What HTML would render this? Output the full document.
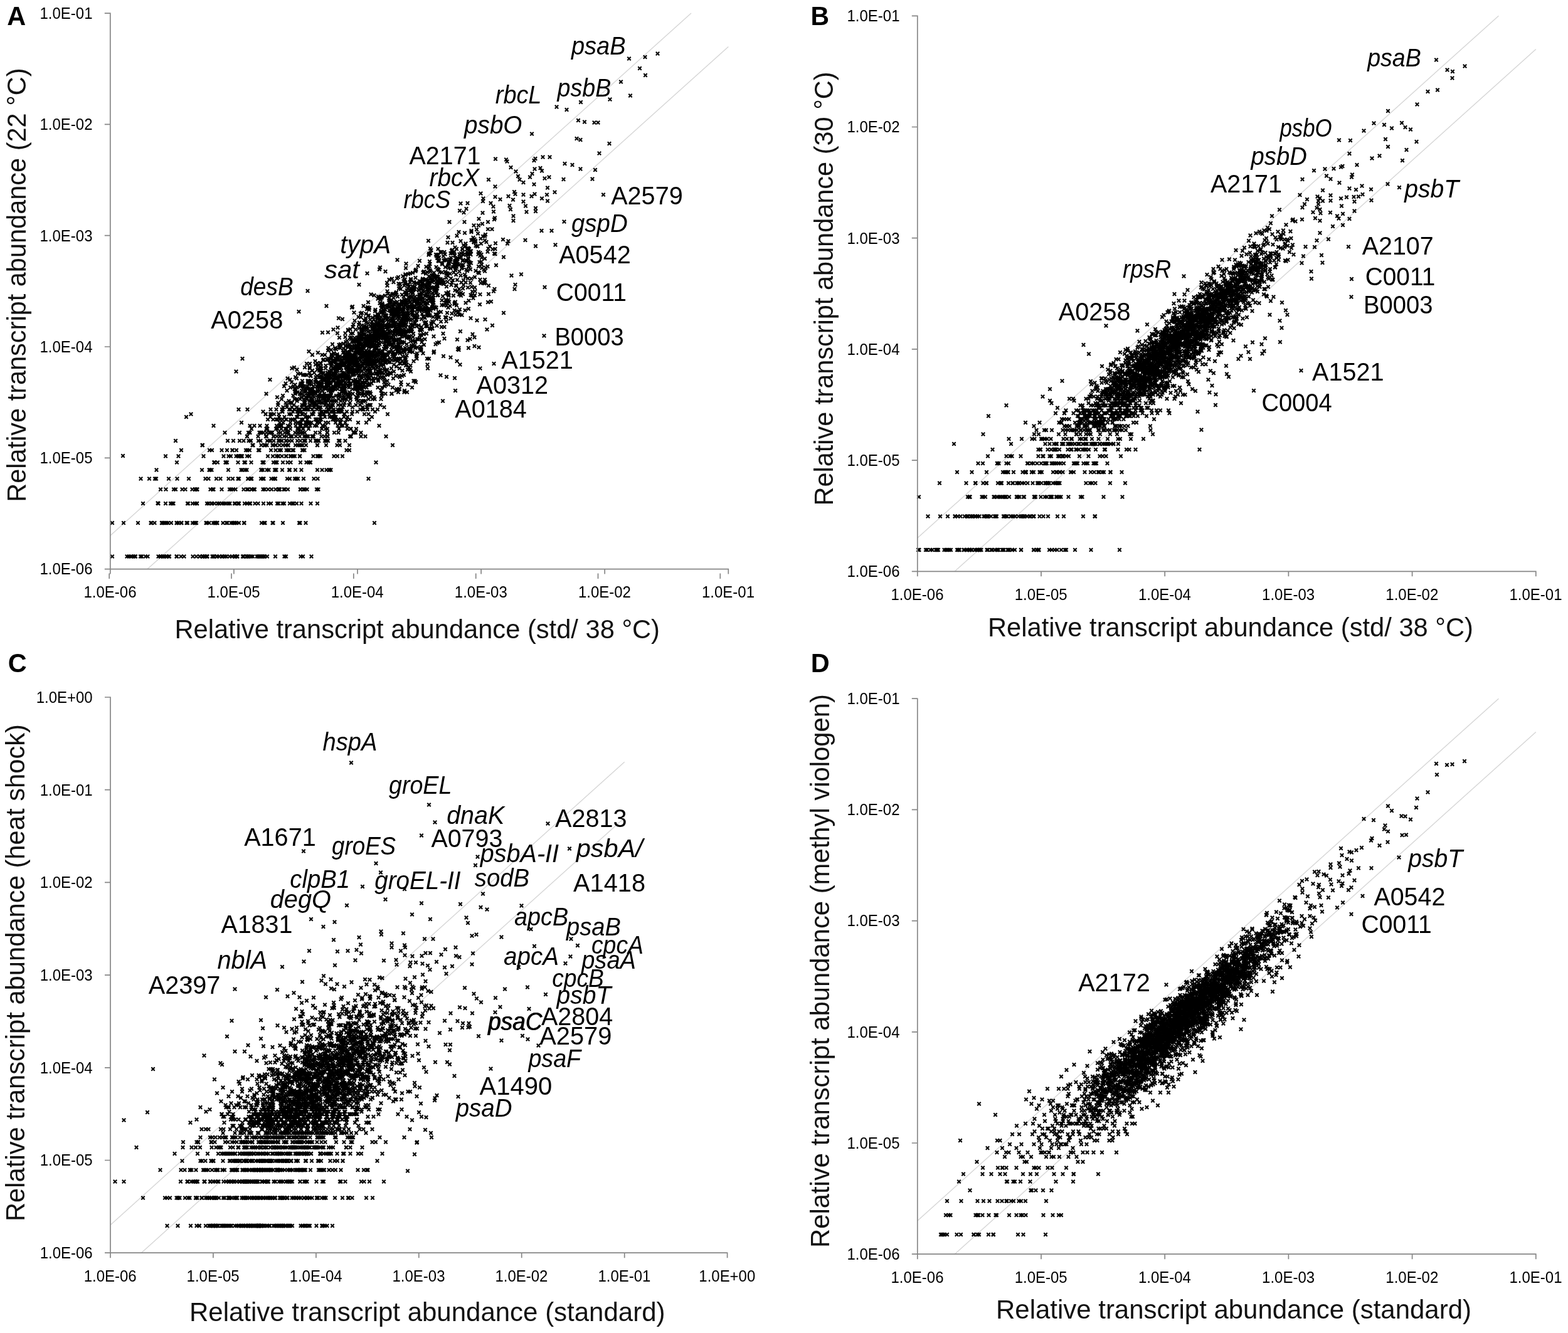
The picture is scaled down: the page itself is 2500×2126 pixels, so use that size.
<!DOCTYPE html>
<html lang="en"><head><meta charset="utf-8"><title>Relative transcript abundance scatter plots</title>
<style>html,body{margin:0;padding:0;background:#fff}svg{display:block}text{font-family:"Liberation Sans", sans-serif;fill:#000}.t{font-size:25px}.g{font-size:40px;font-style:italic}.n{font-size:40px}.ax{font-size:43px;fill:#111}.pl{font-size:42px;font-weight:bold}.pts{fill:none;stroke:none;marker-start:url(#m);marker-mid:url(#m);marker-end:url(#m)}.axl{stroke:#868686;stroke-width:1.7;fill:none}.dg{stroke:#d4d4d4;stroke-width:1.3;fill:none}</style></head><body>
<svg width="2500" height="2126" viewBox="0 0 2500 2126">
<defs><marker id="m" markerUnits="userSpaceOnUse" markerWidth="10" markerHeight="10" refX="5" refY="5" viewBox="0 0 10 10"><line x1="2.3" y1="2.3" x2="7.7" y2="7.7" stroke="#000" stroke-width="2.1"/><line x1="7.7" y1="2.3" x2="2.3" y2="7.7" stroke="#000" stroke-width="2.1"/></marker></defs>
<rect width="2500" height="2126" fill="#fff"/>
<g id="panelA">
<path class="dg" d="M175.8 854.2L1102 21.1"/>
<path class="dg" d="M235.1 907.6L1161.3 74.5"/>
<path class="pts" d="M712,436.5 675,475 593,665 597.5,572 705,421.5 734,528.5 639.5,613.5 478.5,653 594.5,596 658,543.5 508,633.5 474.5,690 584.5,566 618,596 695.5,490.5 386,727.5 593,538.5 565,690 585,649.5 599,514 424.5,684 634.5,550 579.5,533 341.5,737.5 343,834 571.5,543.5 703.5,449 209,887.5 728.5,376 636,572 389.5,834 689,476 401,763.5 714.5,378.5 478,727.5 494.5,628 677.5,507 479,737.5 750,451 713,499 525,611.5 530.5,646 644.5,517.5 665,554 364,749.5 440.5,749.5 730,421.5 640,530.5 370,887.5 502,679 607,530 519,684 695,450.5 684.5,460 590.5,532 488.5,636.5 583.5,514.5 620.5,482.5 689,490.5 541.5,586 591,562.5 493.5,646 542,584.5 689.5,480.5 475,596 552.5,587.5 515,594.5 445,665 617.5,573.5 626.5,498.5 638.5,580 632,543.5 599,568.5 696.5,440.5 366.5,803 715.5,471.5 681,453 616.5,510.5 471,749.5 379.5,763.5 613,503.5 503.5,609.5 651,504 481,649.5 512,591 419,749.5 566.5,571 474.5,625.5 628.5,504 628.5,481.5 323,887.5 662,555 574.5,589.5 753,465 484.5,616 666,478 421.5,710 698.5,416 322.5,710 546.5,649.5 741.5,495 382,727.5 530.5,639.5 773.5,450 727.5,456 644,598 269,763.5 672.5,545.5 444.5,703 654,527.5 672.5,493 314,803 609,601.5 535,586 506,710 558.5,613.5 527.5,631 461,653 747,417.5 562.5,531.5 514,618 534.5,599.5 489.5,636.5 658,467.5 570,552 508,611.5 465.5,696 533,660.5 470.5,669 701.5,450 412,718 497,660.5 503.5,669 627,520.5 607,498.5 570.5,618 568,684 620,518 511.5,620.5 627.5,545.5 464,660.5 633,555 288.5,887.5 686,396.5 473,803 542.5,609.5 509.5,660.5 669,416 456,887.5 777.5,401.5 626,618 635,541 521.5,611.5 627,603.5 742.5,388.5 521,649.5 607,533 560,571 484,780.5 509,618 631.5,494 579.5,653 514.5,679 632,523.5 555,631 667,484 525.5,631 498,628 653.5,523.5 486.5,642.5 601.5,532 480,633.5 697.5,456.5 582,573.5 719.5,454.5 575,555 436.5,696 507.5,639.5 548,596 456,684 573.5,605.5 612.5,649.5 697,503 644.5,625.5 616,553 576,540 247,763.5 342.5,834 648.5,529 270,887.5 590.5,541 773.5,509.5 627,495.5 637.5,522.5 490,653 284.5,727.5 508,703 226,887.5 442,633.5 565,596 659.5,503 639.5,493 645,623 414.5,887.5 506,618 522,684 562.5,571 503,581.5 606.5,591 523.5,616 685,473 255.5,887.5 635,547 482.5,611.5 473.5,639.5 284.5,834 514,530.5 487.5,834 607.5,580 629,554 517.5,605.5 537.5,710 606,527.5 612.5,605.5 483,887.5 562.5,589.5 527,628 560.5,538.5 502,642.5 731.5,555 416.5,749.5 567,690 643.5,490.5 625.5,528.5 610.5,574.5 708,450.5 580.5,539 558.5,525 636.5,554 505.5,653 613.5,567 553,565 531,587.5 479,596 645,446.5 530,623 681.5,462 581.5,572 583.5,571 484.5,653 493,628 633.5,496 575,599.5 589,546 643,516 631,557 680,532 623.5,499.5 453.5,665 503,703 385,674 282.5,763.5 576.5,642.5 403,710 623.5,537.5 693.5,464.5 473.5,618 551,596 358.5,690 540.5,584.5 532,665 457.5,623 504.5,639.5 606,572 614.5,504 613.5,506.5 531.5,656.5 643,504.5 597,556 548,607.5 425.5,684 689.5,467 541,631 435.5,669 600.5,545.5 523,559 658.5,520 647.5,511 488.5,674 426.5,684 457,696 619,507 639,494.5 536.5,581.5 506,749.5 697.5,503 605.5,525.5 575.5,690 577.5,579 652,488.5 564,598 538.5,653 556,568.5 569,620.5 539.5,607.5 592,572 539,587.5 542.5,555 764,435.5 584.5,562.5 738.5,414.5 492.5,560.5 652,539 585,493 737,397 541.5,611.5 492.5,631 530.5,669 584.5,527 479,780.5 330.5,887.5 565,551 483,718 416.5,690 665,563.5 628.5,502 520.5,599.5 574,646 518,703 571.5,554 606.5,646 616,503 538.5,584.5 565,544.5 630.5,501 524,607.5 533.5,576 591,628 747,413 545.5,636.5 656,527 327.5,763.5 523,703 715.5,421 451.5,674 563,576 614.5,528.5 422.5,710 511,633.5 674.5,434.5 614,536 506.5,623 582.5,639.5 454,690 480.5,803 568.5,552 637,587.5 580.5,511 576,565 525,749.5 590.5,591 770.5,451 684,572 615,537.5 595,545.5 616,551 631.5,484 540,507.5 550.5,628 523.5,555 754.5,475.5 655,529 521.5,574.5 587.5,613.5 611.5,530.5 575.5,599.5 496.5,887.5 715,478.5 228,803 662.5,545.5 588.5,572 510,639.5 569,618 608.5,511 650,489.5 535.5,609.5 611,539 357,803 535.5,577.5 462.5,679 667.5,462 601.5,509 579.5,555 566.5,567 562,656.5 655,556 489.5,679 668.5,470.5 647,522 677.5,453.5 552.5,636.5 682,493 674.5,451 624.5,628 685.5,449.5 544,669 577,527.5 706,446 766.5,451.5 434.5,834 669,469.5 469.5,620.5 603,473 281.5,887.5 602.5,536.5 557,710 619.5,546 642.5,501 552,611.5 644.5,546 557.5,565 394,803 438,749.5 599,536 354,803 420.5,737.5 514,642.5 527.5,749.5 570,625.5 605.5,521.5 577,618 602.5,520.5 421,834 713.5,387 631.5,527.5 550.5,703 646.5,451 511.5,649.5 603,533.5 746,395.5 717.5,436.5 556.5,587.5 784.5,365.5 548.5,636.5 528,558 381,763.5 611.5,538.5 673,453 657,474 307,834 662,473 754.5,379 537.5,587.5 654,537.5 610,526 619,561.5 591.5,537.5 531.5,620.5 727,438 653,482 597,577.5 718.5,508 660,478.5 470,763.5 696,407 546.5,583 610,486 555.5,603.5 516.5,607.5 474,656.5 339,780.5 579,551 311,803 548,607.5 554.5,566 488,710 594.5,524 541,628 520,710 523,646 586.5,529 668,451.5 692,458 647,427.5 545.5,574.5 758,385.5 745,432 743.5,406 541,581.5 640,530.5 648,577.5 635.5,452.5 633.5,533 684,440.5 440.5,653 708.5,402 641.5,545.5 589,646 620.5,495 697,411.5 572,628 763,425 517,636.5 738,460 468,803 480.5,669 773,432.5 595.5,536.5 684,404.5 341,887.5 562,649.5 568,579 533,601.5 596.5,550 505,679 697.5,455 643.5,448.5 480,674 627.5,540 733,502 730,421 679.5,492 482.5,660.5 674,494.5 464,696 638,453 522.5,656.5 630,523.5 632.5,556 618,598 516,573.5 587,572 694.5,549 567,572 624.5,508.5 733.5,411.5 757,458.5 471.5,679 596.5,527.5 593,584.5 537.5,603.5 569,636.5 456,703 636,508 558,592.5 686.5,433 679,494 710,483 563,607.5 517.5,618 442.5,669 523,613.5 512,660.5 686.5,459 335.5,780.5 630,563.5 561,566 542.5,599.5 556,601.5 626,512.5 575,500 601.5,555 541,609.5 536,557 564,567 728,416.5 633,490 708.5,521.5 469,586 539.5,607.5 590,625.5 565.5,511.5 679,486.5 550.5,568.5 323.5,887.5 500,616 475,710 385,727.5 769,357 615,577.5 749,418.5 734.5,409 685.5,479.5 613,573.5 652.5,536 500,696 555.5,599.5 720.5,450.5 668,463 461,703 681.5,581.5 695.5,467 559,557 614,543.5 531.5,616 612,572 598,580 549,561.5 330,834 534.5,576 646.5,438.5 525.5,665 616,504 609.5,530.5 547.5,548 612,587.5 455.5,710 525.5,579 572.5,609.5 567,574.5 425,696 570.5,639.5 652,560.5 654.5,583 540.5,656.5 632.5,524 561,490.5 616,551 668.5,494 655.5,489.5 627.5,546 435,710 672,495 443.5,727.5 578,653 566.5,562.5 662,488.5 746,411.5 567,566 584.5,535 488,633.5 635,625.5 674.5,463 690.5,481.5 493.5,594.5 504.5,669 666,506 669,487 398,718 510,628 535,616 566.5,620.5 596.5,581.5 364.5,763.5 625,553 643.5,529 574.5,538.5 446.5,669 603,598 652,555 455.5,710 496,633.5 692.5,460.5 731.5,370 541.5,568.5 465.5,642.5 529.5,620.5 542.5,581.5 658.5,494 409.5,887.5 398.5,690 506,579 511,591 691,487 416.5,710 661.5,543.5 455.5,642.5 494.5,737.5 457,684 633,444 489.5,618 493.5,639.5 645,507 726,481.5 622.5,496 607.5,523.5 654.5,466.5 735,467 311.5,780.5 495,737.5 751,419.5 712,457 473.5,589.5 657.5,474 327,887.5 479.5,887.5 456,703 534,665 577.5,620.5 732.5,422.5 457,646 676,550 658,543.5 767,388.5 543.5,646 596.5,542.5 431.5,653 523,639.5 472,696 767.5,417.5 599,589.5 579,616 744.5,397.5 610.5,514 788,404.5 431,690 516.5,660.5 459,710 594,540 589,591 448.5,679 581,533.5 557,549 355,887.5 276.5,803 547.5,556 557.5,561.5 704.5,486.5 481,623 531,594.5 589.5,591 577,524 436,737.5 556.5,568.5 615,613.5 587,515.5 506.5,763.5 556,566 581,580 511.5,584.5 604,502 678.5,446 735,404 765.5,469.5 420.5,887.5 525.5,649.5 456.5,669 539.5,631 551.5,603.5 450.5,803 684.5,492 519.5,642.5 761.5,392.5 661,487.5 644,520 460.5,639.5 773,446 539.5,690 542,674 463,674 639.5,609.5 583.5,500.5 627.5,571 545.5,580 469.5,636.5 496.5,639.5 528,598 597.5,551 313.5,780.5 654.5,559 645.5,487 416.5,749.5 610.5,576 498,639.5 778,365.5 539,573.5 488,649.5 653.5,450 637,527 656.5,498 289.5,834 491,620.5 569.5,574.5 741,371.5 565.5,589.5 647,469 533,656.5 504,609.5 511,727.5 379.5,737.5 524.5,599.5 664,568.5 587.5,581.5 507,583 579,611.5 607.5,636.5 659.5,550 583,563.5 614,533.5 679.5,491 470.5,690 556,587.5 507.5,587.5 614.5,577.5 739,406.5 562,489 547.5,580 493,609.5 460,690 505.5,703 394,727.5 565,556 522,696 489,649.5 605.5,549 512,599.5 485,631 531,574.5 444,780.5 434.5,710 645,512 232,887.5 664.5,451.5 576.5,566 478.5,616 574,573.5 647.5,420.5 636,460 739.5,339 511,579 700,416.5 550.5,572 340.5,780.5 506,710 626,561.5 748.5,423 755.5,385.5 610.5,522 659.5,576 603.5,592.5 727,496.5 422.5,710 731.5,558 431.5,703 729,446.5 778,354 470,727.5 519.5,599.5 582.5,603.5 659.5,461.5 387,887.5 569.5,562.5 644,579 655,517.5 642.5,528.5 543,549 546.5,679 532.5,563.5 626.5,535 606,573.5 555,603.5 362,737.5 531,568.5 587,576 293.5,887.5 650.5,492.5 589,572 584.5,523.5 752,457.5 475,690 511.5,611.5 451.5,649.5 548.5,665 572,552 650.5,613.5 361,887.5 534,584.5 575.5,577.5 411.5,803 638,485.5 492,653 539.5,636.5 636.5,517 450.5,656.5 673.5,457 605,525.5 604,576 205.5,887.5 459.5,710 587,482 553.5,576 528,649.5 569.5,596 499.5,727.5 567,543.5 629.5,568.5 504,646 569.5,618 538.5,568.5 573,584.5 586,492 423.5,660.5 723.5,434.5 561.5,592.5 587,587.5 471,674 556.5,576 552.5,718 485.5,718 559,611.5 439,887.5 785.5,397.5 599,584.5 623,550 604.5,562.5 506.5,649.5 585.5,613.5 338,803 487,674 631.5,553 683.5,406.5 382,690 448,718 404.5,780.5 420,803 586,549 414.5,679 661.5,607.5 376.5,592.5 664.5,476 549.5,660.5 364,803 600,536 215,887.5 589.5,571 519.5,703 470.5,628 478,696 683,451 657.5,489.5 548.5,660.5 396,690 384,727.5 688,518 640,511.5 560,572 454,780.5 574.5,563.5 252.5,803 575.5,542 525,749.5 589,546 666.5,424 446,780.5 728,487 620,511.5 556.5,592.5 397.5,727.5 503,669 789.5,397 396.5,703 474,703 547.5,613.5 543,581.5 591.5,545.5 610,568.5 655,511 594,577.5 503,642.5 664,566 512.5,696 632.5,496.5 747,492.5 595,603.5 431,660.5 639,533 618.5,567 486.5,653 639.5,528.5 588,503 485,703 598.5,559 567.5,554 416,763.5 603,607.5 625.5,501 452.5,780.5 374,803 593,567 446.5,696 624,587.5 677,481.5 440,684 496.5,625.5 478.5,834 547.5,581.5 706.5,532 575,568.5 701,434 557,631 689.5,485.5 425,684 763,359.5 559.5,684 282,887.5 480.5,710 629,493 353.5,718 485,642.5 700,410.5 559.5,576 742,441.5 567.5,542 565.5,572 548,607.5 778.5,396.5 777.5,425 672,509 566.5,605.5 523.5,596 621.5,548 586.5,490 439.5,718 435,727.5 537.5,603.5 642.5,527.5 577,639.5 462,803 524.5,620.5 614.5,628 557.5,561.5 514.5,679 679.5,425.5 332.5,763.5 627,542 617.5,464.5 504,628 526,596 661.5,461 761,393 626.5,509.5 522.5,696 695,491 507.5,780.5 699,430 545,598 721,398.5 524,646 363,703 601.5,507 609,563.5 581,609.5 527,609.5 674,487.5 274.5,803 470,669 574,584.5 659,532 377,718 577,537.5 521.5,631 420,737.5 427.5,780.5 645.5,445.5 592.5,611.5 618,660.5 571,562.5 611.5,496.5 439,749.5 642,519 616.5,519.5 778,482 594,653 492,737.5 375.5,780.5 477,834 673.5,493 612.5,601.5 524,611.5 617.5,533.5 728,415 494.5,620.5 737.5,397 592.5,536 684,503.5 731,498 627.5,498.5 747,404 601,566 570.5,571 601,586 683,384 564.5,498.5 500,656.5 563.5,592.5 636,497 582.5,566 621.5,530 515.5,596 707,453 619,487.5 368,727.5 586.5,544.5 639.5,546 576.5,572 570.5,577.5 655.5,472.5 578.5,559 458,763.5 562.5,577.5 471,710 498.5,696 523,636.5 756.5,381.5 684.5,452.5 613,538.5 611.5,494 691.5,562.5 395.5,780.5 471.5,625.5 578.5,649.5 513.5,623 466,669 545.5,569.5 640.5,536.5 670,556 577.5,559 610,511.5 639.5,514.5 349.5,803 642,496 395.5,763.5 362,718 633,501 386.5,572 281.5,834 637.5,524 637,620.5 419,763.5 442,803 260,834 614,534.5 564,581.5 646,572 626.5,507.5 602.5,533.5 624,500 600,573.5 504.5,703 632,552 277,780.5 724.5,495 680.5,446.5 521.5,611.5 598,504 595.5,525.5 592.5,517.5 600.5,540 669.5,478.5 695,406 596,534.5 685,523.5 604,574.5 588,599.5 268,834 551.5,586 633.5,576 482.5,710 598,518 439,763.5 547.5,618 520.5,609.5 728,425.5 265.5,834 569.5,656.5 664.5,494 518.5,679 622.5,481.5 573,514.5 635.5,561.5 513.5,656.5 652,586 652,457 586,580 506.5,727.5 577,553 775.5,386 589.5,594.5 362.5,834 548.5,646 457.5,649.5 617.5,536.5 493.5,665 696,508.5 685,466.5 586,583 505,616 610,531.5 266,887.5 681,503 459,780.5 715.5,427 574,611.5 521,609.5 480,611.5 635.5,517.5 622,561.5 651,454 574,549 531,620.5 593,539 473.5,636.5 318.5,887.5 507.5,613.5 700,546 626,519.5 547,579 537,601.5 679.5,470.5 526,649.5 571,674 635,573.5 514,623 698.5,407.5 607,540 727,455 584.5,540 620.5,482.5 601,541 463,727.5 607.5,519.5 458,690 685,417 304.5,660.5 665,500.5 556,580 558.5,628 512.5,601.5 550.5,568.5 533,690 748.5,402 506,727.5 479.5,616 527.5,609.5 682.5,447.5 710,433.5 499.5,642.5 493.5,586 463,618 624.5,511 520.5,601.5 598,530.5 585,607.5 575.5,541 618,539 462,642.5 575.5,599.5 725,483 713.5,437 739,454.5 256,780.5 634,561.5 535,611.5 646.5,574.5 575.5,506 562,580 635.5,501 395.5,763.5 524.5,605.5 579.5,553 591,646 617,544.5 637.5,601.5 434,690 490.5,607.5 660,450 624.5,628 524,603.5 464,727.5 617,451 546,601.5 673,460.5 428,803 647.5,517 733,493.5 610,563.5 664,509 517.5,696 439.5,710 638,541 608.5,631 611,566 572,598 379.5,727.5 537.5,567 659.5,607.5 341.5,737.5 607,533 615,508 428.5,749.5 523,653 648.5,539 648,509.5 760,366 531,646 588,554 630.5,534.5 558,642.5 398,803 603,542 684.5,473 652,473 603.5,547 513,684 590,527.5 594.5,567 568,569.5 629,517.5 709.5,405.5 661,515.5 259.5,887.5 496,636.5 505.5,646 505,780.5 489.5,696 764.5,418 449,679 661.5,504.5 588.5,494 553.5,562.5 619.5,520 765.5,408 597.5,520 534,587.5 699,497.5 567,559 692,435 497,620.5 607.5,475 641.5,525.5 543,674 536,589.5 389.5,737.5 663,609.5 488.5,737.5 370.5,718 444,690 491,609.5 613.5,557 657,618 608.5,594.5 577,591 736.5,502.5 351.5,763.5 536,581.5 631.5,623 543,601.5 552,568.5 574,573.5 505.5,674 626.5,494.5 524.5,603.5 609,473 528.5,583 765.5,446 503.5,609.5 340.5,679 340,887.5 370.5,718 413.5,718 384.5,749.5 593,513 691,471 511.5,580 572.5,613.5 496.5,613.5 507.5,609.5 641,599.5 632.5,620.5 571,592.5 596.5,471 361,834 653.5,527 637,518 746,444 581.5,577.5 719,444 682.5,453.5 634.5,559 608.5,475 653.5,560.5 587,569.5 743.5,430 399.5,763.5 662,515.5 647,511 653.5,462 742.5,483 704,451.5 456.5,718 686,404 604,558 624.5,574.5 507,562.5 459.5,710 598,566 346.5,834 531.5,665 252.5,887.5 584.5,601.5 307,803 328.5,834 751.5,368 636.5,560.5 705,419.5 527.5,577.5 729.5,411.5 582,577.5 345.5,887.5 589.5,581.5 366,780.5 443.5,642.5 584,576 394,696 713.5,449.5 625,444.5 523.5,616 459,718 614,487.5 420,690 571.5,550 632.5,542 593.5,536 560,559 412,703 579.5,639.5 561.5,598 546,594.5 620.5,532 647.5,508.5 664.5,500 290.5,780.5 611,500 422,887.5 711.5,443 529,623 665,484 704,521.5 610,560.5 564,591 495.5,803 681.5,466 583,507.5 716,419.5 746,458.5 463,696 541.5,607.5 574.5,560.5 489,598 509.5,669 721.5,387 528,603.5 607.5,505.5 411.5,696 523.5,653 512,642.5 510.5,639.5 571.5,639.5 449.5,703 539,646 656,494.5 485,696 773,376.5 703,513 541.5,616 388.5,887.5 516,660.5 518,639.5 498,566 743,415 672,493 666.5,541 520,656.5 660.5,506.5 583.5,598 594,636.5 375,803 453,696 568.5,586 639,461 603.5,584.5 781,393 636,620.5 450,656.5 471,625.5 745.5,324 374.5,834 673.5,446.5 501,646 561.5,573.5 474.5,665 513,613.5 576.5,525 487,665 392,718 582,550 511,601.5 598.5,494 490,674 553,679 745,405.5 470,636.5 403,887.5 558.5,594.5 646.5,569.5 322,749.5 580,598 587,568.5 711.5,512.5 679.5,514 603,536 715,466 692,461 433,660.5 695.5,426 464,642.5 477.5,710 647.5,503 394.5,653 590.5,594.5 680,458 604.5,559 656.5,461 537,601.5 444,703 475.5,690 557.5,571 505.5,599.5 353.5,780.5 509,623 295.5,780.5 583,549 566.5,607.5 698,505.5 629,519 711.5,506.5 621.5,489 619.5,613.5 563.5,517.5 461,660.5 614,471.5 335,749.5 774.5,427 395.5,887.5 527,618 661.5,452.5 510,601.5 272,803 639.5,519.5 590,509.5 648.5,463 527.5,618 584.5,552 538.5,616 494,580 494.5,623 768,422 374,887.5 554.5,581.5 486.5,625.5 612,568.5 555.5,574.5 641.5,576 622.5,594.5 419.5,780.5 379.5,803 299,803 585,542 558,603.5 377,834 574,543.5 788,350 528.5,565 554,605.5 696.5,453 598.5,580 648,511 617,589.5 735,471.5 212.5,887.5 495,639.5 621,520.5 528,639.5 634,473 753.5,382.5 673.5,456 439.5,710 235.5,887.5 550.5,552 536.5,639.5 729.5,413.5 507.5,633.5 360,737.5 610.5,534.5 519.5,583 629,527.5 526.5,611.5 509.5,649.5 757,442 535.5,669 751.5,383 672,485 632,497.5 566,574.5 343.5,834 649,625.5 586,567 592.5,580 528,592.5 389,834 571,587.5 687,474.5 648.5,499 531.5,598 588.5,580 550,567 401,763.5 721,404 718.5,414 502.5,609.5 314,803 637,527 475,674 620.5,527 627.5,489 444.5,660.5 504.5,646 399.5,703 560.5,574.5 587.5,636.5 683.5,461.5 750,429.5 492,674 590,576 486,679 718,417.5 690.5,505.5 662.5,443 647,470.5 627,512 671,553 358.5,887.5 401,780.5 598,528.5 380.5,727.5 607,478 674,444.5 681,501 535.5,665 490,669 567,525.5 755.5,386.5 645.5,486.5 374,834 650.5,503 498,696 342,737.5 445.5,718 371,834 738,402.5 675,446 725.5,394.5 639.5,514.5 451,737.5 772.5,452 330,887.5 572,518 524.5,631 521,603.5 451,710 547.5,623 712.5,482 498,653 628.5,485.5 381,834 669,483 531,577.5 692,560.5 391,749.5 519.5,618 514,609.5 529.5,598 197,834 498,636.5 615,579 645.5,504 572.5,618 676,433.5 445,679 578,530.5 398.5,679 660,489.5 584,521.5 603.5,551 480,679 360,803 447.5,690 424.5,628 554.5,616 546,620.5 609.5,628 573,531.5 400.5,737.5 380.5,803 554,665 603.5,547 633.5,486 559.5,696 507.5,613.5 593.5,540 506.5,631 585.5,537.5 444.5,780.5 554,684 752.5,471.5 541.5,703 671.5,559 541,554 581,660.5 262,887.5 541,574.5 548.5,561.5 640,502.5 513.5,566 617,533 643,530.5 517.5,598 592.5,552 637.5,527.5 633.5,491 612.5,609.5 728,397 496.5,607.5 765,485.5 493,628 524.5,603.5 641.5,497 534,620.5 502,642.5 446.5,696 585.5,646 289,718 763.5,349 619.5,516 520.5,703 659.5,462 648.5,557 446,674 583.5,539 634.5,511 582,587.5 572,584.5 757.5,464.5 734.5,439.5 605,563.5 420.5,763.5 526,599.5 432,718 602.5,618 632,527.5 289,834 572,558 424,696 629,515 621,479 482,607.5 584.5,522 611,512 605,592.5 770,377 735.5,450.5 462.5,605.5 589.5,553 347,803 577.5,532 562,586 673,526 762,372.5 466.5,718 521,607.5 391,737.5 611,566 773,383.5 635,501.5 508.5,727.5 451,631 724.5,485 742.5,450.5 585.5,607.5 599.5,596 527.5,618 681.5,494.5 698.5,441.5 588,574.5 415,690 540,586 578.5,631 591.5,542.5 581.5,561.5 595,552 519,587.5 580.5,618 654.5,544.5 524.5,611.5 639,553 634.5,526 674,476 557,718 626,550 737.5,426.5 726.5,428 670.5,449 741,438 682.5,450.5 669.5,455.5 280,703 625.5,565 555,628 502,625.5 657.5,456.5 603.5,547 713.5,436 216,887.5 545.5,616 537,583 689.5,524 649,467 478.5,674 681,434 538.5,603.5 689,447.5 720,400 751,400.5 492,628 549.5,580 651.5,499.5 669.5,460 545,573.5 657,502 589,539 534,556 529,571 696,441.5 574.5,536 550.5,603.5 601,555 224,887.5 593.5,517 553,656.5 378.5,887.5 605,579 493.5,649.5 632,466 635.5,572 628,592.5 642,568.5 605,511 515,574.5 696.5,519.5 661,552 249,763.5 596,539 710.5,478.5 688,480 430,703 571,616 691,514 725,407.5 769.5,339.5 646,535 624,537.5 576,524 586.5,567 585.5,628 538.5,571 583,548 569.5,609.5 624.5,492.5 573,628 619,489.5 374,887.5 609.5,484 543.5,639.5 673,500.5 440.5,669 469,653 669.5,475.5 430.5,605.5 557,625.5 604.5,516 579.5,533.5 568.5,558 653.5,589.5 494,625.5 519,631 646,555 518,566 586.5,547 614.5,519.5 648.5,482.5 333.5,834 755.5,359.5 587,565 586.5,613.5 543.5,611.5 572.5,584.5 484.5,636.5 482,718 406.5,803 522,594.5 627,515 620,577.5 715,418.5 489.5,696 569.5,538.5 714,440 650,485.5 353.5,887.5 484,763.5 572,538.5 458.5,737.5 647,533 641,562.5 562.5,573.5 470.5,613.5 574.5,653 647,483.5 726.5,412 544,620.5 447.5,679 638,493 674,481 580,526 642,493.5 751.5,370 550,581.5 640.5,508.5 628.5,568.5 646.5,529 606,589.5 679,484 575,536.5 441,679 613,591 619,549 549.5,642.5 609,524 450.5,669 704,402 557.5,561.5 557.5,552 553,669 456.5,703 613.5,553 602,551 673,468.5 598,656.5 606,519 758.5,432 561,580 599,532 533,669 551,576 580.5,613.5 449.5,727.5 562.5,543.5 632,584.5 685.5,503 637.5,579 650,460 531.5,525.5 569,552 675.5,533 746.5,405.5 697,449 640.5,480 726,422 628.5,498 626,551 674.5,563.5 597,544.5 299,834 463,684 511,665 607.5,496 747.5,396.5 506,589.5 388.5,780.5 465.5,703 523.5,674 495,611.5 539,656.5 604,522 558,696 543.5,586 603,503 548,620.5 648,480 589.5,613.5 563,545.5 256.5,887.5 541.5,601.5 491,631 550,601.5 574,620.5 486,586 479,613.5 732.5,433 787,464.5 725.5,463 596.5,633.5 401,780.5 667,491.5 580,580 546,727.5 631,483 634.5,495 725.5,416.5 773,412.5 614,565 601.5,536.5 464,660.5 550.5,609.5 487.5,696 669,448.5 699.5,430.5 561,552 628,581.5 619,521.5 655.5,553 682,459 536,589.5 679,436.5 694.5,463 581,522.5 625,488.5 592,599.5 638,556 645,478.5 607.5,583 563.5,573.5 658.5,458 625.5,469.5 486,620.5 760.5,511 622,577.5 657,525 528,577.5 547.5,581.5 616.5,521.5 586.5,579 458.5,603.5 714.5,490.5 592,561.5 542.5,598 677.5,472 694.5,501.5 510,631 556.5,584.5 533.5,639.5 600,552 677,465 624,478.5 569,574.5 538,531.5 722,447 702,402 628.5,511.5 474,684 673,452.5 597,523.5 495.5,599.5 712,414.5 750.5,507.5 462,749.5 311,780.5 570.5,631 535.5,572 641,508.5 679,496.5 550.5,537.5 768,411 608,491.5 494.5,679 627.5,502.5 678,472 716,481.5 531.5,665 685,456 580.5,562.5 595,587.5 661.5,479.5 427,669 600.5,519 582,547 437,660.5 427,727.5 559,587.5 611.5,581.5 486,598 544,679 528.5,646 605.5,508.5 621.5,471 394,780.5 393,887.5 655,445 490.5,653 624,508.5 615.5,555 600.5,527 588.5,603.5 622.5,545.5 478.5,636.5 345,763.5 656,462.5 645.5,465.5 567.5,646 602,653 602.5,530 519,674 596.5,550 604.5,567 549,633.5 345.5,887.5 690,445.5 598.5,577.5 641,513 675,504.5 614.5,494 527.5,639.5 569,583 646,453 627,505.5 337,803 738,469 307.5,887.5 526.5,572 637.5,563.5 516,631 627.5,520.5 503,690 577,569.5 332.5,803 671,469.5 644,500 557,579 393.5,749.5 512.5,611.5 400,703 490,665 596.5,561.5 559.5,532 717.5,488 696,408.5 622,483 406,780.5 314.5,780.5 546,509 589,592.5 453,616 691,482.5 726,416.5 564,607.5 297.5,834 583.5,631 638.5,572 723,403 712,487.5 584,542 711.5,435.5 478,628 674.5,464 422.5,834 643.5,558 528,656.5 640,481.5 637.5,458 741.5,393 568.5,633.5 644.5,484 483.5,684 607,536 581,628 530,549 554.5,572 758,384 629,573.5 594.5,552 483.5,618 538.5,591 612,574.5 726,431 716.5,413.5 586,653 571,631 582.5,696 342,803 578,609.5 599,603.5 643,516 449,703 463,669 388,887.5 726,424.5 326,887.5 645.5,478.5 518,665 602.5,530.5 543.5,653 555,601.5 528.5,665 547,562.5 550.5,625.5 349.5,887.5 596,509.5 671.5,477 575,616 498,696 562.5,521.5 485,703 422,780.5 682.5,471.5 466,803 465.5,649.5 691,483 545,625.5 591.5,567 390,803 697,406.5 747.5,479.5 612.5,596 495.5,620.5 733,336 597,537.5 562,542.5 767.5,406 501,625.5 642.5,440.5 475,653 655,447 535,674 612,489.5 766.5,380.5 592.5,605.5 498.5,696 445.5,710 515.5,633.5 436,696 483,684 724.5,401.5 490.5,616 577.5,603.5 624,558 572.5,544.5 601,525 378,887.5 619,539 478,679 405.5,679 496.5,674 441.5,737.5 570,579 544.5,580 580.5,565 467.5,631 264.5,780.5 559,684 676,433 544.5,591 491.5,674 600.5,567 635,442 364.5,727.5 519,639.5 636,599.5 627.5,450 617.5,607.5 569,636.5 465.5,587.5 566.5,616 734.5,384.5 662.5,431 401,684 493.5,674 490,631 663.5,506 648.5,549 744.5,402 697,547 478.5,653 589.5,561.5 531.5,620.5 439.5,737.5 648.5,503.5 667.5,519 301,763.5 722,426 448.5,684 561,660.5 549,618 672,521.5 681,520.5 534.5,592.5 578,584.5 665,541 750.5,470.5 637,533.5 729.5,464.5 635,549 513.5,749.5 682,587.5 787,337.5 500,646 686,525 481.5,660.5 269,887.5 640.5,496.5 714,424.5 608.5,567 538,727.5 684,476.5 646.5,479.5 617,488.5 444,803 594.5,537.5 510.5,586 441.5,696 556.5,618 758.5,392 658,517.5 587.5,536 589,613.5 579.5,554 620,542 559.5,696 487.5,633.5 527.5,631 641,470 627.5,496 486.5,646 573,563.5 637.5,521.5 511.5,656.5 732,461 503,605.5 550.5,636.5 736.5,423 547,599.5 450,749.5 510.5,653 520,613.5 666,494 610,518 570.5,552 577,592.5 599.5,556 704.5,434.5 549,633.5 264,803 558,576 548,599.5 611.5,567 549.5,623 555,554 519.5,639.5 516.5,660.5 540.5,684 608,498.5 641.5,591 607.5,623 451,834 689.5,489 557,571 489,580 604.5,679 689.5,459 540.5,550 648.5,567 586.5,561.5 449.5,653 633,529 617.5,526 548,623 616,521.5 789,347.5 658.5,467 628.5,495 481,613.5 565.5,539 399,803 586.5,550 240.5,834 258,834 539,611.5 481.5,660.5 592,563.5 473,603.5 394.5,718 509,591 566,618 557.5,581.5 503.5,601.5 630.5,574.5 512,669 617.5,455.5 531,633.5 707.5,486.5 531.5,669 732,501.5 665,480.5 459,679 744,416.5 621,549 388.5,703 585,598 590.5,587.5 556.5,607.5 669.5,526 582.5,587.5 656.5,551 613.5,532 757,471 617,552 693.5,440.5 554.5,574.5 522,690 613,496.5 573.5,557 323,710 555.5,601.5 544.5,577.5 748,397.5 510,674 606.5,526 394,696 660,476 630.5,520.5 675,505.5 524,623 442.5,684 554.5,551 572.5,533 617,565 558,669 662.5,432.5 494,587.5 593,537.5 607.5,487 699.5,444.5 738.5,422.5 380.5,653 562,620.5 446,703 517.5,603.5 644.5,455.5 688.5,439 696,464.5 413.5,690 462,763.5 467,656.5 264,727.5 581,566 626.5,512 579,540 547,623 696.5,502 495,599.5 558.5,572 475.5,660.5 534.5,555 640.5,485.5 417,834 523.5,572 528,580 545,656.5 583,510.5 669.5,525 525,592.5 575,550 568.5,592.5 438.5,763.5 532,605.5 647.5,517.5 566,554 516,603.5 669,456 346,887.5 651.5,538.5 423.5,660.5 576.5,519 563.5,690 525,636.5 708.5,540 501,633.5 627.5,566 651,437 605,601.5 636.5,485.5 604.5,515 571.5,548 534.5,598 511,594.5 668,463 723.5,422 456,727.5 568.5,581.5 433.5,690 533.5,596 629.5,517.5 597.5,540 550,572 482.5,690 545,653 669,540 500.5,642.5 543.5,579 645.5,561.5 241.5,834 425,690 381,803 647,583 603,576 453,803 572.5,558 726.5,502 453.5,887.5 609,618 532.5,607.5 603,538.5 474,656.5 431,665 382,703 596,607.5 605,536 449,636.5 372,703 698.5,470.5 535,586 538.5,620.5 664.5,486.5 509,642.5 572.5,599.5 661.5,457 374.5,887.5 497.5,642.5 330,803 324.5,727.5 789.5,405 547,598 530,620.5 613.5,616 691,439 499.5,646 559,636.5 750,400.5 311.5,834 771.5,430 403.5,710 592,547 368.5,780.5 419,887.5 313,834 697.5,471 527.5,589.5 719,411 577,499 610,574.5 583,576 688,444.5 576.5,537.5 505.5,669 506,674 568,545.5 480.5,656.5 481.5,646 603,605.5 691.5,536.5 532.5,727.5 606.5,561.5 477,656.5 541,538.5 680.5,478.5 698.5,397 238,763.5 539,656.5 542,656.5 529,649.5 658,499 678,457 703,497.5 435.5,710 627,484.5 672.5,542 510,690 555.5,633.5 480.5,749.5 513,616 492,607.5 681,572 258,834 487,623 690,446.5 528,591 567,591 463,653 425.5,749.5 658,435 627,468.5 605,515 713.5,468.5 337.5,749.5 572.5,591 587,538.5 691,492.5 465,609.5 567,574.5 762.5,434.5 597.5,533 536.5,596 745.5,542.5 586.5,603.5 685.5,421 550.5,674 654.5,482 546.5,620.5 631,467.5 669.5,488 473.5,649.5 523.5,599.5 375.5,887.5 644,510.5 551,603.5 663.5,430 737.5,416 300,803 500.5,649.5 620,544.5 577.5,628 602.5,476.5 686.5,495.5 556.5,646 669.5,534.5 671.5,534.5 282,834 436,763.5 426,887.5 711.5,467.5 611.5,526 626,500 634,506 656.5,484 561,580 591.5,469.5 633.5,506 654,436 646.5,437.5 483,669 704.5,479 642.5,559 583.5,559 595.5,563.5 615,536 577,548 579.5,488 445,780.5 589,491 572.5,523.5 588.5,669 588.5,573.5 280,780.5 372,780.5 515.5,636.5 550,616 441,727.5 611.5,567 591,633.5 492.5,674 543.5,581.5 689,450 559.5,541 433,780.5 732,469.5 575.5,533.5 538.5,522.5 499,625.5 573,605.5 576,526 202.5,887.5 595,607.5 601.5,501 412,887.5 585,591 394,803 549,625.5 456,669 590.5,520.5 546.5,607.5 627.5,475 644,501 593.5,549 584.5,625.5 670.5,527.5 444,727.5 555,589.5 455,684 318.5,887.5 716.5,354 652,474 614.5,538.5 555,526 626.5,512.5 425.5,679 468,718 652.5,478.5 700,506 463.5,737.5 709.5,414.5 610.5,603.5 614,535 484,646 265,887.5 519,620.5 739,391 628,565 587.5,660.5 432,803 664.5,572 418.5,737.5 751.5,444.5 558,538.5 512,594.5 594,506.5 558,571 477.5,684 685.5,444 763,402 655,592.5 561.5,567 518,656.5 614,576 483.5,598 644,489.5 562.5,596 520.5,749.5 615,544.5 581,568.5 547.5,583 645.5,504.5 528,584.5 495,703 432.5,763.5 486,780.5 371,763.5 693,442.5 417.5,887.5 539.5,669 688.5,523.5 558,611.5 689,512.5 571.5,505.5 610.5,581.5 715,470 471,601.5 419.5,656.5 425.5,710 774,374 565.5,543.5 596.5,528.5 530.5,656.5 643.5,473 637.5,489.5 475,763.5 542,710 356.5,727.5 710,506 498,639.5 648.5,581.5 647.5,503.5 559.5,569.5 487,660.5 578.5,625.5 612.5,539 522,594.5 564.5,569.5 478,727.5 553.5,551 499.5,660.5 540,703 506,803 664,520.5 628.5,542 491.5,696 461,718 663.5,510.5 650,495.5 550.5,599.5 475,684 451,653 521.5,690 575,613.5 542.5,633.5 642,494.5 537.5,565 551.5,545.5 782.5,324 532.5,563.5 359.5,737.5 644.5,536.5 677,515.5 501,594.5 584.5,521.5 588,559 707,408.5 485.5,639.5 568,633.5 455.5,611.5 701,451 683.5,501.5 653,509.5 479,703 697.5,428.5 616.5,531.5 725,418.5 683.5,427.5 687.5,399 617,591 567.5,592.5 518.5,636.5 397,887.5 658.5,537.5 313,887.5 366,887.5 747,425 720.5,500 601,563.5 584,674 697,460 702.5,445 479.5,690 678,491 653.5,527 535.5,613.5 402.5,710 479.5,690 648.5,527.5 579.5,580 475.5,684 478,628 597,559 550.5,531.5 629.5,517 609,628 497,636.5 570,591 643.5,493 605.5,596 576.5,620.5 677.5,541 691,475 658,488.5 560.5,557 368.5,834 569,561.5 627.5,532 556.5,611.5 732.5,405.5 638.5,515.5 623.5,596 658,509.5 654,522 498,591 765.5,403.5 345.5,834 543.5,646 711.5,478.5 584,548 593.5,525 517,628 695.5,461.5 386.5,749.5 400.5,887.5 525,660.5 571,623 499,620.5 509,611.5 622.5,530.5 739,447 443,646 637.5,494 706,472.5 495,646 487,703 520.5,631 508,703 306.5,780.5 645.5,558 538.5,679 542,598 693,489.5 467.5,727.5 558.5,633.5 512.5,587.5 426,703 566,609.5 536.5,611.5 562.5,628 333.5,749.5 593.5,583 555,596 521.5,573.5 512.5,605.5 606.5,594.5 472.5,763.5 535,618 650,589.5 587,504 768.5,427.5 555,527 626.5,520.5 585,574.5 471,623 486,690 668,473 564.5,581.5 263,834 597.5,636.5 489.5,780.5 613.5,502.5 553.5,543.5 340,834 429.5,690 602,515.5 718.5,428 436.5,703 592.5,576 536,631 551,558 488.5,653 599.5,594.5 473,665 476,684 570.5,538.5 631,599.5 643.5,503.5 329.5,887.5 630,530.5 671.5,557 658,561.5 547.5,631 249.5,749.5 542,653 682,484 468.5,646 513,631 456.5,727.5 609.5,488 684.5,424.5 583,592.5 740.5,354 580.5,563.5 641,486.5 651.5,528.5 563.5,579 619,468.5 648,467 334,718 687.5,515.5 567,583 273,834 553.5,565 439.5,737.5 590.5,532 481,628 581,586 618,518 433,690 435.5,834 612,556 695,445 570.5,607.5 492,684 622,572 502.5,625.5 651,508.5 733.5,469.5 584.5,618 597,519.5 624.5,501.5 529,567 641,533.5 528,625.5 642,500 479,780.5 610,519 654,476 736,428 411.5,887.5 554.5,561.5 575.5,696 683,497 632.5,542.5 632,470.5 394,887.5 679,520 685.5,431 689,478.5 634.5,517.5 523,530 539,601.5 499,631 602,596 678.5,514.5 607.5,519.5 570,611.5 644.5,580 762.5,405.5 532,653 605.5,483.5 376.5,727.5 723,471.5 701,452 624.5,540 355.5,834 615,503 338,718 575.5,583 493,611.5 608.5,546 543,583 593.5,521.5 710,426 518.5,646 323.5,887.5 439.5,737.5 622,519 602.5,506 550.5,566 518.5,646 707.5,415.5 338.5,887.5 461,749.5 596,573.5 565.5,611.5 635,504 581,520 613.5,549 525,653 641,547 660.5,481.5 786.5,329.5 530.5,605.5 347,737.5 504,605.5 614.5,534.5 580.5,544.5 468,616 587,541 415.5,703 567.5,616 502.5,576 635,529 439.5,780.5 750.5,406 620,476 566,563.5 633.5,481.5 718.5,404 591,548 586.5,625.5 310,834 500.5,763.5 552.5,591 598,496.5 1003,93.5 1028.5,91 1048.5,85.5 1020,109 1029,120 990,130.5 1005,152.5 972.5,158.5 926,163 887.5,170.5 903.5,175 922,192 932,194.5 947.5,195.5 953.5,195.5 848,213.5 919.5,221 925.5,223 971.5,229 955.5,244.5 790,253.5 807,254.5 808.5,257.5 853.5,253 851.5,256 865.5,250.5 876.5,250.5 814.5,267 822.5,273.5 826,281 828.5,286.5 834.5,291 852.5,269.5 861.5,268 864,272.5 848.5,277 845,282.5 868.5,284.5 875.5,282.5 900.5,261 912.5,263 925.5,269.5 949,271 898.5,286 944.5,285.5 779,286.5 789.5,297.5 851.5,294 873,299.5 884.5,306.5 962,310.5 766.5,308.5 770.5,316.5 770,321 789.5,314 797.5,318 810.5,313 820,306 821.5,309.5 818,318.5 834.5,310.5 834.5,321.5 847.5,313 852.5,309.5 864,316.5 872,310.5 873,320.5 838,328.5 839.5,338 854,332 854,337 812.5,328 814,334 818.5,344.5 818.5,352 899.5,353.5 863.5,368 879.5,368 837.5,383 854,392.5 885.5,390.5 802,382 810.5,384.5 809,388.5 790,388 803,410 791,423 815.5,439.5 831,437.5 821.5,454 820.5,461 868.5,458 803,499 785,519 776.5,525.5 867.5,535.5 729,541.5 749.5,540.5 756.5,538 753.5,533 730,557 747,555 756.5,552 763.5,554 707,568 718.5,570 728.5,576 733.5,581.5 765.5,587.5 787.5,580 702.5,598.5 712,601 725,603 726,623 706,639.5 788.5,461 779,455.5 779,469 783,481 633.5,414.5 606,426.5 605,429.5 614.5,433 585.5,436 572.5,454 490.5,464 520.5,488 476.5,497 620.5,446 734.5,324.5 743.5,333 179,887.5 209,887.5 179,834 220,834 246.5,834 224.5,763.5 196,727 297,665 282,737.5 251.5,802.5 597,834 587.5,763.5 599.5,737.5 626,710 615.5,696"/>
<path class="axl" d="M175.8 20.3V915.6M166.8 907.6H1162.1M166.8 730.3H175.8M372.9 907.6V915.6M166.8 553H175.8M570 907.6V915.6M166.8 375.7H175.8M767.1 907.6V915.6M166.8 198.4H175.8M964.2 907.6V915.6M166.8 21.1H175.8M1161.3 907.6V915.6"/>
<path class="axl" d="M174.2 914.6V923.1M369 914.6V923.1M563.8 914.6V923.1M758.7 914.6V923.1M953.5 914.6V923.1M1148.3 914.6V923.1"/>
<text class="t" x="147.5" y="916.4" text-anchor="end" textLength="84" lengthAdjust="spacingAndGlyphs">1.0E-06</text>
<text class="t" x="175.5" y="953.1" text-anchor="middle" textLength="84" lengthAdjust="spacingAndGlyphs">1.0E-06</text>
<text class="t" x="147.5" y="739.1" text-anchor="end" textLength="84" lengthAdjust="spacingAndGlyphs">1.0E-05</text>
<text class="t" x="372.6" y="953.1" text-anchor="middle" textLength="84" lengthAdjust="spacingAndGlyphs">1.0E-05</text>
<text class="t" x="147.5" y="561.8" text-anchor="end" textLength="84" lengthAdjust="spacingAndGlyphs">1.0E-04</text>
<text class="t" x="569.7" y="953.1" text-anchor="middle" textLength="84" lengthAdjust="spacingAndGlyphs">1.0E-04</text>
<text class="t" x="147.5" y="384.5" text-anchor="end" textLength="84" lengthAdjust="spacingAndGlyphs">1.0E-03</text>
<text class="t" x="766.8" y="953.1" text-anchor="middle" textLength="84" lengthAdjust="spacingAndGlyphs">1.0E-03</text>
<text class="t" x="147.5" y="207.2" text-anchor="end" textLength="84" lengthAdjust="spacingAndGlyphs">1.0E-02</text>
<text class="t" x="963.9" y="953.1" text-anchor="middle" textLength="84" lengthAdjust="spacingAndGlyphs">1.0E-02</text>
<text class="t" x="147.5" y="29.9" text-anchor="end" textLength="84" lengthAdjust="spacingAndGlyphs">1.0E-01</text>
<text class="t" x="1161" y="953.1" text-anchor="middle" textLength="84" lengthAdjust="spacingAndGlyphs">1.0E-01</text>
<text class="g" x="911" y="87.3" textLength="86.5" lengthAdjust="spacingAndGlyphs">psaB</text>
<text class="g" x="888.6" y="153.8" textLength="85.6" lengthAdjust="spacingAndGlyphs">psbB</text>
<text class="g" x="789.8" y="164.7" textLength="73.5" lengthAdjust="spacingAndGlyphs">rbcL</text>
<text class="g" x="740.1" y="213.4" textLength="92.3" lengthAdjust="spacingAndGlyphs">psbO</text>
<text class="n" x="652.5" y="261.6" textLength="114" lengthAdjust="spacingAndGlyphs">A2171</text>
<text class="g" x="684.5" y="297" textLength="79.6" lengthAdjust="spacingAndGlyphs">rbcX</text>
<text class="g" x="643.5" y="332.2" textLength="74.7" lengthAdjust="spacingAndGlyphs">rbcS</text>
<text class="g" x="542.3" y="404.2" textLength="80.8" lengthAdjust="spacingAndGlyphs">typA</text>
<text class="g" x="517" y="443.5" textLength="55.9" lengthAdjust="spacingAndGlyphs">sat</text>
<text class="g" x="383.2" y="471.3" textLength="84.4" lengthAdjust="spacingAndGlyphs">desB</text>
<text class="n" x="336.2" y="524.1" textLength="115.2" lengthAdjust="spacingAndGlyphs">A0258</text>
<text class="n" x="974.2" y="325.9" textLength="114.5" lengthAdjust="spacingAndGlyphs">A2579</text>
<text class="g" x="911" y="370.1" textLength="89.7" lengthAdjust="spacingAndGlyphs">gspD</text>
<text class="n" x="891.2" y="419.9" textLength="114.5" lengthAdjust="spacingAndGlyphs">A0542</text>
<text class="n" x="886.8" y="479.7" textLength="112.1" lengthAdjust="spacingAndGlyphs">C0011</text>
<text class="n" x="884.4" y="551.3" textLength="110.2" lengthAdjust="spacingAndGlyphs">B0003</text>
<text class="n" x="799.3" y="587.5" textLength="114.5" lengthAdjust="spacingAndGlyphs">A1521</text>
<text class="n" x="759.5" y="628" textLength="114.5" lengthAdjust="spacingAndGlyphs">A0312</text>
<text class="n" x="725.3" y="665.8" textLength="114.5" lengthAdjust="spacingAndGlyphs">A0184</text>
<text class="ax" x="278.4" y="1017.7" textLength="773.6" lengthAdjust="spacingAndGlyphs">Relative transcript abundance (std/ 38 °C)</text>
<text class="ax" transform="translate(41 800.8) rotate(-90)" textLength="692.3" lengthAdjust="spacingAndGlyphs">Relative transcript abundance (22 °C)</text>
<text class="pl" x="11.3" y="39.9" textLength="30" lengthAdjust="spacingAndGlyphs">A</text>
</g>
<g id="panelB">
<path class="dg" d="M1462.8 858L2389.4 25.3"/>
<path class="dg" d="M1522.2 911.3L2448.8 78.6"/>
<path class="pts" d="M2045.5,396.5 1918,549 1921.5,507.5 1933,505.5 1975.5,462 1909,534.5 1982,447.5 1704.5,668.5 1810,599 1811,597 1727,823.5 1834.5,601.5 1817,626.5 1788,582.5 1774.5,659 1919.5,470 1791.5,623.5 1917.5,474 1793,610.5 1881.5,535 1746.5,739 1709,700 1907,540 1864,581 1927,519 1913,500 1899,586 1832,571.5 1930,487.5 1838.5,629.5 1923.5,519.5 1821.5,615.5 1986,459 1883,643 1855.5,571.5 1917.5,494.5 1832,591.5 1713,686 1856.5,576 1693,668.5 1806.5,659 1688.5,674 1947.5,482.5 1923.5,508 1716,739 2003.5,462 1884,567.5 1777.5,679.5 1727.5,654.5 1841,593 1971.5,471.5 1756.5,654.5 1854.5,566 1940,470 1962.5,471.5 2019.5,386 1936.5,521 2046.5,373 1925,512 1923.5,519 1960.5,480.5 1808.5,582.5 1770.5,595 1775.5,579 2031.5,415.5 1749,636 1766,674 1875,558 1754.5,668.5 1854.5,579 1892.5,545 1893.5,544 1966.5,505.5 2026,480 1879.5,597 1892.5,508.5 2017.5,415.5 1907,560.5 1893.5,563.5 1952,467 1889,567.5 1864.5,515.5 1971,481 1833.5,567.5 1981,433.5 1893.5,531 1961,478.5 1735.5,636 1995.5,435.5 1956,537 1778,613 1955,487.5 1820.5,603.5 1983,425.5 1870,543 1647.5,739 1753.5,708 1868,522.5 1838,639 1934.5,429 1820.5,579 1917.5,512.5 1608,770.5 1971.5,512 1833.5,540 1949.5,474.5 1991,441.5 1831,566 1800.5,717 1805,567.5 1819,603.5 1928,477 1893.5,495.5 1929,510 1823,582.5 1847,579 1975,475.5 1982.5,432.5 1963,443 1793.5,595 1686,650.5 1988,506 1866.5,558 1789,686 1865.5,562 1940.5,531 1853,571.5 1793,610.5 1851.5,613 1945.5,493.5 1669,739 1937.5,495 1875,557 1712,753 1675.5,700 1858,552.5 1820,650.5 1847.5,551 1772,654.5 1833,589.5 1776.5,605.5 1921.5,502.5 1880,543 1833.5,613 1872.5,551 1849.5,599 1959.5,506.5 1784.5,679.5 1857.5,623.5 1483.5,877 1925.5,527.5 1803,615.5 1802.5,610.5 1814.5,610.5 1700.5,679.5 1832,591.5 1853,608 1928.5,515.5 2000.5,394 1653.5,739 1954,506 1966,464 1972.5,466.5 1925.5,493 1796.5,567.5 1892.5,513.5 1895,551 1592.5,739 1846,629.5 1666,700 1900.5,547 1954,465 1980.5,461 2027,404.5 1992.5,459 1848.5,581 1942.5,552.5 1837,584 1729,663.5 1845,566 1769.5,646.5 1914.5,512 1907,577.5 1567,739 1821.5,584 1562,877 1990.5,458.5 1836,554.5 1781,692.5 1785.5,618 1957,459.5 1834,605.5 1825,577.5 1928.5,456.5 1853.5,542 1734.5,663.5 1991,473 1943,524 1893.5,540 1825.5,566 1916.5,497.5 1878,537 1908,503.5 1867.5,589.5 2028,344.5 1737,663.5 1752.5,686 1932,489 1889,519 1746,823.5 1926,514.5 1875.5,597 1621,792.5 1762.5,636 1840,582.5 1825.5,613 1818,577.5 1723,792.5 1793.5,605.5 1952.5,466.5 1803,659 1618.5,823.5 1688,739 1895.5,522 1836.5,659 1871,568.5 1851,601.5 1847.5,557 1837.5,556 1977.5,437.5 1981.5,508 1971.5,460.5 1910,562 1797.5,593 1790,584 1827.5,558 1971,476 1615,823.5 1789,593 1913,495 1864.5,539 1780.5,668.5 1901.5,509.5 1947,562 1968.5,444.5 1903.5,509.5 1838.5,639 1912,562 1964,459.5 1869,546 1612,708 1886.5,584 1990.5,455.5 1872.5,584 1674,620.5 1911,493 2010.5,397.5 1643,823.5 2021.5,388.5 1864.5,659 1931.5,504.5 1901.5,533.5 2025,418.5 1860,535 1904,505 1749,654.5 1521,708 1464,877 2048,394 1931.5,527.5 1839,593 1865.5,571.5 1772.5,659 1825.5,605.5 1633,792.5 1699.5,654.5 1692.5,674 1739,659 1779.5,643 1977.5,444.5 1867,582.5 1839,557 1951.5,516 1659.5,792.5 1897,503 1886.5,504.5 1894,537 1691.5,792.5 1721,679.5 1940.5,476 1973,487 1971.5,499 1901,620.5 1677,792.5 1543,792.5 1993.5,393 1712.5,639 1891,527.5 1835.5,570 1899,503 1698,877 1575,877 1860.5,542 1817,608 1873.5,567.5 1540.5,770.5 1739.5,708 1921,524 1708.5,717 1892,521 1850,654.5 1852.5,541 1891.5,559.5 1840.5,610.5 2023,444.5 1872,568.5 1850,595 1599,753 1833,603.5 1700,877 1708,700 1906,552.5 1837.5,626.5 2050.5,416.5 1974,493 2003.5,417 1856,566 1850,557 1721,727.5 1770,626.5 1689.5,770.5 1923,551 1887.5,493 1604.5,753 1818,605.5 1945,503 1486.5,877 1794.5,574.5 1882,623.5 1865,608 1738,686 1790,601.5 1937,514 1817.5,589.5 1993.5,464 1989,483 1776,615.5 1784.5,668.5 1896,506 1885.5,529 1891,535 1928,553.5 2024,365.5 1843,595 1791.5,668.5 1782.5,636 2015,469.5 1942,483 1931,478.5 1866,536 1770.5,646.5 1599,792.5 1685.5,877 1841.5,605.5 1789,646.5 1834,601.5 1743,708 1917.5,460.5 1888.5,537 1973,455 1919,534.5 1586,792.5 1915.5,450.5 1837,581 2020,473 1814,573 1867,567.5 1810,636 1983.5,461.5 1983,482 1695.5,700 1767,654.5 1956.5,462 1731,708 1895.5,536 1912,505 1817.5,577.5 2048,382 1966.5,493 1842.5,573 1959.5,460.5 1573.5,877 1935,595 1957.5,449.5 1870.5,522.5 1680.5,717 1655,770.5 1895,490 1917.5,531.5 1852.5,562 1690,753 1730,663.5 1600,823.5 2001.5,482.5 1804,608 1689,717 1786.5,610.5 1656,877 1744.5,708 1751,646.5 1705,636 1856.5,548 1911,474 1978,470.5 1751,753 1855,554.5 1770,692.5 2021.5,442.5 1782.5,629.5 1952.5,468 1895.5,613 1674,639 1908.5,510.5 1947.5,465.5 1875.5,552.5 1937,512.5 1829.5,574.5 1954,468 1923.5,514.5 1786.5,643 1636,753 1860.5,570 1893,597 1789.5,659 1714,674 1875.5,593 1635,674 1478,877 1894.5,579 1853.5,591.5 1735.5,727.5 1897.5,543 1883,587.5 1957,454 1667.5,770.5 2010.5,419.5 1546.5,792.5 2037.5,369.5 1785.5,663.5 1876,547 1720.5,708 1832.5,538 1879,562 1927.5,495.5 2033.5,379 1673.5,727.5 1681.5,717 1810.5,615.5 1831,608 1741.5,674 1608.5,700 1865.5,573 1945,535 1817.5,610.5 1880,587.5 1843.5,597 2009.5,398 1944,545 1684,739 1787.5,613 1747.5,679.5 1686,823.5 1961.5,465.5 1837.5,567.5 1852.5,532.5 2001.5,447 1841.5,558 1809.5,584 1929,510 1822,593 1875.5,547 1936,482 1939.5,452 1911.5,519.5 1741,770.5 1654,770.5 1867.5,589.5 1839,584 1859.5,579 1931,543 1857.5,540 2019,410 1978.5,443.5 1680.5,708 1888,528.5 1918,538 1851.5,615.5 1939.5,497 1543.5,823.5 1885.5,531 1836,613 1836.5,532.5 1924,540 1915.5,503.5 1683.5,708 2033,405 1824,574.5 1986.5,492.5 1890,576 1931.5,445 2016,449.5 1860.5,593 1934.5,533.5 1815,620.5 1985.5,491 1821.5,659 1803,659 1886,519 1824,587.5 1768,597 1801,654.5 1628,877 1816.5,589.5 1751.5,700 1494.5,877 1986,472.5 1819.5,620.5 1881,560.5 1837.5,591.5 1876.5,557 1843,615.5 2006,428 1634.5,753 1974.5,448.5 1792,643 1928,473 1875.5,532.5 1904.5,568.5 1879.5,560.5 1840,668.5 1800.5,663.5 1783.5,636 1838,692.5 1756,632.5 1807,674 1792,643 1917.5,473.5 1794,610.5 1897.5,552.5 1903,552.5 1724,668.5 1595.5,792.5 1783,643 1917.5,493.5 1888.5,523.5 1837,615.5 1833.5,629.5 1889.5,564.5 1943,455 1967.5,487.5 1775,626.5 1901,523.5 1760.5,679.5 1568.5,823.5 1695.5,727.5 1845.5,567.5 1943,529 1652.5,686 1930,482 1927,471.5 1808,601.5 1918.5,505 1858.5,560.5 1965.5,468 1974.5,424 2028.5,373.5 1863.5,542 1807.5,584 1922,492 1883.5,506 2021.5,408 1784.5,639 2061.5,350 2017.5,432 1961.5,531 1925.5,467.5 1819,610.5 1730,700 1946,470 1797.5,659 2003,423 1921.5,522 1889,552.5 1873.5,570 1972.5,480.5 1834,643 1825,551 1994.5,421 1722,659 1830.5,576 1615,770.5 1944.5,491 1803.5,613 2017.5,403 1770.5,753 1863.5,540 1757.5,674 1942,475 1888.5,469.5 1728,654.5 1801.5,692.5 1851,562 1984,466.5 1989,457.5 1876,556 2004.5,450.5 1785.5,650.5 1788.5,620.5 1836.5,586 1802,663.5 1823.5,610.5 1832.5,636 1963.5,473.5 1783.5,603.5 1875,498 1921.5,532.5 1991,384 1699,686 1937,480 1933,529 1866.5,541 1853,529 1844.5,577.5 1632.5,823.5 1844,605.5 1894.5,514 2035,411 1924.5,477.5 1573.5,823.5 1731.5,739 1876,560.5 1779.5,573 1846,573 1778,636 1995,415 1741.5,708 1841.5,566 1889,503.5 1818.5,618 2009,453.5 1754.5,650.5 1941.5,477 1800.5,595 1868,535 1891.5,577.5 1797.5,654.5 1750,618 1821,567.5 2040,334.5 1748,739 1637.5,823.5 1878,570 2002,417.5 1465,792.5 1810,563.5 1794.5,632.5 1758.5,708 1913,495.5 1900.5,482.5 1590,792.5 1900.5,528.5 1951,492 1831.5,629.5 1924.5,500.5 1835.5,554.5 1890.5,510.5 1817,639 1510.5,877 1801,570 1916.5,487.5 1536.5,877 1861,613 1786,654.5 1557,877 1836,573 1739,753 1866,531.5 1852.5,566 1794.5,643 1986.5,476.5 1833.5,595 1870,601.5 1554.5,823.5 1931.5,542 1496,877 1822,629.5 1945,484 1918.5,570 1845,593 1873,551 1608,739 1850,563.5 1849.5,601.5 1965.5,448.5 1828,589.5 1783.5,593 1907,546 1783.5,573 1870,552.5 1780.5,629.5 1996.5,447 1605.5,823.5 1881.5,516 1784.5,608 1953,473.5 1928.5,508.5 1684,717 1869.5,582.5 1934.5,510 1916,501.5 1984.5,445.5 1796,636 1954.5,464.5 1934.5,518 1946,471.5 1844.5,549 1655.5,877 1987.5,457.5 1991.5,484 1936,448.5 2060.5,351.5 1912,521 1689,727.5 1713.5,686 1802.5,570 1918,495.5 1907.5,494 1801,629.5 1830,582.5 1896.5,526.5 1879.5,553.5 2001.5,444.5 2012.5,373 1860.5,587.5 1908.5,483 1961.5,499 1837,584 1762,603.5 1900,492 1965,506.5 1839.5,554.5 1839,643 1895,523.5 1986,449 1872.5,636 1726.5,659 1736,659 1772.5,620.5 1572.5,770.5 1678.5,739 1798,599 1908.5,499.5 1796,636 1613.5,727.5 1879,558 1815,581 1855.5,574.5 1889,549 1905.5,534.5 1818.5,587.5 1799.5,591.5 1812.5,608 1816,629.5 1639,739 1838.5,564.5 1818,599 1685,753 1720,717 1936,474.5 1813,626.5 1877,523.5 1940.5,491 1712.5,686 1850,593 1660,700 1863,538 1925,506.5 2057.5,369 1841.5,573 1761,679.5 1900.5,517.5 1867,536 1731.5,692.5 1861.5,553.5 1916,457.5 1658.5,753 1843.5,567.5 1973,435 1908.5,517.5 1899,510.5 1873,492.5 2015,412.5 1855.5,548 1942,476.5 1813.5,581 1981,423.5 1920,461.5 1851.5,564.5 1765.5,620.5 1958.5,500 1896.5,536 1928.5,493.5 1808.5,626.5 1888.5,479.5 2002,419 1793,659 1834,597 1929,516 1760,659 1819,589.5 1855.5,552.5 1955.5,513.5 1809.5,587.5 1772.5,663.5 1840.5,547 1976,494 1804,595 1776.5,613 1884,550 1862.5,599 1929,505.5 1867,562 1894,519 1964.5,435.5 1773.5,674 1974.5,517 1780.5,629.5 1609,792.5 1964,519.5 1797.5,629.5 1599,877 1841,597 1932,518 1882,512.5 1624,823.5 1893,532.5 1937,482 1559,877 1919,520.5 1805,613 1666.5,739 1759.5,679.5 1833.5,581 1894,557 1649,692.5 1739,692.5 1734,739 1978,479.5 1838.5,570 1882,550 1720.5,708 1794,620.5 1753,674 1932,500.5 1870,544 1897,489.5 1907.5,540 2002.5,428.5 1745.5,739 1722.5,674 1876,563.5 1865,558 1576,823.5 1687,727.5 1529.5,877 1949.5,480 1769,629.5 1987,424.5 1625,770.5 1839.5,601.5 1924,506.5 1571,792.5 1703.5,792.5 1923,483 1843.5,563.5 1797.5,581 1898,519 2006.5,392.5 1985,451.5 1890.5,506.5 1893,566 1606.5,877 1774,674 2053.5,414.5 1870,556 1867,589.5 1745.5,823.5 1861,564.5 1981,473 1673,770.5 2018,426 1834,582.5 1826.5,544 1876.5,519.5 1902,532.5 1914,505 1697,679.5 1778.5,639 1782.5,700 1911.5,524 1822,584 1928,539 1841.5,564.5 1810.5,717 1955,471 1778.5,659 1983.5,456.5 1691.5,674 1876,560.5 1951,474.5 1849,557 2001.5,430.5 1893.5,462.5 1842,553.5 1573,770.5 1954.5,466 1744.5,654.5 1838,550 1737,686 1859,571.5 1841.5,613 1958.5,465 1928,492 1739,632.5 1785,593 1788.5,753 1931.5,536 1736,674 1790.5,582.5 1870.5,591.5 1935,511.5 1792,623.5 1918,514.5 1499,823.5 1795,629.5 1770.5,654.5 1892,525 2001,407 1787,597 1909.5,473.5 1876.5,568.5 1841.5,610.5 1776,623.5 1894,570 1827,643 1796.5,650.5 1837.5,595 1845,615.5 1909.5,548 1824,608 1648.5,679.5 1785.5,686 1950.5,465 1966,479.5 1929,482.5 1750,632.5 1781,629.5 1889.5,491 1751,650.5 1886,539 1949.5,449.5 1834.5,593 1725.5,792.5 1796,717 1905.5,536 1762,717 1854.5,563.5 1726.5,708 1816.5,632.5 2025,414.5 1794.5,620.5 1604,792.5 1794,770.5 1785,679.5 1969.5,504.5 1818.5,567.5 1658.5,717 1760,753 1777,610.5 1875.5,576 1868.5,550 1922.5,581 1902,523.5 1742,654.5 1918,532.5 1907.5,519 1880,542 1851,559.5 1899,564.5 1913,538 1857.5,535 2006.5,434 1839,566 1872.5,538 1818.5,586 1891,525 2006,431.5 1807,629.5 1621.5,770.5 1734,654.5 1974.5,468.5 1782,603.5 1981,440 1706.5,708 1927.5,514.5 1498,770.5 1749,659 1762.5,608 1789,659 1854.5,531 1950.5,465.5 1925.5,497.5 1963,451.5 1745.5,610.5 1972,450 1873.5,589.5 1851,577.5 1546.5,877 1542.5,877 1973,439 1883,535 1894,608 1776.5,643 1949,503.5 1874.5,591.5 1665,686 1842,610.5 1966,477 1946,460.5 1809.5,595 1806.5,591.5 1734.5,686 1592,877 1900,517.5 1954,452 1806.5,597 1567.5,770.5 1744.5,659 1911.5,533.5 1994.5,446.5 1766.5,636 1709,708 1696,823.5 1914.5,514 2015.5,367.5 1852,559.5 1851,581 1902.5,540 1852,629.5 1787.5,679.5 1825.5,620.5 1924.5,477.5 1936.5,507.5 1646.5,770.5 1757,639 1918,527.5 1910.5,533.5 1822,562 1854,560.5 1774,626.5 1927.5,558 1815,552.5 1987.5,466 1724.5,700 1825.5,574.5 2035.5,402 1645,753 1967.5,457 1917.5,499 1513.5,877 1984.5,425.5 1898,493 1971,506.5 1979,518 1843,529 1661,753 1952,489.5 1994.5,427 1972,466 1685,770.5 1773,632.5 1727,654.5 1883.5,567.5 1917.5,504.5 1846.5,567.5 1890.5,527.5 1657.5,753 1776,659 1875,623.5 1794,643 1836,573 1814.5,576 1807,636 2014,424 1687,770.5 1795,663.5 1835,541 1611.5,823.5 1852.5,540 1854.5,562 1831,599 1867.5,579 1865,573 1848,574.5 1600.5,877 1598,877 1771,608 1586.5,877 1980.5,448 1812.5,562 2042,379.5 1761,686 2016.5,383 1788,629.5 1907,506 1913,510 1798.5,679.5 1923,551 1944.5,499.5 1934,500.5 1974,446 1662.5,727.5 1879,599 1816.5,562 1876.5,537 1771,650.5 1767,708 1936,487 1728.5,717 1798,559.5 1894.5,530 1790,608 1839.5,618 1597,770.5 1795,615.5 1716,654.5 1952.5,536 1913.5,540 1871,595 1943,499 1906.5,496 1822,618 1662,700 1966,465.5 1967,514.5 1891.5,520.5 1561.5,823.5 1702.5,717 1811.5,629.5 1913,483 1814.5,610.5 1750,646.5 1853,505.5 2011.5,443.5 1860,524 1605.5,823.5 1816.5,646.5 1638.5,770.5 1759.5,792.5 1872,541 1962.5,455.5 1970,457.5 1814.5,599 1915.5,551 1527.5,877 1826,605.5 1774.5,646.5 1864.5,524 1882,539 1831.5,589.5 1747,620.5 2003,426.5 1980,457.5 1924,493 1879,577.5 1740,613 1873.5,550 1821,573 1694.5,727.5 1821.5,654.5 1920.5,512 1770,629.5 1852.5,562 1859,563.5 1824,568.5 1933,510 1907.5,504.5 1861.5,615.5 1682.5,770.5 2049.5,388.5 1537.5,877 1842,560.5 1943.5,500.5 1936,510.5 1827.5,577.5 1982.5,461.5 1840,560.5 1787.5,629.5 1879.5,517.5 1607,753 1912.5,503.5 1924,533.5 1838.5,563.5 1993,403 1964.5,491 1782.5,663.5 1907,481 1848,574.5 1922.5,498 1783,646.5 1980,434.5 1787,629.5 1834,679.5 1970,480.5 1835,608 1687.5,770.5 2020.5,437.5 1888,498 1832.5,620.5 1779,618 1570.5,823.5 1829,552.5 1748,620.5 1917.5,535 1997.5,447.5 1960.5,480 1714,739 1828.5,586 1693.5,727.5 1756,603.5 1799.5,576 1734.5,686 1979,465 1954,474 1862.5,563.5 1803,700 1580.5,877 1677,792.5 1925.5,473 1973.5,474 1783,620.5 1649,792.5 1942.5,486 1902,553.5 1538,823.5 1895,553.5 2004.5,456.5 1898.5,532.5 1719.5,654.5 1835,639 1839.5,568.5 1892.5,554.5 1735.5,643 1958,500 1854.5,593 1975,502 1953,462.5 2006.5,426.5 1904.5,526.5 1920.5,510.5 1764.5,610.5 1803,632.5 1937,495 1751.5,674 1934,461 1655.5,727.5 1923.5,496 1908.5,500.5 2001.5,406 1754,636 1882.5,544 1821.5,613 1635.5,753 1856.5,554.5 1802.5,620.5 1849.5,601.5 1872.5,615.5 1559.5,739 1836.5,579 1932,519.5 1828.5,650.5 1976,419 2001.5,428.5 1951,481 1903.5,484.5 1700,727.5 1869.5,615.5 1523,823.5 1881.5,535 1910.5,500 1846,623.5 1980,495 1930.5,442 1976,490 1842.5,582.5 1780,601.5 1953.5,486.5 1866.5,626.5 1858,567.5 1698.5,692.5 1708,753 1913,469 1871.5,525 1781.5,608 1999,393.5 2012,434 1649,792.5 2001.5,420 1951.5,476 1815.5,608 1750,674 1899.5,499.5 1853.5,626.5 1739.5,877 1618.5,823.5 1589.5,877 1893.5,524 1893,540 1834.5,582.5 1906.5,543 1706,708 1782,615.5 1947.5,456.5 1796,613 2050.5,358.5 2035,421.5 1842,564.5 1802,643 1984,431.5 1727.5,739 1788,659 1999.5,388.5 1858,560.5 1936.5,491.5 1973,461.5 1822,601.5 1807.5,636 1831,589.5 1970.5,422 1886.5,576 1676,727.5 1803,615.5 1999.5,392 1696,739 1923,455.5 1963.5,495.5 1972,508.5 1786.5,663.5 1861.5,559.5 1573.5,823.5 1789.5,626.5 1864,593 1833,556 1694.5,727.5 1762,629.5 1492,877 2024.5,502 1925.5,508 1748,654.5 1931,505.5 1918,514 1902,506 1819,605.5 1754,692.5 1822.5,557 1871.5,484 1696.5,668.5 1648,753 1856.5,601.5 1645,753 1865,563.5 2019,471.5 1822.5,615.5 1807,576 1997.5,424.5 1757,626.5 1915,523.5 1751,686 1711,636 1870,545 1869,537 1887,525 1922.5,484.5 1951,465 1900.5,498 1922,520.5 1914.5,538 1885.5,574.5 1808,599 1746.5,679.5 1834.5,626.5 1747,708 1864,495.5 1845,584 1906,509.5 1761,668.5 1832,620.5 1817,626.5 1842.5,610.5 1739.5,629.5 2038,394 1957.5,454 1836,654.5 1799.5,654.5 1814,663.5 1891.5,504.5 1759.5,643 1803,618 1893.5,549 1810.5,654.5 1825,597 1811,643 1884,488.5 1864,562 1693,708 2025,429 1839.5,571.5 1831.5,566 2030.5,473.5 1916,559.5 1811.5,586 1975,448.5 1832.5,605.5 1660,739 1797,663.5 1932.5,502.5 1773,659 1956.5,452 1878.5,546 1873.5,536 1969,435.5 1913.5,559.5 1900.5,556 1802.5,639 1920.5,540 1931,489.5 1814.5,599 1832,591.5 1895,501.5 1898.5,519 1850.5,597 1782,663.5 1831.5,570 1939.5,488.5 1868,571.5 1526,877 1998,437 1576,663.5 1811.5,620.5 2038.5,406 1908,548 1818.5,601.5 1861.5,498 1847.5,593 1846.5,587.5 1777,595 1812,650.5 1921.5,516 1832,548 1832,591.5 1886.5,535 1972,478.5 1722.5,686 1940,463 1732.5,686 1820.5,550 1692,877 1666,792.5 1860.5,601.5 1778,686 1900,571.5 1730,679.5 1852.5,615.5 1630,823.5 1868,570 1747,717 1893.5,503.5 1915,458.5 1981,477.5 1797,595 1780,615.5 1842,603.5 1934.5,435.5 1865,537 1850.5,550 1862.5,618 1906,480 1777,615.5 1937,576 1941,506 2004.5,434.5 1895,528.5 1799.5,629.5 1756.5,663.5 1865,564.5 1873.5,541 1910,514 2002,451 1712,739 1984,473.5 1915,556 1794,659 1786.5,654.5 1887,507.5 1526,753 1911.5,540 1940.5,456 1726,646.5 1842.5,626.5 1825.5,597 1869,554.5 1953.5,456.5 1873.5,579 1787.5,603.5 1870,508.5 1923.5,467.5 1884.5,601.5 1875.5,510 1899,482.5 1812.5,566 1810.5,567.5 1803,562 1836.5,587.5 1770.5,615.5 1896.5,539 1824,579 1802.5,597 1811.5,603.5 1931.5,486 1809,603.5 1880,533.5 1776,686 1884,548 1593,792.5 1967.5,425.5 2008,449 1792.5,632.5 1648.5,877 1856.5,573 1996,466.5 1902,514.5 1880,562 1820.5,626.5 1800,632.5 1809,610.5 1479.5,823.5 1865.5,540 1558.5,877 1930.5,470.5 1882.5,527.5 1930,453 1775,610.5 1586,823.5 1927,512.5 1861.5,540 1903,586 1790.5,632.5 1549,877 1836,546 2046,367.5 1707,753 1976.5,432.5 1781,632.5 1621,792.5 1952,492.5 1774,626.5 1944,562 1921.5,452 1818.5,650.5 1797.5,650.5 1983,477 1878,629.5 1817,615.5 1773.5,618 1783.5,659 1886.5,510.5 2012,440.5 1897.5,504.5 1824,623.5 1957.5,460.5 1900.5,519.5 1891.5,496 1774,626.5 1872,511.5 1971,483 1830,579 1976,447.5 1750.5,623.5 1888,533.5 1879.5,552.5 2012.5,430 2015.5,461 1925.5,465 1878,534.5 1934,521 1940,471.5 1859.5,512.5 1980,440 1856.5,526.5 1957.5,481 1916,488 1656.5,770.5 1935,471.5 1951,531 1933,493.5 1852.5,548 1847.5,618 1861.5,531 1824.5,581 1864,536 1900,545 1580,823.5 1792.5,610.5 1931.5,529 1952,478.5 1793,636 1898.5,489 1811.5,603.5 1953.5,475 1928.5,505.5 1854.5,535 1883.5,530 1857.5,567.5 1623,792.5 1647.5,823.5 1963.5,458 2003,439.5 1885.5,532.5 1952,443.5 1769.5,686 1574.5,823.5 1943.5,527.5 1859,547 1846,587.5 1765.5,686 1815,615.5 1844,595 1889,552.5 1948,549 1747.5,646.5 1892.5,539 1954.5,464.5 1465.5,877 1843,595 1893,499 1799,646.5 1857.5,618 1949,510.5 1889.5,570 1979.5,442.5 1742.5,708 1776,663.5 1793,597 2004,418 1794,615.5 1786.5,620.5 1972.5,451 1776,646.5 1771,663.5 1756,674 1873.5,529 1863,654.5 1860,595 1915.5,510.5 1960,467.5 1659,717 1715.5,717 1830,632.5 1879,540 1719.5,663.5 1822,620.5 1771.5,581 1648,877 1801.5,639 1753.5,727.5 1779,610.5 1759,674 1954.5,453.5 1841.5,564.5 1846.5,615.5 1761,717 1901.5,517.5 1793,679.5 1799.5,587.5 1663.5,727.5 1850,570 1924.5,438 1856,584 1859,548 1907,520.5 1881.5,579 2008,419.5 1685.5,792.5 1818.5,654.5 1926.5,605.5 1748.5,615.5 1612,823.5 1964.5,483.5 1780.5,620.5 1891,506 1851.5,581 1880,538 1857.5,531 1850.5,615.5 1828.5,623.5 1831.5,560.5 1602,753 1929,513.5 1840.5,601.5 1853.5,530 1614,877 1527,823.5 1758.5,646.5 1825,629.5 1914,552.5 1731.5,770.5 1974,421 1997.5,414.5 1871.5,550 1910,472 1917.5,531.5 1758,646.5 1961,485.5 1846,599 1631,823.5 1927.5,501.5 1801,654.5 1794.5,659 1980.5,468.5 1902.5,528.5 1880.5,581 1812,581 1967.5,523.5 1821.5,605.5 1765.5,739 1939,514 1786.5,589.5 1878,540 2012,437.5 1853.5,608 1806.5,659 1838,564.5 1889.5,550 1590.5,877 1778,584 1648.5,823.5 1947,473.5 1802,601.5 1879,573 2039,409 1763,623.5 1919.5,505.5 1934.5,483.5 1930.5,511.5 1937,491 1719.5,679.5 1931.5,477.5 1906.5,562 1868,548 1743,646.5 1824,567.5 1799.5,579 1794,597 1984,443 1829,517.5 1797.5,584 1741.5,623.5 1843.5,534.5 1971,492.5 1906.5,512 1781,632.5 1774.5,601.5 1944,469.5 1864,544 1909.5,522.5 1567.5,692.5 1839.5,568.5 1771,582.5 1945,495 1673.5,708 2025.5,404 1924,497.5 1797,626.5 1803.5,573 1936,434.5 2008.5,422 1841.5,595 1863,527.5 1988.5,440 1901.5,545 1853.5,556 1880.5,509.5 1945.5,465 1891,560.5 1832,574.5 1854.5,551 1897,502 1868.5,574.5 1771.5,603.5 1847.5,620.5 1936,450.5 1737.5,686 1942,497 1910,563.5 1943.5,497.5 2018.5,417 1873,503.5 1905.5,556 1922,477 1704,727.5 1567.5,792.5 1673,877 1913.5,522.5 1834.5,686 1802.5,643 1979.5,449 1662.5,632.5 1932.5,493 1555.5,770.5 2022,457.5 1950,461.5 1896,548 1999,413.5 1947.5,466.5 1961.5,453 1629,700 1898,522 1825,595 1937.5,536 1904,541 1854,531 1752.5,663.5 1761,708 1767.5,623.5 1887.5,574.5 1863,554.5 1764.5,626.5 1784.5,615.5 1874,582.5 1805.5,571.5 1924,531 1932.5,528.5 1835,570 1892,536 1895,518 1789.5,632.5 1974,469 1589,823.5 1971.5,424.5 1859,576 2008,369.5 1957.5,496 1955,472.5 1758,727.5 2028,446 1881,489.5 1913,502 1676.5,643 1702.5,708 1864,546 1783.5,603.5 1645.5,700 1898.5,549 1629.5,770.5 1546,792.5 1811,632.5 1727.5,550 1916,549 1854.5,577.5 2026,356 1695.5,708 1927,502 1897.5,535 1895,507.5 1736,659 1852.5,554.5 1823.5,620.5 1891.5,567.5 1918.5,506.5 1790,646.5 1984.5,424.5 1846.5,530 1813,597 1564.5,877 1948,465 1927.5,452 1880.5,553.5 1681.5,739 2007.5,483.5 1858,533.5 2004.5,410.5 1894,560.5 1962,436 1821,605.5 1932.5,468.5 1862.5,558 1789.5,626.5 1931.5,455 1800.5,581 1857,539 1859,524 1925,510 1855.5,537 1861.5,610.5 1848,552.5 1801,589.5 1945.5,429 1893,508 1689,727.5 1826.5,605.5 1730,679.5 1877,535 1621.5,770.5 1829,576 1694.5,753 1714,708 1763.5,646.5 1895,519 1555.5,823.5 1723,686 1852.5,573 1754,639 1714,877 1511,823.5 1820.5,601.5 1887.5,539 1898,536 1584.5,792.5 1990.5,418 1774,643 1828,603.5 1590,739 1733,708 1806,626.5 1782.5,626.5 1834.5,632.5 1883.5,539 1862,615.5 1634,823.5 1963.5,447.5 1854.5,558 1762.5,626.5 2000.5,411 1918.5,554.5 1816.5,599 1746.5,643 1902,524 1878.5,531 1669.5,770.5 1870,560.5 1841.5,570 1882.5,522 1705.5,708 1819.5,618 1978,473.5 1616,753 1780,659 1543,823.5 1894,560.5 1770.5,632.5 1842,586 1944,469 1832.5,564.5 1541.5,823.5 1873.5,551 1775.5,708 1729,663.5 1624,770.5 1849,601.5 2033,426 1874,533.5 1872,551 1914,542 1896.5,526 1861.5,563.5 1601,823.5 1842.5,564.5 1731.5,674 1744.5,663.5 1805.5,584 1802.5,591.5 1857,587.5 1819.5,613 1779.5,623.5 1949,473.5 1882.5,551 1831,603.5 1822,577.5 2021,363 1924,513.5 1722.5,692.5 1915,531.5 2005,438.5 1879,547 1928,505 1657.5,674 1841.5,595 1954.5,499.5 1781,686 1881,562 1857.5,601.5 1701,700 1832,566 1917.5,483 1967.5,463.5 1875,527.5 1843.5,549 1949.5,495.5 1818.5,601.5 1849.5,562 1840.5,584 1908,547 1891,562 1841.5,556 1697,659 1901.5,511.5 1784,603.5 1805,629.5 1869.5,554.5 1763.5,727.5 1823.5,593 1853.5,586 1770.5,591.5 1677,686 2007,414.5 1798,636 1775,668.5 1982,436.5 1911,484.5 2038.5,414.5 1915,536 2025.5,409.5 1738.5,663.5 1681.5,877 1792.5,632.5 1799,623.5 1947,472.5 1877,530 1945.5,475.5 1940.5,550 1762.5,636 1796,663.5 1923,541 1969,414.5 1967,429 1923,516 1846.5,562 1883,533.5 1998,478.5 1783,632.5 1875.5,532.5 1967.5,471.5 1914,534.5 1852.5,623.5 1907.5,549 2017,461 1785,618 1942,505.5 1550,823.5 1907.5,520.5 1997,426.5 1805,571.5 1644.5,739 1914.5,534.5 1920,521 1824,603.5 1854.5,567.5 1786,650.5 1830,595 1666.5,708 1942.5,425 1830,615.5 1922.5,527.5 1797.5,639 1846.5,571.5 1807.5,663.5 1946,457.5 1842,553.5 1889,543 1549.5,877 2011,422.5 1638,739 1887,489 1896,568.5 2048.5,389.5 1697,659 1951.5,437 1719.5,674 1987.5,405.5 1811.5,571.5 1860.5,636 1844,586 1872.5,533.5 1778.5,584 1828,559.5 1897.5,568.5 2053.5,384 1718,739 1896.5,551 1743.5,679.5 1960,471.5 1660.5,770.5 1965.5,447.5 1888.5,560.5 1895.5,570 1707.5,717 1677,877 1850.5,538 2052.5,382 1754.5,668.5 1548,823.5 1582,877 1869.5,526 1833,613 1876.5,581 1766.5,589.5 1827.5,566 1882,560.5 1841.5,535 1975.5,423 1905,523.5 1610.5,727.5 1894.5,501.5 1694,708 1789,639 1820.5,581 1731.5,700 1757,584 1863,556 1849,576 1914.5,528.5 1843,546 1966,436 1682.5,717 1541,877 1737,632.5 1780,679.5 1752.5,679.5 1875.5,558 1803,603.5 1854,562 1705.5,679.5 1994,429 1628,823.5 1757.5,753 1801,610.5 1813.5,591.5 1676,717 1876.5,524 1726.5,668.5 1878,531.5 1924,483.5 1977.5,459 1870,542 1859.5,527.5 1549.5,753 1969.5,452 1953.5,447.5 1934.5,497 1737,654.5 1842.5,595 1796,659 1587.5,823.5 1772,623.5 1944,514.5 1857.5,568.5 1828,663.5 1759.5,668.5 1841.5,586 1765,632.5 1879.5,479.5 1807.5,650.5 1904.5,519 1959.5,479 1609,877 1812.5,589.5 1936.5,530 1994,428 1719,679.5 1607.5,877 1916.5,519.5 1767.5,668.5 1876,517 2042,374.5 1735.5,692.5 1966.5,468 1777.5,668.5 1991.5,434.5 1856,566 1953.5,470.5 1991.5,461 1980,429.5 1901.5,534.5 1908,538 1805.5,639 1842,525 1894.5,522 1955.5,498 1855.5,618 1729.5,753 1872.5,568.5 1944.5,460 1818,577.5 1748,674 1825.5,599 1785.5,603.5 1941.5,479.5 1874,632.5 1828,595 1937.5,467.5 1860.5,519 1887.5,519 1717,686 1823,700 1900.5,543 2011,446 1775.5,610.5 1726,674 1821,613 1810.5,603.5 1904,530 1763,608 1945,481 1897.5,511.5 1635,753 1867.5,545 1871.5,540 1945.5,508.5 1819.5,586 1887,526 1820.5,654.5 1671,770.5 1876,566 1899,504.5 1745,663.5 1878.5,522.5 1603,823.5 1493.5,877 1768.5,620.5 1970,443 1953,490.5 1793,654.5 1854.5,563.5 1986,552.5 1747.5,674 2009.5,421 1670,770.5 1878.5,514 1760.5,646.5 1804.5,593 1913.5,490.5 1825.5,584 1656.5,877 1810,597 1807,610.5 1754.5,679.5 1721,674 1796.5,626.5 1857.5,544 1880.5,530 1893.5,499.5 2053,392 1906,507.5 1981,400 1817.5,626.5 1842.5,589.5 2043,381.5 1952,494.5 1886,629.5 1927,462.5 1943.5,492 1827,591.5 1760,646.5 1886,514 1992.5,446.5 1909.5,528.5 1902.5,506 1877,552.5 2061,390.5 1689,792.5 1816,605.5 1886.5,549 1896.5,502 1884,574.5 1707.5,686 1799.5,636 1760,668.5 1798,632.5 1731.5,636 1780,654.5 1790,626.5 1873,506.5 1800,626.5 2019,380 1655.5,717 1833.5,584 1728.5,679.5 1748.5,659 1962,461.5 1874.5,553.5 1858,563.5 1901,512.5 1927,504.5 1810,582.5 1859.5,526 1912,490.5 1930,493 1946,512 1657.5,823.5 1628,877 1869.5,544 1562.5,877 1731,679.5 1978.5,424 1745,674 1878.5,586 1545.5,877 1669,792.5 1977.5,448 1596.5,770.5 1914.5,539 1897,525 1819.5,629.5 1863,577.5 1913.5,574.5 1928.5,510 1880,549 1978.5,441 1737,686 1959.5,484 1818.5,571.5 1995.5,420.5 1885.5,593 1952.5,431 1775.5,610.5 1955.5,429 1785,877 1948.5,432 1967.5,426.5 1827.5,579 1948,517.5 1822.5,618 1925,521 1989,431 1787,727.5 1780.5,632.5 1877,548 1847,595 1892,550 1985.5,479.5 1801,608 1670,770.5 1954.5,465 1891,541 1565.5,792.5 1887.5,559.5 1804.5,605.5 1824.5,597 1871,499.5 1834.5,595 1716,692.5 2012,421 1731.5,717 1832,557 1869.5,546 2018.5,422.5 1505.5,877 1950,467.5 1838,560.5 1575,727.5 1805,601.5 1960,434.5 1815,587.5 1933,500 1974,461.5 1976.5,431.5 1595,770.5 1874,549 1603,792.5 1670.5,717 1871.5,551 1683,659 1965.5,487 1972.5,446.5 1911,508 1627.5,727.5 2011.5,425.5 1908.5,478.5 1775,708 1650,792.5 1932.5,484.5 1551,823.5 1954,533.5 1675.5,792.5 1851,553.5 1915,501.5 1776.5,646.5 1740.5,674 2002.5,372 2058.5,380 1685,708 1739.5,646.5 1730.5,668.5 1956,478.5 1935,484.5 1777,636 1908,520.5 1914.5,558 1618,877 1878.5,573 1826,618 1767.5,639 1545.5,792.5 1940.5,517.5 1632,792.5 1703.5,708 1961.5,522 1818.5,629.5 1790,591.5 1667.5,739 1786.5,623.5 1782.5,717 1974.5,450.5 1870.5,544 1907,574.5 1949,511.5 1826.5,603.5 1573,753 1921.5,492.5 1813.5,605.5 1864.5,545 1794.5,558 1847,556 1907.5,519.5 1986,444.5 1813.5,527.5 2029.5,390 1864,581 1952,492 1891.5,525 1908,483 1826,586 1847,550 1854,601.5 1939,481.5 1885,537 1734,679.5 1718,663.5 1817,615.5 1972,483.5 1860,599 1816,613 1994.5,409 1854.5,593 1969.5,453.5 1997.5,459 1886,510 1849.5,545 1863.5,535 1855.5,502.5 1887,601.5 1582.5,717 1979.5,408 1839,574.5 1817.5,582.5 1980,439 1770,770.5 1777,659 1897.5,514 1833.5,620.5 1895,552.5 1999,462.5 1985.5,487.5 1824.5,626.5 1812,674 1905,560.5 2007,426.5 1823,603.5 1562,877 1774,668.5 1853.5,532.5 1896.5,486.5 1734.5,668.5 1851.5,546 1832.5,548 1908.5,531 1843.5,543 1554.5,877 1909,506 1825,579 1823.5,618 1820.5,557 1763.5,629.5 1590,739 1747.5,618 1887,549 1971.5,460.5 1751,679.5 1728.5,686 1601.5,792.5 1826,605.5 1807.5,639 1669.5,700 1985,453 1676.5,739 1940.5,517 1819.5,589.5 1804,629.5 1754.5,674 1798,584 1957.5,456.5 1993,487.5 1666.5,770.5 1947,459 2011.5,448 1855.5,597 1841.5,571.5 1775,623.5 1812,586 1931.5,472.5 1679,753 1896,505.5 1893.5,515.5 1793,659 1877,562 1778,679.5 1991,457.5 1966.5,437 1934,486.5 1948.5,466 1960,413.5 1984,395 1911,564.5 1756.5,610.5 1878,510.5 1979,475 1903.5,544 1529.5,877 1881.5,531.5 1906,582.5 1723.5,686 1625.5,792.5 1889.5,539 1812.5,587.5 1919,489.5 1926.5,514.5 1864.5,556 1857.5,535 1716.5,679.5 1951,483 1811,599 1946.5,487.5 1956.5,465 1817,576 1716.5,717 1849.5,591.5 1881,618 1748,668.5 1990.5,455.5 1771,708 1871.5,538 1799.5,595 1957,503.5 1762.5,646.5 1871,551 1923,497.5 2024.5,433 1997,453 1888,582.5 1952,491 1907,491.5 1809.5,563.5 1855.5,543 1730.5,717 2029.5,446 1893.5,526 1994,460.5 1838.5,546 1817.5,581 1890.5,552.5 2015.5,389.5 1791.5,618 1630.5,753 2011,405 1476,877 1858,615.5 1795,605.5 1785,629.5 1998.5,424.5 2006.5,448 1820.5,571.5 1764.5,629.5 1841,577.5 1916.5,510.5 1878,535 1903,484.5 1939,466 1864.5,550 1862,573 1764.5,708 1719,708 1783.5,601.5 1863,587.5 1863.5,535 1891,547 1875,558 1671,823.5 1848.5,566 1804,618 1968,446.5 2042,395.5 1813.5,554.5 1737.5,674 1604.5,739 1876,541 1814.5,587.5 1850.5,567.5 1867.5,579 1770.5,753 1679,770.5 1829,591.5 1909,549 2059,395.5 1768,620.5 1943.5,538 1974.5,460 1931,469.5 1952.5,465 1816,613 1917,472 1682,717 1848,584 1860,586 1794.5,654.5 1757,629.5 1786.5,618 1844,654.5 1857.5,620.5 2023,412 1928,522 1889.5,548 2005,465 1810.5,646.5 1826.5,610.5 1946.5,483.5 1870,506 1694.5,686 1923,455 1607.5,753 1978.5,431.5 1875,546 1744,632.5 1942.5,566 1868,557 1991.5,457.5 1878,570 1973.5,471.5 1875.5,558 1927,534.5 1871,567.5 1921,526.5 1839.5,553.5 1739,608 1892.5,535 1913,531 1773.5,650.5 1591,770.5 1845.5,659 1755.5,668.5 1674.5,792.5 1966.5,543 1937,479 1911,593 1750.5,643 1923.5,456 2010,371.5 1874,532.5 1917,581 1867.5,512.5 1863,587.5 1781,587.5 1713.5,708 1924,494.5 1752,659 2003.5,413.5 1898,519.5 1849.5,603.5 2010,427.5 1972.5,481 1766,700 1807,597 1932,499.5 1804.5,567.5 1809.5,618 1920.5,551 1940,458 1762,659 1743.5,739 1614.5,770.5 1716.5,692.5 1769.5,636 2008.5,457.5 2017.5,423 1836,557 1876.5,508.5 1858.5,560.5 1872.5,539 1731,654.5 1700.5,668.5 1795.5,610.5 1836.5,566 1922.5,535 1876.5,511.5 1816.5,545 1516,877 1834.5,581 1977,457 1782,595 1873.5,542 1909,490.5 1936.5,499.5 1531.5,823.5 1753.5,646.5 1917.5,502.5 1958.5,453 1860,582.5 1604.5,646.5 1753,708 1918.5,494 1906,495.5 1903.5,550 1721.5,700 1886.5,595 1850.5,533.5 1786.5,608 1928.5,480.5 1924,499 1780.5,613 1837,558 2012.5,402.5 1861.5,559.5 1757.5,663.5 1758.5,623.5 1907.5,536 1889.5,629.5 1927.5,573 1855,564.5 1859.5,562 1947.5,440 1834.5,593 1953,473 1757,603.5 1895.5,517.5 1796,605.5 1744.5,668.5 1641.5,823.5 1808.5,610.5 1726,717 1923.5,523.5 1931.5,471 2040.5,378 1898,524 1800.5,620.5 1823.5,615.5 1727,708 1890,551 1874,548 1995.5,432.5 1904.5,519 1942,505 1768,636 1850,632.5 1904,566 1763,620.5 1897,522 1904,571.5 1791.5,610.5 1874.5,529 1703,686 1922,477 1891.5,499.5 2033,404 1978.5,567.5 1805,566 1896,533.5 1929.5,493 1922,496 1812,581 1853,567.5 2033,426.5 1967,470 1805,591.5 1955,509.5 1857.5,577.5 1738,770.5 1815.5,599 1746.5,770.5 1753.5,708 1744.5,753 1970.5,399 1916.5,499 1795,686 1843,589.5 1876.5,506.5 1897.5,546 1948.5,414.5 1691,739 1865.5,591.5 1769.5,654.5 1918,499.5 1726,650.5 1930,591.5 1893,582.5 1883,522 1831,579 1684,792.5 1979,437 1901,514.5 1881,498 1792,626.5 1791.5,608 1873.5,577.5 2049,415.5 1832.5,564.5 1830.5,650.5 1941,495 1798,639 1814,584 1960,489 1732.5,663.5 1913,548 1957,468 1711.5,659 1838,533.5 1786,700 1903.5,474 1996.5,496 1814.5,589.5 1990.5,464.5 1745,708 1809,615.5 1883.5,517.5 1797,646.5 1894.5,533.5 1869.5,512 1766,708 1938.5,497.5 1907,508 2027.5,439.5 1897,506 1822,586 1955,537 1779,603.5 1982,435.5 1835.5,591.5 1832.5,587.5 1939,469.5 1853.5,564.5 1997,546 1950.5,529 1558.5,823.5 1874,543 1857.5,577.5 1794,613 1759,626.5 1880,541 1745.5,659 1841,563.5 1794,579 1633,770.5 1759,686 1841.5,597 1844,563.5 1911,508.5 1856,591.5 1876.5,508 1651,792.5 1918.5,511.5 1840,603.5 1885.5,539 1879,570 1913.5,517.5 1900,570 1954,510 1990,445.5 1866.5,556 1797,571.5 1970,477.5 1793.5,646.5 1772,643 2035.5,382 1804.5,618 2019.5,368 1952,526.5 1752.5,753 1789.5,792.5 1907,504.5 1649.5,700 1825.5,615.5 1951,467 1836.5,581 1968,512.5 1841.5,623.5 1849.5,576 1508,877 2017.5,430.5 1765.5,659 1822,591.5 1794.5,615.5 1893,552.5 1826,608 1798,556 1839.5,559.5 1793,564.5 1890.5,538 2010.5,439.5 1835,558 2007.5,447.5 1830,573 1866,586 1928,514.5 1935,531.5 1741,700 1863.5,497 1798,623.5 1964.5,488 1817.5,623.5 1834,568.5 1879,547 1688,692.5 1964,479.5 1959,508 2004,406 1653,877 1997.5,415.5 1942,505 1906,529 1923,524 1965,466 1789.5,636 1862.5,582.5 1832.5,581 1859,610.5 1604.5,727.5 1971.5,425 1804,692.5 1912,506.5 1978.5,420 1950,487.5 1546,877 1770,626.5 1809.5,608 1985,439.5 1816.5,605.5 1837,597 1885,530 1865.5,576 1871.5,570 1849,593 2005,400 1701.5,679.5 1993.5,375.5 1902.5,562 1889.5,519.5 1736,717 1721.5,668.5 1940.5,485 1710,686 1932.5,522 1908,519.5 1778.5,626.5 1889.5,552.5 1931,508.5 1841.5,591.5 1783,708 1731.5,668.5 1987,435 1777.5,597 1780.5,620.5 1844.5,591.5 1883.5,522.5 1810,560.5 1748,646.5 1913,474.5 1886.5,529 1730,659 1665.5,700 1663.5,823.5 1947.5,493.5 1950,475 1771,650.5 2014,391.5 1800.5,646.5 1810.5,659 1845.5,577.5 1903.5,503 1866.5,566 1868.5,566 1834.5,618 1786,562 1936.5,493 1878.5,570 1830.5,568.5 1746.5,663.5 2056,402 1948,488.5 1656,692.5 1745,679.5 2001,393.5 1878.5,538 1874,514 1956,512 1907.5,506.5 1522.5,823.5 1976.5,431 1689.5,753 1834.5,608 1722.5,646.5 1769.5,620.5 2062.5,406 1787,610.5 1789,643 1779.5,646.5 1744.5,668.5 1909.5,494 1816,584 1999.5,431 2000,450 1957.5,527.5 1872,513.5 1963.5,465 1858.5,525 1613.5,877 1665.5,739 1785,650.5 1635,753 1938.5,512.5 2026.5,408 1868,527.5 1966,445 1684,753 1756.5,663.5 2001.5,463 1768.5,605.5 1908,589.5 1899.5,558 1555,770.5 1877.5,574.5 1907,532.5 1668,686 2290,95.5 2335.5,105.5 2307.5,111.5 2316,114 2315.5,124.5 2276.5,146 2292,143.5 2259.5,166.5 2213,177 2190.5,196.5 2207,199 2219,204.5 2235,196 2240.5,203 2249,206.5 2174.5,208.5 2135,223.5 2153,224 2209,222 2213,234 2258.5,226 2242.5,239 2151.5,245 2187.5,252.5 2199.5,248.5 2236,256 2163.5,263 2140.5,265 2138,266.5 2126.5,269 2112.5,269.5 2095,272 2115,280.5 2121.5,285.5 2156,278.5 2155,282.5 2135.5,291.5 2076.5,286 2212.5,293.5 2231,299 2151.5,300.5 2162,302.5 2171.5,296.5 2186,302 2109,303.5 2072.5,311 2172.5,310 2166,313.5 2158.5,314 2147,314.5 2138,316.5 2121.5,311.5 2121.5,320 2159.5,321.5 2186.5,319.5 2084,318 2080,325.5 2076.5,331 2100.5,313.5 2104.5,316 2102,320.5 2109,320.5 2102,325.5 2099.5,331.5 2104.5,334 2139,328.5 2093.5,338.5 2105.5,340 2121,339 2141,341 2159.5,336.5 2097,348 2104.5,352 2132,344.5 2134.5,348.5 2151.5,349 2065.5,353 2076,350 2125,361 2141,359 2150,393.5 2118,381.5 2099.5,383.5 2104.5,371.5 2096,394 2081.5,393.5 2107,407 2108.5,419 2078,408.5 2075.5,419.5 2155,445 2154.5,473.5 2074.5,591 1999,623 2090.5,433 2091,444.5 2050,495 2052.5,502 2044,482.5 2040.5,511.5 2043.5,523 2041,545.5 2017,539.5 2011.5,549 2015.5,560 2012.5,564 1990.5,561.5 1993,572.5 1974.5,572.5 1955,583.5 1956,596.5 1959,601 1932.5,615 1928.5,626 1938.5,629 1938,646 1915.5,685.5 1912.5,717 1909.5,656.5 1906,623.5 1887.5,440.5 1763.5,519.5 1872.5,469 1736,564.5 1693.5,607.5"/>
<path class="axl" d="M1462.8 24.5V919.3M1453.8 911.3H2449.6M1453.8 734.1H1462.8M1660 911.3V919.3M1453.8 556.9H1462.8M1857.2 911.3V919.3M1453.8 379.7H1462.8M2054.4 911.3V919.3M1453.8 202.5H1462.8M2251.6 911.3V919.3M1453.8 25.3H1462.8M2448.8 911.3V919.3"/>
<text class="t" x="1434.5" y="920.1" text-anchor="end" textLength="84" lengthAdjust="spacingAndGlyphs">1.0E-06</text>
<text class="t" x="1462.5" y="956.8" text-anchor="middle" textLength="84" lengthAdjust="spacingAndGlyphs">1.0E-06</text>
<text class="t" x="1434.5" y="742.9" text-anchor="end" textLength="84" lengthAdjust="spacingAndGlyphs">1.0E-05</text>
<text class="t" x="1659.7" y="956.8" text-anchor="middle" textLength="84" lengthAdjust="spacingAndGlyphs">1.0E-05</text>
<text class="t" x="1434.5" y="565.7" text-anchor="end" textLength="84" lengthAdjust="spacingAndGlyphs">1.0E-04</text>
<text class="t" x="1856.9" y="956.8" text-anchor="middle" textLength="84" lengthAdjust="spacingAndGlyphs">1.0E-04</text>
<text class="t" x="1434.5" y="388.5" text-anchor="end" textLength="84" lengthAdjust="spacingAndGlyphs">1.0E-03</text>
<text class="t" x="2054.1" y="956.8" text-anchor="middle" textLength="84" lengthAdjust="spacingAndGlyphs">1.0E-03</text>
<text class="t" x="1434.5" y="211.3" text-anchor="end" textLength="84" lengthAdjust="spacingAndGlyphs">1.0E-02</text>
<text class="t" x="2251.3" y="956.8" text-anchor="middle" textLength="84" lengthAdjust="spacingAndGlyphs">1.0E-02</text>
<text class="t" x="1434.5" y="34.1" text-anchor="end" textLength="84" lengthAdjust="spacingAndGlyphs">1.0E-01</text>
<text class="t" x="2448.5" y="956.8" text-anchor="middle" textLength="84" lengthAdjust="spacingAndGlyphs">1.0E-01</text>
<text class="g" x="2180.2" y="105.6" textLength="85.6" lengthAdjust="spacingAndGlyphs">psaB</text>
<text class="g" x="2040.4" y="217.5" textLength="83.2" lengthAdjust="spacingAndGlyphs">psbO</text>
<text class="g" x="1994.6" y="262.8" textLength="89.2" lengthAdjust="spacingAndGlyphs">psbD</text>
<text class="n" x="1929.9" y="306.7" textLength="114.1" lengthAdjust="spacingAndGlyphs">A2171</text>
<text class="g" x="2239.3" y="314.6" textLength="86.8" lengthAdjust="spacingAndGlyphs">psbT</text>
<text class="n" x="2171.7" y="406.4" textLength="114" lengthAdjust="spacingAndGlyphs">A2107</text>
<text class="n" x="2176.8" y="455.4" textLength="111.4" lengthAdjust="spacingAndGlyphs">C0011</text>
<text class="n" x="2174.1" y="500" textLength="110.4" lengthAdjust="spacingAndGlyphs">B0003</text>
<text class="g" x="1790" y="442.8" textLength="77.1" lengthAdjust="spacingAndGlyphs">rpsR</text>
<text class="n" x="1687.8" y="510.7" textLength="114.8" lengthAdjust="spacingAndGlyphs">A0258</text>
<text class="n" x="2092.1" y="607.2" textLength="114.5" lengthAdjust="spacingAndGlyphs">A1521</text>
<text class="n" x="2011.4" y="655.9" textLength="112.3" lengthAdjust="spacingAndGlyphs">C0004</text>
<text class="ax" x="1575" y="1015" textLength="774" lengthAdjust="spacingAndGlyphs">Relative transcript abundance (std/ 38 °C)</text>
<text class="ax" transform="translate(1328 806.5) rotate(-90)" textLength="692" lengthAdjust="spacingAndGlyphs">Relative transcript abundance (30 °C)</text>
<text class="pl" x="1292.5" y="39.8" textLength="29.5" lengthAdjust="spacingAndGlyphs">B</text>
</g>
<g id="panelC">
<path class="dg" d="M176 1953.7L995.7 1215.2"/>
<path class="dg" d="M225.3 1998.2L995.7 1304.2"/>
<path class="pts" d="M497,1851.5 491.5,1631.5 554,1679.5 430,1736.5 524,1736.5 416.5,1830 420,1840 547,1669 504,1676 485,1884.5 426.5,1807 533.5,1723 663,1632 542,1720 543,1659.5 493.5,1739 589.5,1643 471.5,1830 520.5,1734.5 506.5,1769.5 594,1910.5 419,1821.5 451,1955 485.5,1699 634,1623 432,1866 688,1814 420,1955 459,1955 520,1653 389,1910.5 413,1785.5 602.5,1700 479.5,1910.5 530.5,1627 526,1675.5 616,1659 602.5,1769.5 530.5,1766 513,1790.5 580,1691 425,1807 453.5,1910.5 407,1884.5 391.5,1884.5 570,1672 486.5,1955 640,1753.5 482,1566 527,1654 470,1743.5 561.5,1766 551,1795.5 481,1821.5 530.5,1807 449,1910.5 464,1884.5 429.5,1751 570.5,1746 434,1821.5 422.5,1795.5 575.5,1732.5 495,1790.5 400,1955 418,1795.5 319,1830 417,1955 493,1781 409.5,1743.5 408,1884.5 557,1695.5 624.5,1619 598.5,1655.5 469,1625.5 539,1781 484.5,1807 633.5,1687 521.5,1756.5 536,1708 642,1706.5 435.5,1762.5 510,1785.5 425,1741 473.5,1723 396,1955 627,1756.5 488.5,1693.5 516,1690 446,1751 522.5,1695.5 529.5,1762.5 498,1821.5 499,1790.5 526.5,1739 430,1801 492.5,1677 467,1821.5 444,1866 511.5,1807 217.5,1830 398,1840 485.5,1696.5 615.5,1746 543.5,1693.5 444,1728.5 608.5,1643 511.5,1696.5 450,1769.5 490.5,1698 613,1653 560,1753.5 447,1955 420.5,1746 544,1645.5 413,1785.5 463.5,1840 552,1661 421.5,1884.5 440,1777 516,1710.5 478.5,1743.5 597,1629.5 355.5,1851.5 545,1655.5 549,1777 456,1781 562,1667 486,1807 457,1801 480,1661.5 604.5,1728.5 497.5,1762.5 462.5,1781 406,1814 496,1777 567.5,1698 439,1801 571,1678 523,1748.5 533,1777 429.5,1781 555.5,1713.5 521,1725 510.5,1721.5 564.5,1673 577.5,1748.5 493.5,1751 615,1701.5 538.5,1790.5 545.5,1785.5 517.5,1790.5 613.5,1615.5 518.5,1762.5 346,1743.5 499,1781 559.5,1777 382.5,1795.5 401.5,1785.5 479.5,1821.5 532.5,1701.5 546,1610 475,1718 339.5,1955 482.5,1955 463.5,1795.5 517.5,1769.5 568.5,1688 430.5,1866 598,1579.5 464.5,1756.5 482,1795.5 354.5,1814 672,1598.5 333,1955 579,1718 446,1830 377.5,1821.5 417,1866 411.5,1884.5 353.5,1777 305.5,1866 549.5,1739 504,1830 586.5,1725 455.5,1955 496,1807 570.5,1713.5 523.5,1723 510.5,1795.5 423.5,1866 425,1840 548,1728.5 476.5,1790.5 549,1663.5 527,1732.5 547,1685 513,1712 585,1629 339.5,1851.5 442,1801 521,1756.5 621,1725 457.5,1910.5 529.5,1708 593.5,1821.5 463,1795.5 345,1955 523.5,1721.5 556,1632 532.5,1773 530.5,1751 543,1777 442,1706.5 541,1743.5 561,1695.5 498.5,1769.5 434.5,1739 452.5,1728.5 549.5,1692 449,1762.5 593,1620.5 514,1709.5 479.5,1785.5 407.5,1866 496,1821.5 658,1603 604.5,1698 443.5,1720 471,1866 348.5,1884.5 557,1741 530,1785.5 512,1671.5 391,1756.5 613,1680.5 590.5,1683.5 587.5,1699 313.5,1785.5 460,1715 556,1741 522,1773 488.5,1773 476.5,1766 394,1830 450,1795.5 366.5,1910.5 569,1785.5 490,1720 493.5,1721.5 461.5,1866 419,1762.5 339,1955 428.5,1807 453,1751 459.5,1769.5 557,1723 559.5,1688 416,1866 425,1840 566,1677 326.5,1884.5 471,1773 550,1710.5 502.5,1790.5 459,1807 542.5,1635 431,1777 511,1795.5 485,1769.5 537,1739 582,1766 596,1663.5 313.5,1821.5 519.5,1748.5 536.5,1762.5 558,1637.5 470.5,1830 471.5,1807 522.5,1790.5 436,1708 370,1821.5 548.5,1840 546.5,1667.5 406,1785.5 576,1647 428.5,1795.5 638,1696.5 398.5,1955 495,1704 439.5,1795.5 455.5,1676 518.5,1736.5 540.5,1773 421.5,1795.5 607,1661 429,1851.5 470,1781 635.5,1641 456,1718 441,1691 517.5,1734.5 535,1730.5 527,1709.5 573,1702.5 646.5,1685 503.5,1830 527.5,1667.5 498,1751 525,1732.5 588.5,1790.5 524.5,1666 422,1955 612,1632 514.5,1692 641,1632 683.5,1669 386.5,1866 463,1762.5 411.5,1910.5 457.5,1748.5 430.5,1790.5 511,1866 543.5,1669 347,1884.5 402,1790.5 486,1814 570,1739 474,1814 324,1866 486.5,1690 638,1710.5 377.5,1955 490,1734.5 415.5,1777 425.5,1821.5 433.5,1748.5 417.5,1716.5 498.5,1700 524,1725 557,1644.5 524.5,1785.5 486,1681.5 495.5,1741 420.5,1821.5 564.5,1727 493,1720 491.5,1785.5 589,1708 538,1746 548,1723 646.5,1561 586,1667.5 563,1613 507,1830 347,1955 312.5,1866 425.5,1814 672.5,1577 484.5,1773 462.5,1756.5 538.5,1746 583,1658 525.5,1644.5 540,1672 524.5,1689 468.5,1743.5 455,1777 325.5,1884.5 348.5,1830 492,1777 516.5,1743.5 567.5,1650 391.5,1851.5 404.5,1769.5 546,1910.5 371,1866 507,1814 494,1910.5 529.5,1746 427,1795.5 535,1790.5 400,1840 549.5,1751 489,1596 458,1777 502,1687 585,1641.5 409.5,1955 474.5,1730.5 560.5,1566.5 654,1741 420,1766 469,1668.5 404,1830 490,1910.5 564.5,1739 445,1840 488.5,1840 615,1677 398.5,1821.5 496.5,1721.5 460,1766 413.5,1734.5 470.5,1671.5 457,1759.5 387,1801 578.5,1672 356.5,1801 605.5,1680.5 586,1629.5 628,1643 420,1668.5 435.5,1762.5 575.5,1621 413.5,1734.5 584.5,1613.5 546.5,1741 353.5,1777 509.5,1814 489.5,1821.5 546.5,1730.5 572,1668.5 452.5,1766 478.5,1777 435,1759.5 394,1851.5 525,1700 467,1814 425,1814 634,1624 478.5,1807 538.5,1653 474,1746 577,1658 600,1688 577.5,1591.5 622,1636.5 340,1955 451,1910.5 408.5,1777 549.5,1728.5 522.5,1756.5 411.5,1866 513.5,1667.5 624,1705 455,1955 566,1595.5 598,1601 476.5,1753.5 528.5,1759.5 502,1716.5 474.5,1790.5 528,1666 357.5,1790.5 556,1687 510.5,1662 409,1781 555,1743.5 354,1698 415.5,1866 591,1670 542.5,1648 452.5,1821.5 609.5,1560 478,1712 488,1727 504.5,1715 552,1734.5 541,1700 470.5,1718 546.5,1693.5 587,1681.5 522,1730.5 569.5,1623 567,1716.5 426,1790.5 487,1884.5 662.5,1611.5 483.5,1713.5 559,1743.5 405.5,1746 446.5,1840 554,1781 542.5,1743.5 387,1821.5 489.5,1725 455,1790.5 574.5,1730.5 480.5,1743.5 596,1618 423.5,1807 529,1647 451,1736.5 431.5,1910.5 504.5,1736.5 518.5,1702.5 536.5,1713.5 534.5,1675.5 336.5,1851.5 464.5,1663.5 342.5,1955 525,1705 565,1660 523.5,1683.5 462.5,1777 529.5,1739 561.5,1910.5 542.5,1743.5 321.5,1801 474,1725 500.5,1795.5 514,1702.5 504.5,1884.5 546,1766 542.5,1689 478,1721.5 475,1712 479,1716.5 365.5,1884.5 544.5,1674.5 266.5,1910.5 616,1677 550.5,1655 507.5,1683.5 418,1753.5 461,1766 493.5,1732.5 540,1718 518,1743.5 562,1687 476,1759.5 618.5,1716.5 518,1673 523,1687 466,1821.5 496.5,1734.5 435.5,1746 529,1777 469,1746 555.5,1704 527,1698 530,1682.5 508,1762.5 435.5,1830 552.5,1790.5 561.5,1720 474.5,1710.5 419,1640 451.5,1807 579,1605 377.5,1884.5 526.5,1665 474.5,1748.5 556,1801 391.5,1840 534,1910.5 423,1795.5 539.5,1670 626.5,1628.5 483.5,1708 641,1695.5 504.5,1709.5 554.5,1692 673,1574.5 576,1677 539,1659.5 440.5,1730.5 529.5,1781 444.5,1830 428,1840 537,1720 394.5,1821.5 283.5,1955 551.5,1713.5 650.5,1741 443.5,1751 508,1781 390.5,1830 451,1739 436,1713.5 530,1713.5 418.5,1884.5 443,1716.5 639,1626.5 356,1840 645,1574 606.5,1692 586.5,1866 515.5,1807 430,1955 457.5,1830 445,1728.5 616.5,1693.5 409.5,1762.5 403,1955 469,1814 449,1840 660,1633.5 460,1814 443,1840 436.5,1736.5 344.5,1830 499.5,1801 439.5,1773 471.5,1785.5 585,1716.5 571.5,1795.5 554,1674 424,1781 486.5,1759.5 454.5,1795.5 469.5,1756.5 482.5,1777 451.5,1830 572.5,1679.5 438.5,1910.5 597.5,1741 526.5,1626.5 485.5,1708 530,1687 469,1759.5 593,1668.5 571,1586.5 474.5,1781 405,1777 394.5,1814 592.5,1741 581.5,1683.5 447,1851.5 414,1955 476,1661.5 434,1756.5 548.5,1821.5 444,1773 490.5,1748.5 539.5,1708 508.5,1851.5 453.5,1777 412.5,1715 378,1910.5 545,1696.5 446.5,1667.5 457.5,1713.5 503.5,1790.5 515,1795.5 568,1807 524.5,1866 472,1773 402,1715 524,1721.5 483,1866 488,1769.5 425.5,1785.5 513.5,1712 555,1910.5 479.5,1801 543,1684 496,1756.5 468.5,1795.5 585.5,1661 473.5,1773 515,1955 380.5,1785.5 559.5,1762.5 464,1777 485.5,1840 465.5,1790.5 517,1746 313.5,1955 415.5,1830 507,1751 516,1840 458,1687 547.5,1696.5 577.5,1619.5 440.5,1736.5 530,1720 382.5,1851.5 403,1851.5 328,1801 601,1653 462.5,1773 468,1830 544.5,1753.5 617.5,1627.5 532.5,1748.5 620,1661 596.5,1656.5 428,1781 465.5,1641 441.5,1712 547,1840 435.5,1821.5 558,1753.5 354.5,1866 574,1679.5 387.5,1718 549,1807 509.5,1721.5 525.5,1727 477.5,1773 508.5,1670.5 633,1659.5 505,1830 376,1814 665,1640.5 500.5,1728.5 419,1851.5 556.5,1728.5 458,1801 554,1685 447,1759.5 543,1660 618,1609 543.5,1663 485,1720 318,1955 495.5,1739 393.5,1866 503.5,1736.5 398.5,1801 636,1690 495,1727 635.5,1608 539.5,1777 550.5,1635 509.5,1773 626.5,1613 600,1670.5 491.5,1696.5 350,1814 398,1910.5 487,1851.5 419,1910.5 539.5,1741 527.5,1830 532,1599 539,1785.5 508,1769.5 525.5,1663.5 510,1689 411,1910.5 491.5,1781 492,1691 564.5,1679 463,1725 425,1781 639.5,1649.5 553.5,1699 579.5,1698 620,1679 472,1801 576,1884.5 364.5,1910.5 408,1790.5 511.5,1655.5 537.5,1569.5 334,1910.5 475,1807 408.5,1866 494.5,1674.5 455.5,1734.5 457.5,1777 512,1851.5 464.5,1851.5 357.5,1840 334,1910.5 228,1910.5 466,1884.5 464.5,1773 493,1667.5 506.5,1670 459,1851.5 383,1807 456.5,1766 443,1821.5 622.5,1669 568,1777 427,1769.5 483.5,1746 591.5,1730.5 510.5,1830 575,1684 514,1715 370,1866 545,1728.5 450,1727 441.5,1785.5 470.5,1769.5 580,1866 521.5,1777 400,1840 577,1671.5 535.5,1736.5 569.5,1644.5 520,1777 501,1670 345.5,1866 518.5,1685 359,1821.5 480.5,1621 635.5,1614 512.5,1801 524,1727 456.5,1785.5 518,1756.5 397,1790.5 477,1741 517,1727 476.5,1769.5 278.5,1840 197.5,1884.5 448,1759.5 431,1910.5 449.5,1955 644.5,1590.5 356,1910.5 552,1647 386.5,1955 683.5,1630.5 591,1667 541.5,1674 429,1795.5 506.5,1814 507,1910.5 447,1795.5 452,1748.5 577.5,1661 505.5,1814 587.5,1762.5 492,1955 655.5,1639 625,1636.5 402,1884.5 538.5,1720 434,1769.5 605,1709.5 576,1840 312,1910.5 505,1762.5 416,1627 624,1648.5 488,1830 520,1766 543.5,1866 551.5,1638 508,1866 596.5,1654.5 450,1734.5 541.5,1679 479,1746 669,1734.5 483.5,1713.5 497,1756.5 481.5,1686 649.5,1647 609,1659 487,1641.5 453,1683.5 629.5,1595 670.5,1631 539,1712 373.5,1821.5 390,1677 536.5,1648 423.5,1814 453,1741 505,1753.5 462.5,1866 590.5,1702.5 505,1801 405.5,1910.5 364,1884.5 353,1955 458,1702.5 580,1674 440,1814 516,1727 454,1766 508,1642 468.5,1814 537.5,1840 412.5,1777 479.5,1708 551.5,1732.5 440,1785.5 554,1710.5 565,1716.5 369,1955 338,1866 629,1595 402.5,1751 498,1736.5 531,1781 625.5,1644 504,1777 431,1694.5 548.5,1660 625.5,1627 424,1910.5 547.5,1751 498,1756.5 514,1699 479.5,1709.5 528,1576.5 546.5,1753.5 687.5,1604 356,1955 629.5,1616.5 509.5,1712 423,1720 387.5,1821.5 608.5,1739 393.5,1884.5 384,1751 427.5,1785.5 393,1884.5 453,1910.5 515.5,1615.5 523.5,1715 577,1751 595.5,1781 431,1795.5 538.5,1753.5 625,1634 473,1910.5 336.5,1955 578,1748.5 563,1700 463.5,1667 408,1884.5 483,1712 524,1718 442,1840 355.5,1807 620,1657 419.5,1777 343.5,1866 315,1884.5 425.5,1851.5 460,1814 444,1746 493.5,1821.5 678,1611.5 500,1705 664,1607.5 489,1807 451.5,1769.5 339.5,1955 509.5,1741 534.5,1734.5 356.5,1884.5 303,1866 463.5,1746 475,1851.5 486.5,1790.5 426.5,1866 484,1743.5 414,1910.5 412.5,1955 510.5,1709.5 585,1654 439,1814 348,1840 449.5,1696.5 491.5,1699 486,1840 586,1720 409.5,1692 469.5,1807 305,1884.5 517,1720 468.5,1762.5 426.5,1884.5 560.5,1643.5 385.5,1795.5 424.5,1728.5 572.5,1619.5 540,1617.5 506,1807 495.5,1759.5 556.5,1696.5 476.5,1746 570,1706.5 380,1762.5 597.5,1720 485,1751 589,1884.5 375,1840 453,1814 484.5,1781 571,1698 557.5,1649 384,1821.5 255.5,1866 567,1644 523.5,1807 418.5,1801 540,1734.5 393,1851.5 500,1801 389.5,1807 550,1748.5 489.5,1795.5 513.5,1725 330,1910.5 405.5,1866 375,1840 455,1821.5 490.5,1766 451,1743.5 479.5,1716.5 521.5,1695.5 479.5,1840 507,1777 588.5,1620.5 364,1910.5 582,1718 383,1766 487.5,1759.5 511,1723 473.5,1840 586.5,1781 369,1884.5 571,1759.5 531,1704 585.5,1673 447.5,1795.5 603.5,1705 514,1884.5 546.5,1713.5 502,1751 544,1635 602,1574 474.5,1777 346.5,1866 504,1739 548.5,1709.5 439,1821.5 458.5,1589 371.5,1785.5 528,1807 409.5,1884.5 562,1673 575.5,1650 640.5,1769.5 590,1706.5 580,1723 499.5,1759.5 648,1647 338.5,1814 401.5,1851.5 629.5,1650 436.5,1790.5 405.5,1840 439.5,1785.5 557.5,1777 577,1593.5 455.5,1756.5 476.5,1710.5 541,1801 470.5,1840 538,1769.5 392.5,1830 583,1762.5 505.5,1657 490.5,1712 452,1807 317.5,1955 596,1619.5 451,1884.5 492.5,1700 490,1712 566,1665.5 482,1814 640.5,1696.5 397.5,1840 463,1777 453,1814 426,1759.5 319.5,1814 408,1866 508.5,1665 592.5,1670.5 418.5,1821.5 384.5,1955 630.5,1679.5 493.5,1713.5 355,1955 537,1708 430,1851.5 546.5,1689 458.5,1801 514,1725 397.5,1884.5 489.5,1657.5 511,1840 507.5,1807 575,1661.5 411.5,1785.5 391.5,1840 527,1801 492,1680.5 538,1696.5 444,1753.5 654,1652 616.5,1653 421.5,1766 425,1777 416,1656.5 490.5,1840 374.5,1840 476.5,1777 367,1801 470,1759.5 609.5,1691 586,1705 488.5,1670.5 468.5,1753.5 542,1801 428,1781 592.5,1670 491,1801 533,1713.5 332.5,1801 496.5,1748.5 465,1781 445.5,1795.5 499.5,1766 382.5,1814 496,1769.5 577,1712 470.5,1686 427,1795.5 553,1728.5 412,1795.5 447,1814 602,1639 585.5,1634 531,1695.5 506.5,1766 312,1830 490.5,1795.5 359.5,1762.5 482,1675.5 490.5,1910.5 485,1821.5 535.5,1721.5 505,1748.5 401,1807 461,1955 570,1694.5 658,1631 542,1718 533,1668.5 585.5,1732.5 538,1851.5 343,1910.5 436.5,1830 642.5,1675.5 514,1777 433.5,1715 389,1830 558,1650 503,1695.5 482.5,1955 663,1652 427,1748.5 560,1807 453,1639 558,1640 541.5,1777 597.5,1660 345,1910.5 447,1910.5 460.5,1692 424,1785.5 575.5,1666 498.5,1681.5 368.5,1840 373,1814 462,1830 363,1840 474,1743.5 493,1748.5 447.5,1795.5 453,1688 404,1884.5 401,1851.5 646.5,1692 392,1910.5 542,1884.5 534,1814 498,1762.5 335,1814 582.5,1678 439,1910.5 666.5,1680.5 462,1795.5 407.5,1955 589.5,1588.5 328.5,1773 516,1732.5 571,1708 423.5,1777 497,1720 576.5,1701.5 486.5,1651 468.5,1830 581,1603.5 498.5,1670.5 664.5,1748.5 464,1736.5 521.5,1955 430,1781 547,1688 585,1866 488.5,1716.5 388,1840 522.5,1699 487.5,1773 529.5,1766 403,1866 524.5,1734.5 442.5,1635.5 567,1753.5 506,1674 484,1751 510.5,1777 552,1655.5 625.5,1617.5 605.5,1679 516.5,1680.5 502.5,1732.5 391,1955 477,1759.5 617,1690 501,1790.5 331,1910.5 429.5,1851.5 552,1830 465.5,1718 441,1753.5 635.5,1639 582,1684 520.5,1696.5 447,1851.5 605,1668.5 651.5,1631 498,1748.5 530,1807 542,1695.5 615,1821.5 546.5,1851.5 379.5,1748.5 480,1751 458,1766 529.5,1688 372,1884.5 478.5,1884.5 424,1866 489,1723 587,1790.5 512.5,1734.5 687.5,1582 568,1759.5 609,1651.5 357.5,1955 610.5,1601 402.5,1781 532.5,1667 492.5,1698 546.5,1718 424,1840 548,1694.5 360.5,1955 591.5,1650.5 414.5,1851.5 672,1781 454.5,1795.5 483.5,1795.5 479,1814 536,1821.5 482,1785.5 473,1712 447.5,1785.5 487,1681.5 580.5,1751 454,1734.5 505,1910.5 457.5,1720 471.5,1673 522.5,1677 517,1773 404,1955 380.5,1955 489,1667 513.5,1955 676,1702.5 499,1807 365,1910.5 591.5,1693.5 423,1814 442.5,1866 543.5,1807 364.5,1840 445,1884.5 290.5,1851.5 391.5,1821.5 510,1650.5 484,1708 486.5,1830 416.5,1830 398.5,1795.5 558.5,1840 446.5,1713.5 489,1743.5 523,1753.5 386,1741 521,1734.5 484,1759.5 611.5,1721.5 476,1781 381.5,1851.5 410.5,1728.5 485.5,1743.5 456,1790.5 528,1748.5 329,1866 572,1638 564.5,1656.5 514,1790.5 516,1814 476.5,1795.5 470.5,1769.5 511.5,1777 387,1720 425,1830 452.5,1756.5 661,1558.5 461,1721.5 644.5,1814 438,1781 478,1748.5 498,1746 636.5,1670.5 555,1734.5 526,1619 425,1814 520.5,1781 535.5,1769.5 420.5,1910.5 567,1640.5 531.5,1668.5 428,1821.5 572.5,1753.5 438,1751 538.5,1801 456.5,1766 432,1821.5 590,1706.5 573,1708 547.5,1605 469.5,1830 666,1665.5 509.5,1762.5 535.5,1701.5 446,1736.5 405,1790.5 532.5,1769.5 550.5,1766 288,1884.5 459,1795.5 496,1766 503.5,1769.5 405,1814 374.5,1955 449,1955 516,1866 546,1691 462,1801 630,1653.5 395,1721.5 456,1807 495,1657 505,1756.5 515.5,1795.5 433,1785.5 429.5,1753.5 374,1884.5 550.5,1732.5 435,1785.5 495.5,1684 570,1672 499.5,1785.5 384,1955 478,1736.5 513.5,1814 627,1657 523.5,1674.5 436,1955 576.5,1773 526.5,1691 423.5,1759.5 393.5,1814 487.5,1741 511.5,1769.5 452,1716.5 530.5,1743.5 481,1599.5 368,1785.5 628,1645 577,1753.5 452,1781 319.5,1766 421,1736.5 428,1866 376,1851.5 450,1866 409.5,1762.5 392.5,1814 377,1910.5 485.5,1694.5 469.5,1785.5 487.5,1688 432.5,1866 589.5,1615.5 500,1756.5 591.5,1646 485.5,1678 426,1821.5 381.5,1884.5 392.5,1955 493,1692 462,1801 643,1612 284,1910.5 641,1743.5 560,1658 500,1591 412.5,1790.5 571.5,1743.5 322,1910.5 469,1753.5 462.5,1753.5 388.5,1851.5 659.5,1575.5 525.5,1638 571,1769.5 448,1884.5 605,1678 266.5,1955 453,1672 369,1884.5 548,1766 533.5,1759.5 386,1884.5 491.5,1753.5 476,1748.5 516,1830 585.5,1766 446.5,1753.5 557.5,1741 550.5,1759.5 562,1814 299.5,1884.5 440.5,1866 462,1688 410,1840 435,1795.5 429,1910.5 520.5,1720 449,1814 549.5,1766 456.5,1646 635.5,1721.5 498,1753.5 492.5,1712 399.5,1785.5 563.5,1653 587,1721.5 475,1840 554.5,1680.5 630,1741 560.5,1716.5 559.5,1691 481.5,1629.5 489.5,1686 413,1955 490.5,1659 495,1866 557.5,1715 455.5,1766 469,1739 511,1781 545.5,1730.5 525.5,1762.5 409,1777 503.5,1625.5 510,1718 378,1910.5 654,1567.5 457,1821.5 447,1866 517,1866 551,1671.5 558,1728.5 507.5,1814 614.5,1585 544.5,1751 505,1781 545,1674 470.5,1743.5 480.5,1727 532.5,1607.5 450,1678 444,1866 507,1851.5 488,1814 487.5,1766 444,1830 483.5,1634.5 559.5,1635 541,1762.5 509,1773 529.5,1664 580.5,1743.5 402,1866 573,1645.5 421,1781 417.5,1884.5 546.5,1736.5 481.5,1746 580.5,1884.5 336.5,1821.5 567.5,1751 562.5,1679.5 462.5,1746 449,1814 574.5,1647 410.5,1753.5 559.5,1624 396,1759.5 494.5,1699 519,1725 573.5,1728.5 456,1777 524,1773 486,1756.5 472,1781 464.5,1795.5 545.5,1689 496.5,1743.5 534,1773 646,1680.5 504.5,1766 631,1636 579,1671.5 546.5,1713.5 422,1777 593.5,1663.5 518,1955 514,1673 441,1955 474.5,1759.5 462.5,1727 555,1663.5 502.5,1691 518.5,1709.5 465.5,1769.5 550.5,1690 462.5,1762.5 451.5,1753.5 607,1671.5 492,1781 574,1709.5 439,1851.5 473,1814 549,1700 513,1716.5 514.5,1807 506,1795.5 351.5,1695.5 537.5,1713.5 507,1728.5 373.5,1766 556,1700 575.5,1713.5 642.5,1687 499,1634.5 558,1756.5 364.5,1748.5 496,1840 380.5,1725 492.5,1781 431,1830 382,1840 537,1753.5 391.5,1910.5 552.5,1667.5 450.5,1777 538.5,1657.5 490.5,1821.5 460.5,1766 547,1696.5 563.5,1777 596.5,1605.5 395,1840 473.5,1766 497,1743.5 607.5,1759.5 491.5,1644.5 360.5,1840 465.5,1725 594,1751 498,1696.5 396.5,1781 475.5,1688 413,1785.5 491,1781 573.5,1751 413.5,1790.5 603.5,1777 484,1746 556,1739 460,1840 506.5,1730.5 300,1910.5 555,1677 539.5,1668.5 564.5,1660 545,1702.5 450.5,1756.5 477.5,1728.5 401,1785.5 525.5,1741 543.5,1712 419,1866 458.5,1777 476,1781 499,1604 582,1682.5 423.5,1807 482,1687 490,1654 538,1734.5 382,1884.5 533,1578 464,1851.5 426.5,1955 314.5,1910.5 515,1790.5 488.5,1713.5 603.5,1674.5 543.5,1884.5 425,1884.5 486,1725 342.5,1821.5 412.5,1807 493.5,1807 373.5,1910.5 532,1795.5 424,1590.5 478,1713.5 479,1753.5 523.5,1651 532,1710.5 473,1689 577.5,1655.5 407.5,1769.5 502,1830 463,1685 463.5,1851.5 472.5,1713.5 595.5,1702.5 485.5,1766 443,1821.5 584.5,1570 404.5,1753.5 462,1734.5 488,1705 395.5,1955 617.5,1688 463.5,1785.5 386,1736.5 422,1884.5 494,1686 491.5,1840 584.5,1606 463.5,1743.5 434,1766 566,1790.5 478.5,1736.5 394.5,1910.5 493.5,1701.5 505,1751 573.5,1613 553.5,1706.5 558,1702.5 600.5,1655 551.5,1693.5 537,1753.5 477.5,1830 433.5,1790.5 499.5,1781 389.5,1756.5 469.5,1647 390,1884.5 514.5,1692 517.5,1790.5 514,1725 466.5,1695.5 556,1698 569,1675.5 442,1866 479,1866 447.5,1866 596,1682.5 569.5,1756.5 623,1640.5 477.5,1766 563.5,1690 511,1814 560.5,1655 469,1790.5 449,1759.5 613.5,1626.5 412.5,1866 546,1663 682.5,1580.5 417,1866 484,1795.5 536.5,1736.5 363,1777 535.5,1814 405.5,1748.5 505.5,1910.5 503,1785.5 562,1716.5 665,1821.5 557,1728.5 431.5,1851.5 438,1830 366.5,1955 347,1955 532.5,1607 549,1573.5 595.5,1665 488,1762.5 583.5,1807 408.5,1790.5 542,1718 486,1814 491.5,1728.5 517.5,1683.5 541.5,1622 537.5,1730.5 369,1781 531,1715 449,1807 459,1762.5 567,1675.5 399.5,1685 586.5,1741 528.5,1633.5 442,1866 427,1814 448,1884.5 522.5,1746 572,1653.5 615.5,1657.5 479.5,1741 402.5,1821.5 486,1769.5 479.5,1955 570.5,1866 390.5,1801 459.5,1720 401.5,1884.5 525,1739 517.5,1732.5 543.5,1706.5 334.5,1769.5 442.5,1866 458,1727 520,1840 415,1840 392.5,1766 543.5,1766 501,1702.5 390.5,1821.5 571,1766 481.5,1762.5 397.5,1884.5 380.5,1830 464,1830 510,1700 352,1801 473.5,1762.5 558.5,1691 573,1682.5 457.5,1732.5 385,1807 519.5,1680.5 394,1866 582,1562 531,1830 472,1769.5 577.5,1671.5 337,1851.5 478.5,1821.5 465,1759.5 376,1866 470,1723 435,1766 526.5,1851.5 443.5,1790.5 416.5,1785.5 429,1955 606.5,1687 490,1658 453,1766 611,1597.5 485.5,1762.5 441.5,1851.5 514.5,1669 525,1715 390,1766 487.5,1790.5 432,1781 483,1732.5 446.5,1814 522.5,1736.5 458,1781 563.5,1644 312.5,1884.5 540,1698 393.5,1840 371.5,1830 513.5,1955 419,1759.5 461.5,1955 585.5,1706.5 508.5,1773 529,1679 409.5,1721.5 471.5,1702.5 444,1781 482.5,1830 533.5,1683.5 484.5,1910.5 429,1795.5 573.5,1736.5 424,1821.5 432,1866 520.5,1626 484.5,1753.5 522,1773 337.5,1821.5 412.5,1781 458.5,1866 463,1739 490,1739 468.5,1781 298.5,1884.5 446,1801 606,1654 454,1769.5 633.5,1642.5 475.5,1741 386.5,1821.5 575.5,1649 539.5,1766 502.5,1712 562.5,1706.5 508,1684 560,1634 469,1777 382,1840 569.5,1695.5 574,1615 501.5,1766 372.5,1795.5 488.5,1678 572.5,1700 466,1769.5 459,1851.5 408.5,1884.5 565,1777 583,1585.5 449.5,1785.5 422,1884.5 507.5,1712 671.5,1587 500,1830 365.5,1910.5 425,1790.5 584,1910.5 439.5,1830 340,1884.5 615.5,1649 450.5,1773 403.5,1777 561.5,1821.5 389.5,1910.5 579.5,1801 514,1665 464,1830 434,1851.5 437.5,1910.5 512.5,1807 519.5,1790.5 467.5,1741 414.5,1739 546,1753.5 462,1884.5 527.5,1751 433.5,1708 459.5,1769.5 455,1732.5 365.5,1773 479,1773 562,1736.5 407,1830 468,1801 428.5,1773 605.5,1682.5 501,1777 315,1840 535,1807 614.5,1588.5 587,1630.5 625,1698 554,1762.5 563.5,1657.5 349,1910.5 527.5,1562 628.5,1728.5 625.5,1694.5 488.5,1673 448,1751 619.5,1686 537,1801 437.5,1801 547,1746 513.5,1739 421,1753.5 443,1814 405.5,1955 432,1777 513,1910.5 563,1683.5 519,1569.5 498,1756.5 505,1730.5 484,1759.5 373.5,1851.5 486.5,1739 494,1955 575.5,1663 492,1807 478,1728.5 503.5,1716.5 490,1759.5 417.5,1955 440,1807 585.5,1698 489.5,1884.5 413.5,1718 520.5,1705 461.5,1781 518.5,1821.5 525.5,1704 493.5,1684 644,1688 511,1756.5 481.5,1840 547,1679.5 555,1710.5 471.5,1759.5 402,1821.5 446,1777 400.5,1769.5 460,1762.5 443,1790.5 358,1866 434.5,1670 544,1709.5 551.5,1679 517.5,1910.5 519.5,1785.5 552.5,1609.5 606.5,1716.5 551,1785.5 423.5,1685 616,1587.5 575.5,1575.5 417,1814 386.5,1840 451.5,1955 635,1660 408.5,1814 326,1866 497,1759.5 537,1785.5 560.5,1663.5 347.5,1866 512.5,1564 509.5,1741 387.5,1910.5 455.5,1701.5 568,1621 411,1756.5 535.5,1680.5 463.5,1695.5 534,1736.5 634,1690 444,1790.5 441,1955 500.5,1718 408.5,1866 460,1955 577.5,1830 449,1743.5 545,1695.5 541,1728.5 271,1910.5 358,1910.5 508,1688 578,1698 498.5,1734.5 489.5,1773 422.5,1718 505,1830 478.5,1621 579.5,1739 611,1618 524,1751 358.5,1814 569,1678 485,1830 625,1686 303,1866 579,1713.5 452.5,1692 423.5,1821.5 481,1773 418.5,1781 478.5,1712 445.5,1814 471,1667 426,1801 422.5,1753.5 646.5,1576 552,1753.5 472.5,1781 403.5,1795.5 550.5,1773 580,1657 464,1743.5 463.5,1664 476.5,1743.5 515.5,1766 516,1884.5 483,1617.5 564.5,1721.5 544.5,1693.5 480,1766 605,1720 569,1655 642.5,1617 468.5,1721.5 628,1588 491,1628.5 335,1884.5 502,1830 366.5,1840 556,1621.5 437.5,1807 479.5,1830 602,1654.5 492,1751 482,1694.5 550.5,1636 489.5,1751 413.5,1866 461,1766 376,1851.5 450,1910.5 486,1715 472,1609 473.5,1830 348,1955 504.5,1746 557,1652 472,1709.5 432.5,1734.5 574.5,1686 428.5,1777 565.5,1681.5 417.5,1725 423,1769.5 437,1721.5 583.5,1736.5 597.5,1718 391,1785.5 553,1785.5 574.5,1702.5 364.5,1955 466,1830 437,1801 612,1884.5 435,1705 343.5,1814 413,1814 549,1773 416.5,1851.5 577.5,1675.5 528,1710.5 568,1766 439.5,1814 537.5,1685 451.5,1732.5 479.5,1746 466.5,1728.5 544.5,1762.5 471.5,1790.5 640.5,1652 399,1955 499.5,1773 536.5,1688 662,1602.5 509,1671.5 584,1746 557,1777 518.5,1667 411,1807 415.5,1910.5 493.5,1635.5 378.5,1866 411,1807 566,1657.5 601.5,1851.5 370,1741 498.5,1730.5 645,1650 485,1746 484.5,1790.5 574.5,1720 590.5,1652 447.5,1769.5 604.5,1725 471,1821.5 562,1728.5 532,1699 388.5,1955 541.5,1706.5 466,1773 462,1801 455.5,1728.5 500.5,1736.5 433,1773 445.5,1840 450.5,1734.5 579.5,1634 490,1720 427.5,1781 622.5,1730.5 518.5,1679.5 461,1715 419,1821.5 472.5,1851.5 604.5,1721.5 451,1830 434.5,1753.5 303.5,1790.5 560.5,1682.5 586,1708 554.5,1632 411,1851.5 525,1795.5 529.5,1608 337.5,1910.5 335.5,1884.5 467,1708 474,1807 646,1641 417,1769.5 530,1866 519.5,1688 466,1743.5 409,1777 530.5,1698 514,1698 424.5,1695.5 574.5,1734.5 428.5,1790.5 609.5,1583 454,1866 516,1657.5 607.5,1655.5 589.5,1710.5 524,1685 588,1769.5 442.5,1746 411,1759.5 444,1751 474.5,1756.5 657.5,1573.5 316,1821.5 566,1734.5 435.5,1741 556.5,1614.5 604,1673 461.5,1807 532,1725 606.5,1642 481.5,1807 401.5,1814 489,1807 559.5,1821.5 487,1732.5 428.5,1769.5 602,1746 472,1777 391.5,1821.5 446.5,1814 409.5,1759.5 499,1704 522,1781 461,1725 486,1955 602.5,1642.5 511.5,1746 499.5,1739 548.5,1643 416,1955 448,1766 394.5,1748.5 526,1633.5 567.5,1604.5 545,1679 549,1687 401,1736.5 480,1785.5 614,1648.5 656,1578.5 630,1753.5 550.5,1688 656,1628 451.5,1840 375,1851.5 392,1884.5 548.5,1801 478.5,1766 461.5,1840 547.5,1657 496.5,1746 546.5,1851.5 628,1669 513.5,1725 343,1910.5 539.5,1688 564.5,1667.5 603.5,1591 537,1667 538,1741 523,1701.5 583.5,1601 629.5,1666 355.5,1734.5 488.5,1830 543,1715 429,1766 562.5,1649.5 558.5,1830 552,1617.5 552,1712 506.5,1732.5 492.5,1716.5 511,1682.5 508.5,1685 527.5,1807 544.5,1688 458.5,1698 497,1691 360.5,1766 436,1743.5 496,1713.5 424,1830 510,1639.5 618,1643 337,1910.5 472,1751 453.5,1814 394.5,1884.5 439,1807 574.5,1679.5 634.5,1688 489,1840 494,1684 425,1781 400.5,1955 463,1955 464,1769.5 547.5,1723 657.5,1684 464,1762.5 463,1705 580,1645.5 400.5,1830 677.5,1574.5 570,1715 530,1955 542.5,1669 545.5,1725 476.5,1708 514,1830 562,1748.5 660,1626.5 416.5,1955 461,1884.5 501,1634 435.5,1743.5 532.5,1730.5 412,1821.5 485,1910.5 523,1677 468.5,1718 527,1651.5 410.5,1830 516.5,1732.5 610.5,1686 568,1769.5 678.5,1565 371.5,1851.5 512,1691 505,1790.5 678.5,1641 567.5,1691 428.5,1705 526.5,1790.5 432,1705 455.5,1807 468.5,1759.5 484.5,1830 360.5,1884.5 578.5,1677 389.5,1884.5 362.5,1955 533.5,1851.5 510.5,1840 678.5,1660 458.5,1851.5 504,1807 476.5,1790.5 558,1704 399.5,1781 496,1840 569.5,1732.5 677.5,1605 592,1686 404.5,1910.5 448,1746 580,1653 311,1884.5 422,1781 544.5,1706.5 510.5,1773 481,1762.5 417.5,1723 374.5,1807 355.5,1781 593.5,1751 362,1653 454,1807 417.5,1884.5 476.5,1706.5 411.5,1955 487,1866 562.5,1732.5 375,1785.5 473,1821.5 425,1795.5 406,1814 305.5,1830 331,1840 473.5,1866 454,1766 584,1748.5 566.5,1743.5 363.5,1766 562.5,1715 417,1851.5 470,1748.5 481,1634.5 606,1599.5 547.5,1692 416,1821.5 512,1685 584.5,1734.5 388,1866 448,1723 605,1559 530,1721.5 506.5,1696.5 459.5,1773 367,1830 638,1670 505.5,1790.5 420.5,1866 570,1756.5 421,1790.5 621,1625 521,1773 515,1622 384.5,1801 599,1690 546.5,1672 463,1790.5 509,1801 485.5,1689 376.5,1762.5 525.5,1840 456,1840 567.5,1665.5 552,1830 502,1769.5 498.5,1698 489,1910.5 475.5,1821.5 418.5,1840 438.5,1683.5 465.5,1910.5 634,1620 398.5,1790.5 442,1781 510.5,1614.5 555,1688 485.5,1866 439,1884.5 395.5,1667 469,1713.5 542,1781 517,1736.5 648.5,1781 533,1704 550.5,1675.5 495.5,1748.5 593.5,1689 527,1753.5 328,1910.5 410,1955 465,1790.5 454.5,1830 514.5,1691 417,1801 559.5,1727 482.5,1721.5 294.5,1866 352.5,1830 565,1608.5 508,1705 633,1607.5 367.5,1851.5 646,1619.5 649,1624.5 560.5,1621 574.5,1655 526.5,1756.5 495.5,1712 370.5,1814 605,1691 597,1655 474.5,1866 569,1632 382,1884.5 489.5,1751 558,1644 360,1955 447,1739 314.5,1884.5 447.5,1759.5 355,1866 497.5,1910.5 511.5,1840 426.5,1910.5 432,1851.5 406,1866 477.5,1866 485.5,1766 586.5,1721.5 471.5,1910.5 495,1672 535,1751 387,1884.5 316,1821.5 488.5,1840 485,1706.5 594.5,1701.5 410,1955 421.5,1830 421,1866 528.5,1656.5 454.5,1723 517,1769.5 598,1698 449,1955 378,1851.5 381.5,1884.5 469.5,1769.5 462.5,1769.5 549.5,1676 591,1753.5 404.5,1910.5 463.5,1866 557,1692 508,1695.5 653.5,1801 487.5,1762.5 556.5,1743.5 354,1955 593.5,1801 626,1727 510.5,1840 371.5,1840 369.5,1910.5 546.5,1660 510,1751 480.5,1840 480.5,1814 460,1785.5 525,1718 590.5,1639.5 567.5,1664 532,1718 446.5,1807 456,1884.5 501,1686 566,1712 477,1718 549.5,1727 524.5,1713.5 467.5,1785.5 452,1773 556.5,1743.5 540,1653.5 489,1741 503.5,1748.5 370.5,1795.5 432,1766 450.5,1851.5 578.5,1687 470,1769.5 483.5,1781 183.5,1884.5 578,1665.5 483,1753.5 483,1710.5 488.5,1756.5 485,1759.5 476,1766 564.5,1756.5 453.5,1773 533.5,1734.5 493.5,1781 457.5,1807 488,1851.5 545.5,1674 525,1762.5 587.5,1730.5 371.5,1777 503.5,1762.5 584.5,1635 363.5,1821.5 412.5,1866 589,1699 467,1807 555,1650 469,1790.5 511.5,1762.5 493,1710.5 472.5,1645.5 497.5,1623 435.5,1840 449,1773 552.5,1756.5 473,1795.5 565.5,1720 404.5,1840 620,1649 615,1661.5 484,1741 517,1685 336.5,1955 400.5,1884.5 466,1781 563,1814 488,1955 620,1683.5 477.5,1590.5 473.5,1814 587.5,1718 488,1720 512.5,1790.5 573.5,1801 434,1910.5 651,1643.5 538,1727 444.5,1955 398.5,1739 473.5,1741 634.5,1777 490.5,1795.5 465.5,1766 427,1766 568,1655.5 443.5,1814 396.5,1955 591,1635 532.5,1603.5 641.5,1665 493,1759.5 620.5,1751 480.5,1801 491.5,1795.5 498,1736.5 342,1721.5 559,1673 539,1743.5 422,1713.5 496,1766 467,1704 375.5,1866 557,1681.5 455.5,1701.5 441,1723 438.5,1694.5 435,1785.5 395,1884.5 597.5,1734.5 502,1699 493.5,1830 263,1910.5 627.5,1736.5 555,1708 375.5,1910.5 475,1718 392,1785.5 564.5,1746 444.5,1777 575.5,1751 521.5,1743.5 536,1739 385,1955 429.5,1814 466.5,1769.5 461,1795.5 381,1759.5 578.5,1704 473,1639 523.5,1720 435.5,1734.5 448,1766 502.5,1607.5 434.5,1814 540,1635.5 430.5,1851.5 453,1790.5 485,1840 442,1866 425.5,1955 535,1866 633.5,1574.5 460,1840 474.5,1781 540.5,1795.5 436.5,1713.5 485,1708 556.5,1701.5 480.5,1866 643.5,1679.5 486.5,1739 559.5,1716.5 469,1756.5 632,1695.5 473,1866 494.5,1814 544,1651 321.5,1910.5 532.5,1781 539,1781 470,1769.5 552,1613 302.5,1910.5 632,1710.5 545.5,1715 286.5,1910.5 295,1910.5 539,1680.5 607,1622 674,1616.5 455.5,1689 344,1955 434.5,1785.5 471,1773 500.5,1718 413.5,1821.5 441,1691 505,1753.5 479,1795.5 457,1683.5 526,1736.5 607.5,1624.5 416,1851.5 687,1807 400.5,1762.5 428,1866 458.5,1741 588.5,1631 551.5,1640.5 397,1840 341,1910.5 555,1756.5 498,1669 558.5,1659.5 503,1790.5 591.5,1710.5 557.5,1661 572,1684 456.5,1851.5 550,1708 433,1807 594,1670.5 410.5,1830 530,1773 444.5,1689 413.5,1955 532.5,1684 574,1655 516,1556.5 504.5,1748.5 412,1955 523.5,1639.5 501,1777 584,1654 389,1884.5 482,1777 469.5,1781 393,1866 475,1753.5 397,1807 555,1600 466,1955 479.5,1866 422,1769.5 516.5,1698 408,1851.5 455.5,1821.5 531,1705 529.5,1710.5 391.5,1955 457.5,1910.5 457.5,1720 589.5,1562.5 603,1741 419,1851.5 537,1682.5 401,1866 648,1616.5 506,1715 489,1801 518,1646 631,1679 523.5,1704 390.5,1830 519.5,1676 477,1785.5 600,1657 532,1777 522,1687 545,1701.5 444.5,1773 520.5,1807 516,1708 341.5,1910.5 374.5,1677 600,1654.5 576.5,1674 392.5,1801 562.5,1766 499,1748.5 421,1687 532.5,1736.5 523.5,1756.5 499.5,1728.5 392,1785.5 468.5,1756.5 498,1762.5 492,1727 514.5,1795.5 437.5,1830 645.5,1715 431.5,1851.5 611.5,1686 366,1851.5 608.5,1584 477.5,1821.5 344.5,1955 360.5,1814 543.5,1593.5 431,1785.5 585,1694.5 571,1840 605.5,1814 617.5,1615.5 668,1691 661,1727 532.5,1790.5 561,1705 600,1679.5 451.5,1781 411,1777 529.5,1759.5 515,1689 481.5,1654.5 586,1634.5 456.5,1746 618.5,1629.5 352.5,1756.5 549,1777 451.5,1777 584,1790.5 529.5,1712 512.5,1821.5 445,1781 430,1741 442.5,1814 460.5,1746 597,1570.5 523.5,1634 505.5,1821.5 492,1739 576.5,1677 446,1910.5 516,1741 312.5,1884.5 510,1866 550,1781 421,1851.5 489,1690 409,1910.5 423.5,1777 422,1830 480,1790.5 680,1603.5 522,1751 283.5,1910.5 502.5,1713.5 415,1830 631.5,1753.5 434,1840 408,1762.5 435.5,1769.5 444,1821.5 482.5,1753.5 538,1741 561.5,1698 548.5,1736.5 536.5,1727 622,1685 527.5,1727 461.5,1743.5 398,1955 471.5,1790.5 527,1689 481,1821.5 586.5,1720 590.5,1590 488,1736.5 598.5,1605 575.5,1721.5 521.5,1751 592,1734.5 556,1910.5 545.5,1616.5 302.5,1564 603,1577 470,1785.5 442.5,1821.5 624,1636.5 519,1730.5 402.5,1821.5 558.5,1736.5 531,1691 479.5,1866 524,1830 508.5,1785.5 444.5,1851.5 486.5,1777 439.5,1748.5 466,1741 534,1762.5 560,1705 442,1578.5 343,1884.5 500,1728.5 604.5,1661 472.5,1814 419.5,1955 402,1795.5 458.5,1910.5 419.5,1785.5 514,1693.5 460.5,1753.5 540,1739 585.5,1741 561.5,1741 581.5,1689 476.5,1790.5 619.5,1603.5 571.5,1716.5 377,1866 504.5,1743.5 474,1795.5 466,1795.5 555.5,1683.5 534.5,1756.5 458.5,1840 534,1748.5 433,1807 554.5,1736.5 461,1801 461.5,1807 525.5,1686 610.5,1628.5 426,1785.5 379.5,1830 456.5,1759.5 471.5,1684 458,1781 485,1866 548,1687 637.5,1650.5 381,1955 552,1712 469.5,1785.5 624.5,1674.5 416,1821.5 476.5,1748.5 550.5,1884.5 590.5,1730.5 480.5,1759.5 372,1781 661.5,1732.5 506.5,1725 509,1769.5 501.5,1713.5 539.5,1657 499.5,1691 611.5,1746 473,1807 393,1821.5 499.5,1795.5 476,1766 564.5,1706.5 391.5,1830 304,1955 368.5,1759.5 597.5,1657.5 599,1821.5 486,1785.5 516.5,1801 434.5,1748.5 545.5,1696.5 508,1781 472,1840 444,1753.5 541,1700 510,1762.5 473,1748.5 369,1866 553,1807 406,1955 430.5,1759.5 466.5,1866 433.5,1814 519.5,1741 579,1730.5 547.5,1759.5 599.5,1682.5 476,1762.5 476.5,1840 573,1663 500,1762.5 551,1683.5 560,1814 511,1681.5 537.5,1781 382.5,1840 684.5,1608.5 462,1814 353.5,1840 567,1773 513.5,1795.5 440,1840 404.5,1840 610.5,1640 530.5,1762.5 450,1830 381,1955 519,1723 662,1640.5 478.5,1884.5 499.5,1746 421.5,1866 415,1866 452.5,1777 495.5,1777 497.5,1756.5 529.5,1700 557.5,1622.5 452.5,1851.5 288.5,1866 506,1769.5 478.5,1814 437.5,1814 595.5,1713.5 457.5,1851.5 447,1814 618.5,1624.5 370,1814 512,1620.5 507.5,1716.5 523,1629 340.5,1851.5 566,1632.5 491,1830 653,1596.5 480,1762.5 398.5,1851.5 555,1759.5 591,1691 455,1751 494.5,1781 506.5,1721.5 557,1814 507.5,1704 602,1723 525,1709.5 432.5,1801 489,1781 490.5,1785.5 584.5,1657.5 523.5,1756.5 426.5,1713.5 569.5,1777 488.5,1715 554,1781 435.5,1866 481.5,1785.5 457.5,1801 538,1712 393,1851.5 514,1644 491,1720 584,1688 535.5,1746 621.5,1587 574.5,1739 623.5,1657 521.5,1766 460,1766 334.5,1955 667,1591.5 610.5,1640 350.5,1830 402,1910.5 558,1685 553.5,1746 481.5,1785.5 541,1716.5 511.5,1644.5 485,1773 516.5,1910.5 561,1644 466,1830 389.5,1840 511,1753.5 584.5,1709.5 427.5,1884.5 528.5,1753.5 523.5,1653.5 530,1713.5 506.5,1699 652,1632.5 428,1884.5 415.5,1773 436.5,1884.5 382,1728.5 505.5,1795.5 411.5,1955 657,1584 484.5,1713.5 319.5,1851.5 586.5,1664 605.5,1769.5 357.5,1781 291.5,1830 620,1625.5 511.5,1777 440,1777 368.5,1955 589,1674.5 610,1684 383.5,1851.5 581.5,1716.5 337.5,1830 513,1807 450.5,1851.5 513.5,1769.5 447.5,1910.5 467,1781 443,1795.5 432,1795.5 479.5,1807 590,1593 480.5,1721.5 475.5,1732.5 561.5,1704 545.5,1807 545,1591 518.5,1790.5 428,1790.5 451,1730.5 542,1736.5 526,1718 570.5,1663 538,1753.5 564,1606.5 560.5,1715 534.5,1734.5 497,1720 507,1721.5 434,1773 400.5,1840 608,1633.5 386.5,1866 464,1795.5 458.5,1884.5 478.5,1753.5 497.5,1748.5 362.5,1840 630,1682.5 673,1621.5 579,1679.5 391,1866 662.5,1615.5 515.5,1667 530.5,1751 403,1830 435.5,1777 496,1651 332,1866 412,1851.5 567.5,1715 502,1670.5 509.5,1769.5 386,1821.5 397,1773 479,1807 560,1671.5 431,1830 507,1795.5 397,1866 403.5,1955 429.5,1866 591,1620.5 518.5,1807 438,1955 312.5,1910.5 423,1773 455.5,1807 522,1801 481.5,1613 399,1807 549.5,1746 474.5,1840 479.5,1705 491.5,1748.5 552.5,1710.5 481,1720 550.5,1666 499.5,1790.5 553,1756.5 563,1631.5 515.5,1645 419,1795.5 419,1840 328,1955 473,1769.5 425.5,1795.5 533,1748.5 390.5,1884.5 624.5,1669 443,1706.5 389,1851.5 430.5,1762.5 570.5,1674.5 392,1955 504.5,1955 448.5,1773 410.5,1884.5 510.5,1626 679.5,1709.5 520,1691 513.5,1866 510.5,1769.5 387,1821.5 463,1701.5 547.5,1664 478.5,1732.5 617,1689 456,1781 412,1840 393.5,1851.5 691,1608 621,1644 484,1721.5 554,1814 615,1604.5 514.5,1777 558,1653.5 401.5,1910.5 365,1766 553,1691 442,1955 601,1655 442,1732.5 608.5,1611.5 454,1851.5 475.5,1766 489,1840 595,1674 468.5,1583.5 504.5,1706.5 468,1657.5 450.5,1790.5 410.5,1790.5 443,1955 386.5,1790.5 503,1781 402,1821.5 412.5,1955 452.5,1955 470.5,1715 540,1651 481,1785.5 325.5,1683.5 577.5,1687 327.5,1851.5 441,1830 582,1671.5 335.5,1884.5 377,1801 463.5,1769.5 511,1766 555.5,1649.5 496,1720 588.5,1601 375,1866 616.5,1623 461.5,1708 504,1773 533,1756.5 322,1851.5 590,1658 425.5,1851.5 547,1732.5 510.5,1769.5 525.5,1692 420.5,1769.5 476.5,1910.5 558,1706.5 543.5,1730.5 442,1840 572.5,1626.5 523,1840 427,1795.5 563,1716.5 583.5,1649.5 454.5,1801 385.5,1910.5 577.5,1718 429.5,1785.5 473,1759.5 576.5,1769.5 526.5,1667.5 646,1667 475.5,1692 450.5,1712 545.5,1785.5 586,1746 528,1728.5 519.5,1910.5 545.5,1716.5 569,1785.5 455,1801 502.5,1718 450,1759.5 504.5,1795.5 539,1692 428.5,1732.5 456.5,1773 498,1699 528,1840 559,1704 516.5,1614 423.5,1851.5 468,1910.5 502,1756.5 589.5,1641.5 511,1702.5 531,1801 523,1699 453,1851.5 418,1814 609.5,1840 533.5,1688 491.5,1762.5 502.5,1801 563,1716.5 516,1773 445,1712 528,1632 543.5,1668.5 472,1851.5 401.5,1766 508,1730.5 517.5,1790.5 308,1884.5 487.5,1830 467.5,1830 407,1773 281.5,1910.5 518,1602.5 459,1756.5 532,1741 548.5,1743.5 436.5,1830 292,1821.5 538,1736.5 418,1814 471.5,1777 496,1678 409.5,1781 579,1694.5 585,1718 386,1795.5 406,1795.5 494,1830 560,1216.5 684,1283.5 672,1332.5 484,1357.5 599.5,1377 607,1391.5 578,1414 645,1418 614.5,1434.5 672,1440.5 553,1444 657,1458.5 686,1466 496,1466 533.5,1470.5 515.5,1478 607.5,1485.5 608,1490.5 643,1488.5 572.5,1495 532,1499 677,1497.5 690.5,1497.5 624.5,1504.5 624.5,1511 645,1507.5 646,1511 575,1506.5 493,1516.5 538,1517.5 554.5,1516.5 568.5,1515 576,1520.5 639,1516.5 645.5,1523.5 657.5,1525 672.5,1524.5 678.5,1520 686,1520 566.5,1531.5 484.5,1533.5 612,1532 631.5,1531 632.5,1538.5 654.5,1535 663,1535 673.5,1537 682,1540 696,1534 534,1539.5 450,1542 693.5,1311.5 873.5,1313.5 908,1353.5 761.5,1366.5 758,1380 770,1425.5 734,1442 766.5,1447 776.5,1450.5 831.5,1444.5 743.5,1463.5 746,1472 846.5,1482 752.5,1492.5 759.5,1490.5 799.5,1494.5 910.5,1497.5 921,1508 852,1509 726.5,1511 710,1514 754,1520.5 703.5,1522.5 727,1524.5 732.5,1526.5 909.5,1525.5 901.5,1536.5 827,1542.5 752.5,1538 653.5,1541 709,1543 721,1541 685.5,1546.5 711.5,1553 674,1554.5 741,1575.5 805,1577.5 841,1574.5 870,1586 755.5,1585 760,1592.5 767,1598.5 790,1591.5 797.5,1606 843.5,1609 789.5,1614.5 733,1606.5 741.5,1608 753,1616 718.5,1616 729.5,1628.5 738,1632 747.5,1632 737,1639 746.5,1638.5 749,1637.5 709,1628 718,1642 701,1647.5 763,1652.5 799.5,1659.5 833,1652 841.5,1657.5 858.5,1667.5 782.5,1704.5 724.5,1716 730.5,1749 710.5,1666 718,1666 717,1675 694,1694 713,1694 717,1697.5 696.5,1747 693.5,1751.5 693,1755 671,1760 668,1774 679.5,1782 657,1786.5 678,1802 664.5,1822.5 661,1841 650,1867.5 374.5,1577.5 244,1705 369.5,1628 197.5,1786.5 235,1774"/>
<path class="axl" d="M176 1111.2V2006.2M167 1998.2H1160.4M167 1850.5H176M339.9 1998.2V2006.2M167 1702.8H176M503.9 1998.2V2006.2M167 1555.1H176M667.8 1998.2V2006.2M167 1407.4H176M831.7 1998.2V2006.2M167 1259.7H176M995.7 1998.2V2006.2M167 1112H176M1159.6 1998.2V2006.2"/>
<text class="t" x="147.7" y="2007" text-anchor="end" textLength="84" lengthAdjust="spacingAndGlyphs">1.0E-06</text>
<text class="t" x="175.7" y="2043.7" text-anchor="middle" textLength="84" lengthAdjust="spacingAndGlyphs">1.0E-06</text>
<text class="t" x="147.7" y="1859.3" text-anchor="end" textLength="84" lengthAdjust="spacingAndGlyphs">1.0E-05</text>
<text class="t" x="339.6" y="2043.7" text-anchor="middle" textLength="84" lengthAdjust="spacingAndGlyphs">1.0E-05</text>
<text class="t" x="147.7" y="1711.6" text-anchor="end" textLength="84" lengthAdjust="spacingAndGlyphs">1.0E-04</text>
<text class="t" x="503.6" y="2043.7" text-anchor="middle" textLength="84" lengthAdjust="spacingAndGlyphs">1.0E-04</text>
<text class="t" x="147.7" y="1563.9" text-anchor="end" textLength="84" lengthAdjust="spacingAndGlyphs">1.0E-03</text>
<text class="t" x="667.5" y="2043.7" text-anchor="middle" textLength="84" lengthAdjust="spacingAndGlyphs">1.0E-03</text>
<text class="t" x="147.7" y="1416.2" text-anchor="end" textLength="84" lengthAdjust="spacingAndGlyphs">1.0E-02</text>
<text class="t" x="831.4" y="2043.7" text-anchor="middle" textLength="84" lengthAdjust="spacingAndGlyphs">1.0E-02</text>
<text class="t" x="147.7" y="1268.5" text-anchor="end" textLength="84" lengthAdjust="spacingAndGlyphs">1.0E-01</text>
<text class="t" x="995.4" y="2043.7" text-anchor="middle" textLength="84" lengthAdjust="spacingAndGlyphs">1.0E-01</text>
<text class="t" x="147.7" y="1120.8" text-anchor="end" textLength="90" lengthAdjust="spacingAndGlyphs">1.0E+00</text>
<text class="t" x="1159.3" y="2043.7" text-anchor="middle" textLength="90" lengthAdjust="spacingAndGlyphs">1.0E+00</text>
<text class="g" x="514.6" y="1197" textLength="86.8" lengthAdjust="spacingAndGlyphs">hspA</text>
<text class="g" x="620" y="1266.4" textLength="100.4" lengthAdjust="spacingAndGlyphs">groEL</text>
<text class="g" x="712.2" y="1313.9" textLength="92.1" lengthAdjust="spacingAndGlyphs">dnaK</text>
<text class="n" x="885.1" y="1318.7" textLength="114.5" lengthAdjust="spacingAndGlyphs">A2813</text>
<text class="n" x="389.2" y="1348.7" textLength="114.5" lengthAdjust="spacingAndGlyphs">A1671</text>
<text class="g" x="529.1" y="1362.6" textLength="102" lengthAdjust="spacingAndGlyphs">groES</text>
<text class="n" x="687.4" y="1351" textLength="114" lengthAdjust="spacingAndGlyphs">A0793</text>
<text class="g" x="765.7" y="1374.6" textLength="125.4" lengthAdjust="spacingAndGlyphs">psbA-II</text>
<text class="g" x="918.8" y="1367.4" textLength="106.1" lengthAdjust="spacingAndGlyphs">psbA/</text>
<text class="g" x="462.3" y="1415.7" textLength="95.7" lengthAdjust="spacingAndGlyphs">clpB1</text>
<text class="g" x="597.3" y="1417.5" textLength="137.1" lengthAdjust="spacingAndGlyphs">groEL-II</text>
<text class="g" x="756.8" y="1414.4" textLength="87.3" lengthAdjust="spacingAndGlyphs">sodB</text>
<text class="n" x="914" y="1421.7" textLength="115" lengthAdjust="spacingAndGlyphs">A1418</text>
<text class="g" x="430.7" y="1448.2" textLength="97.2" lengthAdjust="spacingAndGlyphs">degQ</text>
<text class="n" x="352.4" y="1488" textLength="114" lengthAdjust="spacingAndGlyphs">A1831</text>
<text class="g" x="820" y="1475.9" textLength="86.1" lengthAdjust="spacingAndGlyphs">apcB</text>
<text class="g" x="903.1" y="1491.6" textLength="86.8" lengthAdjust="spacingAndGlyphs">psaB</text>
<text class="g" x="942.9" y="1520.5" textLength="83.2" lengthAdjust="spacingAndGlyphs">cpcA</text>
<text class="g" x="346.5" y="1544.6" textLength="79.6" lengthAdjust="spacingAndGlyphs">nblA</text>
<text class="g" x="803.1" y="1538.6" textLength="88" lengthAdjust="spacingAndGlyphs">apcA</text>
<text class="g" x="927.2" y="1544.6" textLength="86.8" lengthAdjust="spacingAndGlyphs">psaA</text>
<text class="n" x="236.8" y="1584.9" textLength="114.5" lengthAdjust="spacingAndGlyphs">A2397</text>
<text class="g" x="880.2" y="1573.5" textLength="82.7" lengthAdjust="spacingAndGlyphs">cpcB</text>
<text class="g" x="887.5" y="1601.3" textLength="86.8" lengthAdjust="spacingAndGlyphs">psbT</text>
<text class="g" x="777.8" y="1643.2" textLength="86.3" lengthAdjust="spacingAndGlyphs">psaC</text>
<text class="g" x="778.7" y="1643.2" textLength="86.3" lengthAdjust="spacingAndGlyphs">psaC</text>
<text class="n" x="862.9" y="1635.2" textLength="114.3" lengthAdjust="spacingAndGlyphs">A2804</text>
<text class="n" x="860.2" y="1665.6" textLength="115.2" lengthAdjust="spacingAndGlyphs">A2579</text>
<text class="g" x="842.4" y="1702.2" textLength="83.7" lengthAdjust="spacingAndGlyphs">psaF</text>
<text class="n" x="764.5" y="1745.6" textLength="115.7" lengthAdjust="spacingAndGlyphs">A1490</text>
<text class="g" x="726.7" y="1781.3" textLength="89.7" lengthAdjust="spacingAndGlyphs">psaD</text>
<text class="ax" x="302" y="2107" textLength="758.5" lengthAdjust="spacingAndGlyphs">Relative transcript abundance (standard)</text>
<text class="ax" transform="translate(39 1948) rotate(-90)" textLength="793" lengthAdjust="spacingAndGlyphs">Relative transcript abundance (heat shock)</text>
<text class="pl" x="12.8" y="1072.4" textLength="30" lengthAdjust="spacingAndGlyphs">C</text>
</g>
<g id="panelD">
<path class="dg" d="M1462.8 1946.9L2389.4 1114.2"/>
<path class="dg" d="M1522.2 2000.2L2448.8 1167.5"/>
<path class="pts" d="M1670.5,1862.5 1888,1611 2040.5,1516 1932,1570.5 1939,1572.5 1891,1646.5 1799.5,1672.5 1933,1562 2009,1502 1803.5,1781 1954,1524.5 1831,1617.5 1798.5,1717 1953,1571.5 1837,1670.5 1965.5,1576 1896.5,1585 1668,1915.5 1922,1586.5 1598,1831 1807,1687 1867.5,1673.5 1897.5,1598 1865,1649.5 1865.5,1592.5 1794.5,1703.5 1933,1571.5 1889,1619.5 1833,1653.5 1677.5,1862.5 1939,1586.5 1884,1712.5 1925.5,1625 1965.5,1563 1950,1563 1878,1653.5 1667,1969 1923.5,1551 1740.5,1795.5 1853.5,1658.5 1856,1657 1961.5,1561.5 1907.5,1607.5 1840,1694.5 1860.5,1684 1930.5,1585 1751,1872.5 2037,1505.5 1801.5,1708.5 1793.5,1683 1782.5,1714 2057.5,1444 1781.5,1763 1879,1638 1531,1819 1960,1550.5 1837,1684 1841,1658.5 1597.5,1915.5 1900.5,1610.5 1935.5,1563 1952,1548.5 1900,1597.5 1787.5,1726 1885.5,1600 1751.5,1800 1790.5,1744.5 1886,1620 1873.5,1639.5 1852.5,1695.5 1809,1687 1755.5,1755.5 1816,1731 1870,1609 1812,1740.5 1877.5,1602 1840,1640 1838,1660 1876,1633.5 1768,1736.5 1797,1809 1769.5,1717 2025.5,1475.5 1913,1639.5 1892,1594 1671.5,1800 1819.5,1701 1801.5,1774.5 1880,1622.5 1808,1738.5 1926.5,1576.5 1845.5,1654 1883.5,1667 1831,1674.5 1856.5,1633.5 1737.5,1763 1714.5,1755.5 1895.5,1636.5 1786,1726 1804,1694.5 1594.5,1872.5 1958,1540.5 1810,1676 1778,1701 1937.5,1643 1820.5,1630 1894,1610 2028,1501 1781,1742.5 1998,1523.5 1828.5,1637.5 1911,1555.5 1842,1702.5 1970.5,1603 1891.5,1602 1894.5,1601 1699.5,1795.5 1867.5,1685 2027.5,1495 1676.5,1845 1968.5,1572 2009.5,1497.5 1877.5,1622 2007,1490 1941.5,1590 1805,1792 1977.5,1549.5 1801.5,1711 1658,1831 1858.5,1652.5 1764.5,1766 1656.5,1763 1842,1659 1803,1708.5 1893.5,1620 1882.5,1605 1874,1673.5 1893,1618 1882.5,1659 1817.5,1646.5 1707,1778 1780.5,1738.5 1838.5,1680.5 1932,1567.5 1782.5,1746.5 1904,1662 2061,1472.5 1913.5,1601 1842.5,1642.5 1946,1626.5 1901.5,1584.5 1628,1915.5 1822,1684 1861,1638.5 1764,1800 1801,1697.5 1951,1579.5 1843,1622.5 1895,1634.5 2028,1498 1768.5,1718.5 1620.5,1862.5 1552.5,1969 1558.5,1915.5 1926.5,1584 1903.5,1595 1730.5,1736.5 1984.5,1529 1918,1612 1915.5,1563.5 1906,1625.5 1676,1831 1878.5,1613 1856.5,1651 1937,1585 2051.5,1469.5 1802.5,1691 1908.5,1582 1914,1588.5 1913,1608.5 1759.5,1715.5 1644.5,1760.5 1883.5,1595.5 1847.5,1658.5 1932,1597.5 1781.5,1711 1877.5,1636 1881,1650 1819.5,1692 1678,1795.5 1821.5,1677 1968,1523.5 1828,1639.5 1834,1655 1968,1539 1921,1605 2055,1443.5 1894,1620.5 1809,1677 1938.5,1586.5 1792.5,1771.5 1834,1667 1835.5,1647 1821.5,1682.5 1728,1711 1924,1568.5 1885,1614.5 1939,1572 1831.5,1668 1742.5,1729.5 1802,1666.5 1785.5,1678 1980,1528 1698,1825 2033.5,1474.5 1739,1800 1668,1845 1869.5,1676 1831,1654 1988,1539.5 1657,1819 1916,1615 1919,1612.5 1774,1715.5 1891.5,1620 1940.5,1554 1787,1696.5 1890.5,1644.5 1753,1760.5 1878.5,1646.5 1940,1592.5 1948.5,1566 1909.5,1593 1911,1563 1905,1619 1945.5,1572.5 1911,1598.5 2051,1448 1780,1760.5 1947,1598.5 2060.5,1464 1832,1677 1874,1624.5 1678.5,1938 1970.5,1534 1757,1838 1842,1634.5 1854.5,1672.5 2057,1542.5 1969.5,1533.5 1993,1560.5 1824,1682.5 1836.5,1638.5 2021,1484.5 1823,1714 1862.5,1605.5 1832,1689 2039,1497 1828,1653.5 1885.5,1656 1846,1763 1819,1658.5 1727,1778 1867,1629 1853.5,1672.5 2024.5,1545.5 1893,1594 1999.5,1534 1895.5,1634.5 1920.5,1585.5 1973.5,1534.5 1986.5,1504 1840.5,1637.5 1924.5,1609 1812.5,1710 1941,1561.5 1868.5,1668.5 1843,1669.5 1887.5,1574 1529,1884.5 1916.5,1602 1757,1755.5 1568,1915.5 1778,1714 1885.5,1612.5 2047.5,1448.5 1987,1533.5 1920,1623.5 1767.5,1688 1921.5,1568.5 1912.5,1628.5 1891,1668 1940.5,1568 1924.5,1632 1966.5,1524 1860.5,1682.5 1643,1872.5 1786,1692 1854.5,1630 1752,1771.5 1871,1646.5 1808.5,1727.5 1757.5,1740.5 1734.5,1768.5 1804.5,1718.5 1905.5,1593 1963,1552 1977,1555 1963.5,1544 1862.5,1620 1964,1532 1902,1585.5 1928,1579.5 1841.5,1674.5 1776.5,1706 1869,1648.5 1605,1884.5 1787.5,1700 1834.5,1655 1876.5,1626.5 1757.5,1727.5 1917.5,1692 1697,1781 1700,1862.5 1918.5,1593 1965.5,1523 1860,1594 1994,1528 1867.5,1610 1893,1625 1656,1814 2014.5,1485.5 1762.5,1708.5 1881.5,1642.5 1951,1586.5 1944.5,1550.5 1868.5,1634 1958.5,1562 1824,1660.5 1993.5,1520.5 1937,1589 1782.5,1694.5 1952,1559.5 1893.5,1577 1975.5,1534 1998.5,1538 1947.5,1555.5 1910,1604 1936,1571 1814.5,1690 1828.5,1704.5 1926.5,1612.5 2007.5,1509.5 1793.5,1699 1682.5,1784.5 1841,1690 1862.5,1667 1933.5,1597.5 1697.5,1771.5 2037,1488.5 1888,1597 1711.5,1838 1820,1703.5 1897,1603.5 1704.5,1792 1813.5,1710 1856.5,1647 1583.5,1969 1878.5,1636 1980.5,1529.5 1694.5,1872.5 1833,1651.5 2011.5,1512 1779.5,1694.5 1771,1687 1790.5,1724.5 1980,1538.5 1755,1771.5 1955.5,1550.5 1914.5,1660 1885,1672 1969.5,1534 1936.5,1565 2031.5,1509 1653,1768.5 1904,1603.5 1604.5,1862.5 1980,1495 1861.5,1717 1906,1598 1625,1809 1801.5,1665 1846.5,1639.5 1845,1663.5 1977.5,1554 1646,1809 1926.5,1582 1893,1638.5 1750.5,1715.5 1783,1809 1856,1659 1919.5,1571.5 1960,1555 1891,1636.5 1989.5,1558 1813,1734.5 1943.5,1573.5 1604.5,1915.5 1860.5,1646.5 1852.5,1651.5 1865,1659 1931.5,1586.5 1792,1697.5 1957,1546.5 1631,1872.5 1776,1734.5 1873.5,1600 1891.5,1588 1957,1565.5 1983,1561 1685.5,1809 1838.5,1654 1815,1672 2019,1491.5 1657,1795.5 1835.5,1731 1775,1715.5 1834.5,1649 1865,1644.5 1882,1629.5 1884.5,1636 1946,1548 1905,1610 1903.5,1574.5 1884.5,1651 1924,1614.5 1891.5,1633.5 1855.5,1639 1843.5,1630 1612,1915.5 1843,1687 1799,1738.5 1842.5,1635 1837,1625 1769.5,1755.5 1838.5,1679.5 1779.5,1740.5 1809.5,1665 1604,1838 2027.5,1469.5 1814.5,1686 1692,1938 1794,1710 1733.5,1795.5 2017,1532.5 1824.5,1657 1845.5,1697.5 1814,1693 2010.5,1545.5 1823,1714 1838.5,1729.5 1794.5,1676 1840.5,1658 1918.5,1591 1871.5,1646.5 1808,1660 1730.5,1788 1780.5,1774.5 1742,1717 1710.5,1792 1974.5,1539 1574.5,1831 1877.5,1615.5 1724.5,1771.5 1898,1636 1849.5,1649 1868.5,1611.5 2052,1535 1777,1714 1888,1649 1772,1774.5 1862.5,1649.5 1898.5,1605 1792.5,1717 1862.5,1665 1816,1731 1845,1658 2032,1566.5 1742.5,1724.5 1831,1666.5 1853,1678.5 1746,1768.5 2062.5,1494.5 1879.5,1645 1994,1554.5 2016.5,1492.5 1767.5,1760.5 1777.5,1788 2002,1534.5 1935.5,1554.5 1892.5,1615 1951.5,1547 1875,1639.5 1850.5,1668.5 2043.5,1505.5 1948,1586.5 1772,1726 1805,1685 1823,1701 1688,1763 1960.5,1524.5 1951,1598.5 1951.5,1561.5 2023.5,1523.5 1708.5,1778 1828.5,1683 1950,1559 1943.5,1552 1893.5,1597 1648.5,1825 1854,1658.5 1773.5,1819 1857,1652 2021.5,1545 1836.5,1663.5 1738,1760.5 1753,1778 1824,1665 1778.5,1704.5 1993,1575.5 1827,1652 1848,1657 1958.5,1565.5 1843.5,1689 1796.5,1792 1949,1588.5 1878,1662.5 1761,1738.5 1827.5,1674.5 1813,1660.5 1852,1664 1739.5,1733 1732,1748.5 1822.5,1690 1867,1628.5 1908.5,1629 1991.5,1560 1955,1575 1973.5,1552.5 1567,1862.5 1948,1513.5 1893.5,1645 1995,1493.5 1666,1788 1743.5,1804.5 1788.5,1682.5 1798,1751 1907,1612.5 1948.5,1540 1815.5,1689 1865.5,1647 1912,1597.5 1922,1604 1752,1740.5 1878.5,1595 1904.5,1665 1871.5,1647.5 1973.5,1574 1989,1515 1510,1969 1907.5,1608 1904,1597.5 1806.5,1680.5 1881.5,1646 1835,1665 1787,1724.5 1849,1642.5 1962.5,1559.5 1926,1598.5 1817.5,1699 2029,1581.5 1743.5,1753.5 1888.5,1674.5 1919,1584.5 1892,1596 1869,1718.5 1759,1771.5 1928.5,1596 1816.5,1656 1956,1541.5 1805,1711 1777,1718.5 1872.5,1624.5 1965.5,1517 1889,1598.5 2012,1524.5 1918,1604 1917.5,1638.5 1925.5,1596.5 1801,1661.5 1985.5,1559.5 1728.5,1792 1810.5,1707.5 1828,1682.5 1893.5,1664 1897.5,1632.5 1962,1551.5 1753.5,1778 2034,1495.5 1742,1736.5 1843,1677 1872.5,1654.5 2012,1489 1990.5,1517.5 1532.5,1915.5 2027,1521.5 1962,1551 1929,1570 1825,1702.5 1793,1659 1982.5,1536.5 1745,1819 1662,1800 1874.5,1615.5 1921.5,1635 1692.5,1795.5 1916,1639 1983.5,1626.5 1819.5,1690 1992,1487.5 1856,1641 1908.5,1596.5 2007,1502.5 1816,1699 1876.5,1690 1769,1760.5 1866,1603 1983,1524 1994.5,1511.5 1802,1711 1892,1660 1897.5,1614.5 1782,1692 1894.5,1587.5 1827.5,1627 1920.5,1605 1939.5,1600 1908.5,1603 1860,1656.5 1808,1697.5 1660.5,1825 1994.5,1519 1939.5,1594 1998,1549 1656.5,1862.5 1900.5,1564.5 1973,1564 1983.5,1530.5 1946.5,1543 1933.5,1627 1804,1721.5 1912.5,1683 1933,1646 1871,1611 2052.5,1467 1818,1724.5 1771,1731 1868.5,1620.5 1920.5,1622 1979,1552.5 1635,1915.5 1886,1657 1931.5,1597 1771,1714 1905,1585 1998,1510.5 1931.5,1611 1987,1520 1869,1626 1945.5,1561.5 1839.5,1677 1819.5,1667 1914.5,1588 1709,1763 1983.5,1533.5 1819.5,1711 1931.5,1589 1902.5,1603.5 1862,1642 1979,1587.5 1791.5,1736.5 1878,1630.5 1979.5,1505 2028.5,1483.5 1864.5,1621.5 1841,1690 1796,1738.5 1863.5,1702.5 1903.5,1575 1819,1700 1921.5,1578 1869.5,1631 1827.5,1660 1931,1601 1879,1662.5 1820.5,1694.5 1897,1594 2008.5,1529 1937.5,1558.5 1827.5,1680.5 1834.5,1633.5 1836,1699 2021,1471.5 1816.5,1681.5 1833,1641 1587,1778 1918,1632.5 1872,1629 1846,1669.5 2053,1452 1815.5,1710 1996.5,1482.5 1810,1681.5 1949.5,1574.5 1975,1533.5 1981,1550 1848.5,1639.5 1948.5,1571.5 1868,1672 1793.5,1724.5 2003,1565 1737,1809 1814.5,1668.5 1987,1536.5 1903,1628.5 1780,1760.5 1940,1636.5 1891,1623 1901,1590.5 1852.5,1665.5 1782,1696.5 1984,1568.5 1893,1623 1855.5,1702.5 2012.5,1506.5 1822,1721.5 1969,1539 1798,1696.5 1861,1658 1803,1672.5 1887.5,1640.5 1799.5,1693 1961,1562 1924.5,1554 1914,1582.5 1892,1633 1805.5,1659 1969.5,1569.5 1975,1538 1748.5,1778 1836.5,1707.5 1834,1668 1880,1639.5 1993.5,1519.5 1882.5,1641 1719.5,1804.5 1749,1742.5 1801.5,1699 1848.5,1630.5 1770.5,1697.5 1786.5,1733 2067.5,1489.5 1854.5,1639.5 1641,1740.5 2017,1529 1817,1700 1841,1617.5 1997.5,1517 1662,1809 1929,1607.5 1871.5,1656 1907.5,1659 1880.5,1631 1775,1744.5 1843.5,1643 1863,1662.5 1963.5,1557.5 1885,1622 1633.5,1853 1812,1708.5 1856,1632.5 1856,1620 1788.5,1710 1955.5,1546.5 1670,1800 1679,1766 1808.5,1672 1857.5,1664 1856.5,1640 1802.5,1736.5 1955,1533.5 1811,1699 1910,1640 1752.5,1809 1873.5,1655 1506,1969 1890,1623.5 1876,1611.5 1911,1579 1756,1717 1957.5,1583 1815.5,1660 1942.5,1577 2053.5,1463.5 2002.5,1528.5 1863,1742.5 1882.5,1653.5 1790.5,1714 1864.5,1641.5 1869.5,1672.5 1751.5,1774.5 2019,1542 1813,1753.5 1853.5,1712.5 1869.5,1660.5 1809.5,1643 1951,1548 1793.5,1679.5 2023.5,1524.5 1880,1618 1928.5,1565 2039.5,1482.5 1848.5,1624.5 1837,1664 1943,1602 1768,1736.5 1668,1814 1878,1647.5 1743,1768.5 1729,1771.5 1847,1641.5 1816.5,1688 1847.5,1675 2067,1470 1848.5,1672 1874.5,1669.5 1843.5,1646 1746.5,1768.5 1950.5,1567 2024,1491 2004,1513.5 1877.5,1631.5 1967.5,1527.5 2051,1469 1914,1585.5 1893.5,1605 1872.5,1662.5 1936,1565.5 1946,1600 1885,1631 1920,1602.5 1799,1720 1853.5,1682.5 1711,1884.5 1911.5,1603 1902,1690 1945.5,1578 1590,1819 1763,1740.5 1899,1603 1949,1556 1732.5,1825 2060,1496 1902,1606 1871,1627.5 1955.5,1556.5 1862.5,1642.5 1977.5,1567 1996.5,1481 1792,1668 2010.5,1506.5 1805,1740.5 1867,1661.5 1814.5,1715.5 1877,1617.5 1758,1718.5 1871.5,1634.5 1826,1717 1876.5,1629.5 1850.5,1649 1862,1657 1566.5,1938 1865.5,1645.5 1926.5,1578 1746.5,1727.5 1923.5,1575.5 1851,1630.5 1881,1642.5 1927,1577.5 1967,1561.5 1896.5,1678.5 1558.5,1969 1855,1642 1819.5,1724.5 1693,1792 1703,1731 1802,1701 1956,1567 1803.5,1678 1847,1647.5 1987,1513 1798.5,1683 1871.5,1632 1947.5,1582 1894.5,1603 1849,1624 2040,1436.5 1742.5,1784.5 1835,1672 1877,1668 1940.5,1571 1757,1740.5 2015,1564.5 1968,1530.5 1756.5,1746.5 1674,1819 1904,1629.5 1692,1825 1855.5,1626 1843,1686 2036.5,1487 2032,1475 1849.5,1662.5 1824,1681.5 1692,1825 1827.5,1691 1817.5,1691 1808,1688 1724,1781 1958.5,1556.5 1897.5,1617.5 1749.5,1723 1846.5,1649 1908.5,1574 1881,1577.5 1807.5,1727.5 1883,1629.5 1767,1778 1824.5,1695.5 1793.5,1714 2012,1508 1786,1744.5 1757,1781 1784.5,1736.5 1923,1633 1995.5,1522.5 1965.5,1548.5 1849.5,1645.5 1818,1658 1952.5,1572 1922,1592 1881.5,1650 1958,1538.5 1902,1641.5 1932,1592.5 1916,1672 1829,1666.5 1969.5,1611 1921,1562 1777,1795.5 1877.5,1605 1786.5,1665 1877.5,1647.5 1949.5,1579.5 1901,1569.5 1789.5,1683 1849,1639.5 1847,1676 1804.5,1688 1971.5,1550.5 1917.5,1624.5 1842,1665 1899.5,1668.5 1875,1618 1829.5,1702.5 1904.5,1601 1689,1845 1934,1570 1829,1678.5 1847,1672.5 1989.5,1544 1935,1560.5 1979.5,1588.5 1831,1647.5 1973.5,1550 1813,1727.5 1830,1660 1623,1969 1909.5,1592.5 1858,1666.5 1500,1969 1989.5,1555.5 1924.5,1581.5 1828.5,1671 1803,1729.5 1803.5,1724.5 1855,1661.5 1694.5,1768.5 1552.5,1969 1844,1668.5 1777,1682.5 1724,1729.5 1653,1872.5 1627.5,1938 1751,1748.5 1891.5,1647.5 1892.5,1618 1920,1605.5 1831,1677 1858,1646.5 1793,1691 1984.5,1559.5 1687,1814 1860.5,1655 1940,1580.5 1834,1662.5 1908.5,1599.5 1862,1622 1865,1656.5 1686,1819 1868,1656.5 1855,1624.5 1834.5,1649 1974,1551.5 1856,1652 1884.5,1623.5 1598.5,1862.5 1878.5,1603 1862.5,1653.5 1904.5,1569 1896,1651 1940.5,1584 1826.5,1657 1965.5,1624 1767,1727.5 1867.5,1693 1943.5,1554 1822.5,1680.5 1703.5,1788 1589.5,1838 1925.5,1604.5 1661.5,1838 1912,1555.5 1836.5,1664 1817.5,1659 1900,1616 1917,1598 1836.5,1708.5 1938.5,1579 1890.5,1635.5 1968,1578.5 1715.5,1726 1938,1563.5 1898,1610 2037,1465 1918,1608.5 1916,1633.5 2037.5,1500 1853,1668.5 1920.5,1583.5 1789.5,1681.5 1799.5,1711 1934.5,1549 1878.5,1591.5 1804.5,1768.5 1688,1831 1851.5,1641 1789.5,1712.5 1904.5,1628 1859,1632.5 1916,1624 1705,1814 1942,1546.5 1587.5,1938 1663,1898.5 1735.5,1795.5 1945.5,1571 1868.5,1645 1946.5,1574.5 1834,1671 1862.5,1672 1836.5,1643 2019,1459 1757.5,1748.5 1768.5,1721.5 1989.5,1493.5 1915.5,1598 1648.5,1751 1862,1643 1957.5,1580.5 1895.5,1645.5 1852.5,1639.5 2017,1527.5 1874.5,1680.5 1994.5,1528.5 1651.5,1898.5 1849.5,1672.5 1936,1656.5 2002.5,1488.5 1855,1655 1979,1554.5 1958.5,1566 1691,1825 1807,1694.5 1784.5,1726 1609,1938 1808.5,1684 2044,1520 1964.5,1567 2028.5,1463.5 1890,1617 1503.5,1969 1729.5,1753.5 1692,1792 1821.5,1675 1995,1566.5 1968.5,1544 1898.5,1631.5 2047.5,1500.5 1798,1727.5 1942.5,1607.5 1785.5,1774.5 1972.5,1512 1922.5,1597 1753,1753.5 1866,1639 1861,1701 1947.5,1579.5 1856.5,1649.5 1898.5,1656.5 1998,1524.5 1966.5,1575.5 1990,1574 1808.5,1694.5 1876.5,1647.5 1896,1609.5 1933,1582.5 1857.5,1724.5 1884,1641 1945.5,1545 1888.5,1625 1979.5,1541.5 1850.5,1649.5 1807.5,1671 1758.5,1753.5 1584,1969 1780,1838 1833.5,1688 1881.5,1629 1894,1618.5 1928.5,1576 1788,1696.5 2045,1486 1849.5,1693 1971,1563 1973,1512 1755,1751 2033,1480 1757,1695.5 1938.5,1554.5 2003,1553.5 1729,1744.5 1774,1714 1916,1646.5 1772,1690 1754.5,1800 1782.5,1701 1768.5,1740.5 1945,1615 1999.5,1538.5 1973,1558 1830,1654 1616,1915.5 1883,1590.5 1740.5,1781 1919,1610.5 1792.5,1699 1960,1557.5 1857.5,1594.5 1702.5,1748.5 1771,1723 1913.5,1574.5 1890,1630.5 1803,1740.5 1944.5,1582.5 1949,1597 1842.5,1678 1934.5,1575.5 1754,1763 1798.5,1724.5 1817.5,1695.5 1911.5,1620.5 1921,1621 1829.5,1663.5 1986,1555.5 1944,1587 1827,1731 1874,1656.5 2027,1520.5 1701,1760.5 1876,1602 1838,1628 1782.5,1706 1901.5,1634.5 1920,1577 1852,1680.5 1895.5,1598 1747.5,1768.5 1801.5,1763 1916.5,1580.5 1868.5,1619 1952,1590 1884,1599.5 1663.5,1938 1817,1701 1978,1585.5 1961,1539.5 1730.5,1738.5 1850,1674.5 1869,1629 1753.5,1763 1884.5,1617.5 1794.5,1691 1947,1601.5 1973.5,1568 1915.5,1594 1838,1755.5 1860.5,1632.5 2005.5,1512 1557.5,1853 1890,1623.5 1948.5,1551 1872.5,1639 1889.5,1604.5 1806,1687 1986,1528 1826,1690 1873.5,1615.5 1884.5,1602.5 1862.5,1661.5 1720.5,1733 1836.5,1656.5 1956.5,1561.5 1976,1561.5 1775,1727.5 1943,1604 1870,1602.5 1902.5,1576 1964.5,1548.5 1891.5,1591 2032,1524 1895,1602 1886,1590 1846.5,1656 2030,1504 1906.5,1629 1886.5,1635.5 1823.5,1684 1707.5,1838 1921.5,1585.5 1968.5,1548.5 1972.5,1545 1683.5,1788 1842,1622.5 1872.5,1638.5 1982,1556 1851.5,1674.5 2022,1483.5 1845,1672 1861,1734.5 1879,1630.5 1949.5,1581.5 1796.5,1727.5 1818.5,1712.5 1928,1554.5 2020.5,1514 1800.5,1691 1871,1627 1836.5,1678.5 1931,1588 1721,1736.5 1942.5,1538 1848.5,1684 1813.5,1721.5 2020.5,1545.5 1589,1938 1742,1744.5 1665,1778 1985.5,1537.5 1841.5,1683 1907,1618 1620.5,1831 1896.5,1603.5 2009,1512.5 1773,1724.5 1682,1778 1947.5,1603 1778,1733 1839.5,1632.5 1867.5,1638 1913.5,1596 1924,1618.5 1813,1714 1844.5,1647.5 1778.5,1714 1812.5,1673.5 1940,1609.5 1882,1631.5 1888.5,1619 1893,1632.5 1907.5,1597 1925.5,1603 1796.5,1727.5 1880.5,1614 1908,1606 1850,1742.5 1728,1795.5 1976,1540.5 1829.5,1707.5 1825.5,1655 1919.5,1659 1791,1696.5 1832,1721.5 1888.5,1651.5 1905.5,1573.5 1963.5,1545 1951,1544 1929.5,1585.5 1886,1695.5 1899.5,1578 1912.5,1589.5 1909,1585.5 1637,1853 1936.5,1551 1792,1748.5 1833,1702.5 1856.5,1669.5 1957.5,1579 1686,1763 1967.5,1553.5 1917.5,1628.5 1940,1571 1822.5,1668 1939.5,1594.5 1922.5,1579 1907.5,1585 1677.5,1825 1834.5,1694.5 1950,1552 1841,1691 1760,1707.5 1914,1585.5 1628.5,1825 1962,1574 1775.5,1715.5 1651.5,1862.5 2004.5,1491.5 1867,1648.5 1894.5,1635.5 1807,1677 1775.5,1760.5 1860.5,1629 1763,1714 1875,1644.5 1880.5,1714 1943,1555 1845,1627 1973.5,1536.5 1946.5,1573.5 1757,1731 1774,1804.5 1791.5,1723 1700.5,1781 1981.5,1578 1853,1669.5 1804,1650 1768.5,1819 1769.5,1729.5 1908.5,1566 1820,1656.5 1809,1742.5 1876.5,1631.5 1761,1736.5 1893.5,1568 1911.5,1594 1897,1634.5 1907,1632.5 1719.5,1784.5 1847.5,1687 1841,1649 1919.5,1563 1805.5,1693 1927,1560 1855.5,1635.5 2032.5,1492 1955,1552 2012.5,1484.5 1902,1604 1862,1618 1870.5,1635.5 1846,1630.5 1735.5,1814 1738.5,1792 1768.5,1727.5 1751.5,1758 1917,1581.5 1947.5,1550 1730,1717 1998,1530 1854.5,1636 1928,1595 1858,1636.5 1848.5,1659 1649.5,1804.5 2035,1454.5 1853,1615.5 1828.5,1673.5 2037.5,1496 1738,1768.5 1880,1605 1975.5,1555 1814.5,1724.5 1825.5,1738.5 1788.5,1704.5 1993.5,1514 1993,1544 1598,1862.5 1892.5,1635 1799,1704.5 1793,1740.5 1870,1638.5 1900.5,1584 1826,1655 1934.5,1584.5 1803.5,1675 1869.5,1651 1797,1738.5 1900,1594.5 1994,1533 1829,1688 2048,1442.5 1825.5,1708.5 1870,1633 1793,1700 1832.5,1652.5 1772.5,1712.5 1947,1583.5 1907.5,1589 2017,1494 1888.5,1630 1862,1660 1811,1703.5 2039,1520 1769,1740.5 1823,1683 1927,1599 1989.5,1587 1878,1633 1943.5,1593 1907.5,1596 1972,1534 1999.5,1512.5 2026.5,1470 1849.5,1624 1856.5,1640 1978.5,1559 1724,1792 1839.5,1720 1816,1694.5 1967.5,1562 1879.5,1619.5 1558,1938 1822,1688 1814,1671 1946,1626 1891.5,1623 1914,1623.5 1911.5,1618 1957,1578 1848.5,1653.5 1886.5,1590.5 1793,1681.5 1758,1678 1659.5,1838 1804,1702.5 1911,1574 1765,1788 1814,1670.5 1837.5,1677 1821,1720 1993.5,1515.5 1839,1714 1806.5,1671 1950.5,1632.5 1856,1632 1684.5,1825 1974.5,1564 1953.5,1561.5 1939.5,1608.5 1750,1727.5 1738,1771.5 1950,1555 1774,1792 1936,1595.5 1874,1683 1909,1614 1808.5,1740.5 1971,1594 1983.5,1537.5 1879,1704.5 1870,1657 1828,1656.5 1880,1653.5 1825.5,1667 1932.5,1563 1807,1748.5 1872.5,1675 1858.5,1652 1917,1597.5 1874.5,1629 1892,1647.5 1835,1714 1786,1748.5 1841,1692 1945,1598 1894.5,1590 1828.5,1683 1864.5,1684 1746,1724.5 1884.5,1597.5 1892,1663.5 1839.5,1688 1918.5,1626 1746,1718.5 1774.5,1751 1912,1619 1831.5,1656.5 1955.5,1534.5 1920.5,1574.5 1938,1609 1882.5,1674.5 1832.5,1688 1815,1734.5 1806.5,1679.5 1914,1598.5 1833,1711 1937,1576.5 1974.5,1556 1808,1681.5 1808,1672.5 1954.5,1601.5 1843.5,1658.5 1892,1631.5 1943.5,1566 1722.5,1784.5 1762,1742.5 1771.5,1738.5 2031,1490 1826.5,1654.5 1921.5,1562 1901,1600 1743.5,1768.5 1851,1647 1925.5,1583.5 1768.5,1712.5 1993,1499 1838.5,1632.5 1914.5,1629 1737,1748.5 1826,1660.5 1948,1537.5 1828,1718.5 1960.5,1585 1990,1542 1998.5,1542.5 1794,1727.5 1886,1597 1801.5,1678.5 1919.5,1588 1797,1729.5 1794.5,1708.5 1892,1620 1806.5,1718.5 1878.5,1610.5 1986,1493.5 1673,1755.5 1765,1727.5 1898.5,1587 1974.5,1550.5 1878.5,1721.5 1973,1539 1953,1566.5 1957,1540.5 1882.5,1576.5 1908,1614 1912,1599 1532,1969 1621,1795.5 1898,1623.5 2056.5,1451 2002.5,1537.5 1961.5,1574 1822.5,1699 1888,1675 2036,1543 1949.5,1615 1894,1593.5 1778,1731 1743.5,1838 2000,1551.5 1889,1597 1945,1654.5 1831.5,1661.5 1676,1804.5 1801.5,1694.5 1820.5,1647 1962.5,1588 1837,1697.5 1566.5,1872.5 1891,1567 1830,1652.5 1842.5,1619 1931,1568 1864,1696.5 1688.5,1804.5 1840.5,1723 1923.5,1568.5 1776,1712.5 1894,1595 1922,1634 1813.5,1688 1839.5,1659 1888.5,1587 1902,1620 1791.5,1736.5 1962,1549.5 1841.5,1661.5 1961,1538.5 1874,1620 1833,1637.5 1864.5,1627.5 1808.5,1758 1814,1699 1986.5,1547.5 1875.5,1648.5 1789.5,1697.5 2024,1545.5 1966,1547 1942.5,1580 1859.5,1633.5 1739,1744.5 1926,1634 1853.5,1646 1767.5,1723 1875,1598 1964,1615 1891,1642 1806.5,1707.5 1871.5,1603 1833.5,1654.5 1982.5,1497 1831,1681.5 1872.5,1608.5 1854.5,1679.5 1938.5,1589.5 2020,1456 1924.5,1626 1870.5,1640.5 1899.5,1577.5 1953,1557 1739.5,1771.5 1887.5,1606 1880,1616 2026,1515.5 1851,1678 1876.5,1627 1860.5,1629 1921,1624.5 1908.5,1597.5 1795.5,1753.5 1930,1601 1876.5,1636.5 1827.5,1689 1806.5,1731 1829,1663.5 1834,1742.5 1894.5,1590.5 2016.5,1523 1892,1607 1888.5,1636 1681,1804.5 1836,1684 1892,1605 1959,1551 1872.5,1643 1690.5,1814 1817,1679.5 2025,1490.5 1848.5,1645 1820,1706 1878.5,1608.5 1627,1884.5 1807,1733 1867,1632.5 1916.5,1591.5 1956,1587 1776,1755.5 1840.5,1668.5 1839,1708.5 1762,1724.5 1870,1724.5 1761.5,1707.5 1837,1694.5 1995.5,1517 2004.5,1494.5 1902,1615 1797,1690 1884,1641.5 1793.5,1714 1855.5,1649 1606,1884.5 1724,1825 1884,1659 2029.5,1498 1836,1651 1991,1526 1827.5,1641.5 1985,1564 1957,1538 1991.5,1550.5 1783.5,1701 1800,1710 1742.5,1734.5 1881.5,1682.5 1910.5,1572 1872,1647.5 1839,1688 1923,1600 1865.5,1638 1889,1657 1908,1600.5 1893.5,1661.5 1958,1586.5 1773.5,1738.5 1861,1652 1997.5,1499 1931.5,1577 1886,1628 1895.5,1601 1898,1610.5 1852.5,1680.5 1902,1597 1893.5,1671 1900,1578.5 1842.5,1678 1899.5,1604 1749.5,1819 1971,1550 1879,1632 1920.5,1583 1817,1700 1790.5,1740.5 1905,1562.5 1864.5,1616 1895,1618.5 1823,1697.5 1870,1598.5 1803.5,1724.5 1945.5,1593 1842.5,1648.5 1753,1746.5 1952,1535 1672.5,1838 1748,1771.5 1911.5,1567.5 2001,1543.5 1891.5,1601 1796.5,1673.5 1896,1626.5 1828,1706 1824.5,1668.5 1950,1583.5 1947.5,1573.5 1919.5,1602.5 1888,1600.5 1885,1625.5 1751,1726 1991,1522 1822,1696.5 1945.5,1553.5 1861.5,1651.5 1852,1697.5 2004,1524.5 1759,1729.5 1852.5,1626.5 1992.5,1551 1826.5,1666.5 1836,1634.5 1914,1571 1864,1664 1873,1630 1773.5,1693 1718,1753.5 1707,1838 1981.5,1518 1873,1617 1912.5,1598.5 1963.5,1560.5 1853,1712.5 1879,1635 1899.5,1622 1802.5,1720 1771.5,1763 2026.5,1495 1837,1727.5 1824.5,1678 1602,1845 1881,1612.5 1972,1546 1868,1721.5 1809.5,1792 1823,1686 1824,1720 1797,1672.5 1932.5,1594.5 2052.5,1451 1904,1606 1942,1560.5 1956.5,1578 1882,1683 1933,1616.5 1951.5,1532 1879,1665 1949,1593.5 1787,1724.5 1826,1663.5 1806.5,1715.5 1990.5,1529 1775.5,1662 1831,1676 1897.5,1605 1882.5,1636 1869,1652.5 1986.5,1552.5 1819.5,1624 1762.5,1672.5 1909,1634 1953,1549 1942,1583.5 1879.5,1665.5 1825.5,1684 1825.5,1672.5 1666,1838 1831,1694.5 1957.5,1561.5 2001,1530.5 1853,1634 1830.5,1652.5 1838.5,1707.5 1971,1551.5 1932.5,1568 1906,1624.5 1950.5,1608 1970,1512.5 1904,1582.5 1798.5,1742.5 1817.5,1703.5 1777.5,1721.5 1979,1547.5 1950,1621 1872,1658 1920,1596.5 1750,1706 1984,1514.5 1610,1825 1801.5,1685 1951,1599 1929,1602 1921.5,1616 1970.5,1600.5 1775,1734.5 1922.5,1601.5 1894,1603.5 1820.5,1707.5 1886.5,1626 1949.5,1555.5 1525.5,1969 1918.5,1590 1886,1590.5 1866,1616 1969,1551 1925.5,1620 1974,1550 1908,1623 1978.5,1641.5 1854,1672.5 2031.5,1483 1943,1593 1835,1662 1977,1540 1963.5,1554 1963.5,1504.5 1863.5,1624.5 1933.5,1649.5 1824,1723 1794.5,1804.5 1983,1575 1676,1771.5 1858.5,1648.5 2041.5,1485.5 1871,1634 1901.5,1602 1904,1596 1968,1590.5 1881.5,1587 1745.5,1781 1853,1633.5 1893,1606 1745.5,1781 1841.5,1696.5 1933.5,1619 1840,1697.5 1921.5,1545.5 2041.5,1481.5 1926.5,1601 1713,1763 1845.5,1645.5 1762.5,1738.5 1842.5,1654.5 1814.5,1677 1803.5,1733 1895.5,1601 1887,1632.5 1648.5,1862.5 1954,1577 1894.5,1619.5 1838.5,1693 1744.5,1733 1978,1520 1885.5,1576 1879,1681.5 2018.5,1505.5 1862,1661.5 1786,1691 1813,1678 1946,1615 1909.5,1608.5 1936.5,1582 1846,1655 1903.5,1597 1918,1608 1957,1547 1879.5,1665 1560,1938 1760.5,1795.5 1743,1778 1799,1753.5 1951.5,1539 2006.5,1514.5 1772.5,1733 1949.5,1562 1817.5,1690 1624.5,1838 1958.5,1555.5 1873.5,1616.5 1823.5,1690 1909.5,1594 1938,1558.5 1740,1766 1892,1609.5 1860.5,1640.5 1787.5,1758 1959.5,1567.5 1802,1692 1824.5,1664 1881.5,1606.5 1908.5,1598.5 1928,1585 1883.5,1614.5 1968,1546 1902.5,1581.5 1828,1678.5 1866,1654 1807.5,1712.5 1992,1543 1818.5,1686 1911,1608.5 1796.5,1751 1826,1680.5 1743,1774.5 1885,1628 1819.5,1621.5 1779,1740.5 1910.5,1602.5 1813.5,1686 1920.5,1579.5 1734,1733 2064.5,1431 1902,1593.5 1602.5,1872.5 1807,1692 1642.5,1884.5 1857.5,1663.5 1791.5,1710 1773.5,1738.5 1827.5,1691 1944,1608 1703.5,1845 1832,1680.5 1764,1760.5 1867,1626.5 1943,1554 1815,1726 2026.5,1493.5 1864,1651 1860,1656.5 1766.5,1706 1696.5,1736.5 2050.5,1463.5 1806,1781 1789,1748.5 1754,1703.5 1783,1702.5 1810,1682.5 1748,1721.5 1948,1619 1915.5,1603.5 2028,1557.5 1913,1585 1851,1683 1856,1693 2014.5,1501.5 1831.5,1658 1892,1566 1862.5,1635.5 1826,1699 1802,1751 1938,1558 1901.5,1632 1712.5,1771.5 1873,1637.5 1867.5,1613 1895,1629.5 1828,1652.5 1930,1580.5 1902,1600 1822.5,1717 1925.5,1573.5 1786,1736.5 1955.5,1558.5 1959,1549 1925.5,1578.5 1820,1669.5 1833,1652 1751.5,1748.5 1776.5,1686 1995,1580.5 1824,1657 1766.5,1778 1772,1680.5 1985,1543.5 1836.5,1660 2055.5,1452.5 1735.5,1753.5 1859,1726 1748,1763 1821.5,1736.5 1906,1607.5 1681,1800 1702.5,1736.5 1853,1660.5 1964,1527 1941,1576 1718.5,1853 1827.5,1689 1888.5,1614.5 1830.5,1711 1890.5,1659 1871.5,1662.5 1891.5,1635.5 1981.5,1552.5 1847,1666.5 1817.5,1734.5 1912,1632 1694.5,1784.5 1923.5,1565.5 1891.5,1639 1890.5,1624 2035.5,1551 1893,1624.5 1930.5,1591 1968,1577 1793.5,1689 1971,1550 1873,1639.5 1706.5,1729.5 2051,1467.5 1798,1704.5 2019,1459.5 1824,1704.5 1822,1626 1829,1696.5 1944.5,1573.5 1813.5,1688 1851,1632.5 1900.5,1615.5 1754.5,1694.5 1711,1804.5 1689.5,1774.5 1781.5,1729.5 1794.5,1701 1928,1602 1829,1642 1942.5,1579 1783,1733 1635,1792 1989,1500 1958,1580 1939.5,1578.5 1840,1670.5 1920.5,1587.5 1912,1605.5 1987.5,1513.5 1881,1621 1963.5,1534 1732.5,1781 1798.5,1712.5 1886.5,1613.5 1842.5,1633 1890,1681.5 1916,1591 1973.5,1530.5 1794.5,1707.5 1806.5,1654 1715.5,1792 1841.5,1704.5 1971,1528 1929.5,1587 1795.5,1755.5 1693.5,1766 1926.5,1554 1749,1788 1881,1600 1933,1594.5 1951,1523 1960.5,1509 1683.5,1884.5 2051.5,1483.5 1912.5,1615.5 1850.5,1630 1829,1665 1850.5,1631 1836,1612 1887.5,1627 1905.5,1710 1967.5,1519.5 1758,1727.5 1643.5,1898.5 1898.5,1611 1884,1632.5 1846,1614 1676.5,1898.5 1850,1630 1923,1560.5 1956.5,1589 2017,1481.5 2003,1510.5 1922,1641 1879.5,1650 1501.5,1969 1614,1809 1636,1753.5 1915.5,1582 2042,1456.5 1825.5,1678 1935.5,1588.5 2022,1502 1838,1651.5 1919,1636 1918,1562 1881,1626 1780,1692 2046.5,1476 1902.5,1592 1944,1612.5 1832.5,1696.5 1810.5,1672.5 1704,1819 2010,1493 1907.5,1596 1840.5,1629.5 1838.5,1663.5 1926,1551 1855.5,1632.5 1872.5,1601 1879,1618.5 1921,1581 1893,1580 1869.5,1629.5 1817.5,1659 1929.5,1617 1790.5,1723 1546.5,1898.5 1937.5,1538 1895.5,1574.5 1803,1736.5 1850,1691 1828.5,1766 1861,1634 1824.5,1680.5 1947,1578.5 1859,1654 1591,1862.5 1936,1607.5 2016,1510 1805.5,1704.5 1867,1645.5 1982.5,1542.5 1909,1594 1759.5,1800 1818.5,1660.5 1970,1567 1917.5,1593 1827,1669.5 2007,1538 1949.5,1582.5 1942,1551 1887,1612.5 1726.5,1853 1898.5,1636.5 2039,1480.5 1844.5,1643.5 1939,1631.5 2044.5,1477.5 1965.5,1556 1830.5,1706 2002,1506.5 1816,1681.5 1834.5,1672 1837,1626 1936,1581.5 1952,1588 1750.5,1738.5 1920,1628 1837.5,1639 1862.5,1649 1997.5,1522 1826.5,1636.5 1902.5,1651 1856,1656.5 1860,1617.5 1819.5,1662.5 1783,1706 1902,1630 1765.5,1689 1813,1668 1853,1640.5 1961.5,1568 1843,1640.5 1712,1872.5 1800.5,1676 1991.5,1525.5 1795,1692 1894.5,1614 1969,1592 2004,1587 1812,1689 1889.5,1625 1956,1524.5 1905.5,1604.5 1813.5,1714 2056.5,1446 1933.5,1652 1830,1693 1751.5,1778 1819,1635.5 1915.5,1598 1769.5,1702.5 1809,1701 1865.5,1642 1856,1689 1873.5,1631 1771.5,1710 1950,1597.5 1942,1620 1740.5,1766 2016,1500 1876,1639 1777,1742.5 1859.5,1680.5 1819.5,1706 1903,1601 1854,1640.5 1727.5,1758 1853.5,1655 1867,1607 1847.5,1673.5 2009,1528 1793.5,1706 1852,1656.5 1821.5,1675 1821,1665.5 1758.5,1740.5 1774.5,1814 1907,1610 2048,1463 1970,1521 1725,1748.5 1758,1703.5 1932.5,1595 1801.5,1697.5 1951.5,1595.5 1863.5,1729.5 1915,1596 1788,1666.5 1933.5,1552.5 1841,1699 1816.5,1758 1775,1708.5 1839.5,1694.5 1979,1499 1809,1680.5 1715.5,1778 1880.5,1696.5 1755.5,1734.5 1990.5,1502 1926,1577 2020.5,1485.5 1837,1688 1885.5,1649.5 1745,1753.5 1903,1619 1885,1614 2004,1537 1983,1546 1825.5,1650 1930.5,1585.5 1887.5,1607 1939,1592 1836,1618.5 1881.5,1636.5 1891,1667 1933.5,1588.5 1858,1625.5 1974.5,1530 1913.5,1577 1856,1657 1904,1662.5 1880.5,1626 1769.5,1753.5 1733.5,1720 1828.5,1703.5 1877.5,1629.5 1770.5,1738.5 1749,1809 1948.5,1590.5 1804.5,1720 2021,1502 1789.5,1667 1853.5,1668.5 1959,1552.5 1844.5,1672 1921,1583.5 1561,1760.5 1981.5,1574 1972,1612.5 1908.5,1591.5 1827,1682.5 1647,1792 1988,1522.5 1955,1543 1915,1609 1984.5,1505.5 1998.5,1526 1935.5,1575.5 1681.5,1809 1594.5,1819 1918.5,1616.5 1806,1708.5 1940.5,1592.5 1904,1643 1837.5,1652 1776,1723 1917,1581 1989.5,1569 1875.5,1621 1911,1603 1679,1755.5 1903,1614.5 2000,1511.5 1831.5,1690 1887.5,1608.5 1901,1635.5 1894,1628 1801,1679.5 1906.5,1584.5 1745,1718.5 1958,1561.5 1515.5,1938 2013,1516 1765.5,1720 2048.5,1463.5 1917,1605.5 1768.5,1771.5 1975,1559 1866,1685 1645,1898.5 1815.5,1724.5 1902.5,1614 1881.5,1610 1914,1643.5 1875.5,1644.5 1768.5,1717 1784,1717 1938,1560 1880,1657 1924,1620.5 1899.5,1585 1919,1596 1912.5,1580.5 2031.5,1486 2007.5,1526.5 1993.5,1515.5 1688,1938 1763,1748.5 1957.5,1578 1955,1582 1759.5,1738.5 1718,1792 1949,1592.5 1839,1662.5 1894.5,1619.5 1972,1542 1887.5,1649.5 1839,1663.5 1910,1668.5 1890,1622.5 1894,1600.5 2048.5,1463.5 1826.5,1651.5 1904.5,1609 1845,1665 1927.5,1598.5 2007.5,1489 2051.5,1466.5 1608.5,1838 1968,1564.5 1700.5,1825 1904,1648.5 1798,1666.5 1893.5,1619.5 1880,1625.5 1774,1701 2003,1516.5 1888.5,1605 1946,1551.5 1805,1748.5 1850,1654.5 1830,1625.5 1801,1674.5 1787,1738.5 1510,1915.5 1904,1649 1928.5,1581 1820.5,1667 1894.5,1630.5 1982,1545.5 1914.5,1602 1876.5,1628.5 1889.5,1624.5 1916.5,1594 2043.5,1474 1926.5,1612.5 1802,1746.5 1800.5,1724.5 1969.5,1558 1817,1717 1870.5,1630.5 1924.5,1633 1759.5,1740.5 1987,1576.5 1889,1660.5 1793,1800 1824,1652.5 1749,1726 1770,1771.5 1786,1706 1859,1625 1883.5,1606 1921,1579.5 1867,1651 1985,1552.5 1827.5,1738.5 1760.5,1748.5 1812.5,1727.5 1851,1664 1825,1640 1812.5,1718.5 1866,1631.5 1986,1541.5 1512.5,1938 1635.5,1938 1773.5,1683 1990,1517 1508,1938 1940.5,1594 1576,1969 1680.5,1872.5 1946.5,1619 1859.5,1701 1795.5,1753.5 2027.5,1548.5 1897,1605 1893,1658 1973.5,1546.5 1899,1590.5 1963,1570 1916,1586.5 1818,1733 1903.5,1584 1675,1760.5 1789.5,1758 1826,1694.5 2067,1493 1945.5,1536 1985,1522.5 1826,1697.5 1937,1586 1800.5,1726 1892.5,1636.5 1827,1721.5 1741,1771.5 1892.5,1668.5 1826,1697.5 1580.5,1872.5 1984.5,1549.5 1947.5,1578.5 1827.5,1712.5 1924,1571 1990,1534.5 1957.5,1566 1893,1641 1941,1553.5 1748,1744.5 1765,1717 1881,1645 1730.5,1726 1842,1645.5 1631.5,1969 1804,1710 1839.5,1637.5 1993.5,1507 1817.5,1702.5 1618,1884.5 1783.5,1733 1822.5,1699 1942,1598 1925,1549.5 1889,1634 1872.5,1656.5 1971.5,1551 1824,1663.5 1911,1605 1856,1647 1695.5,1781 1771.5,1697.5 1773.5,1744.5 1983.5,1525 1720,1788 1848.5,1637.5 1810.5,1628.5 2046.5,1495.5 1854.5,1669.5 1883.5,1646.5 1749.5,1784.5 2022,1506.5 1672.5,1838 2022,1529 1828,1649 1827.5,1662 1972,1547 1805.5,1700 1787,1711 1842.5,1654.5 2060,1455 1973,1568.5 1895.5,1621 1883.5,1629.5 1733,1784.5 1836,1640.5 1843,1659 1965,1560 1872,1627.5 1990.5,1523.5 1809,1699 1872,1626 1802,1729.5 1975.5,1517.5 1862,1642 1630,1938 1786,1708.5 2036,1508.5 1853,1625.5 1919,1603 1661.5,1753.5 1831.5,1681.5 2025,1486 1879.5,1650 1899.5,1590 1743.5,1742.5 1930.5,1578.5 1710.5,1831 1841,1665 1920.5,1600 1759.5,1721.5 1561,1969 1814,1700 1955.5,1527.5 1896.5,1643.5 1879,1619.5 1859,1673.5 1936,1567.5 2027,1517 1797,1706 1822,1670.5 1994,1552 1857,1656.5 1980.5,1546 1992.5,1555 1881.5,1628.5 2007,1500.5 1842.5,1678 1680,1845 1872.5,1622.5 1921.5,1616.5 1931.5,1597.5 1873,1623.5 1985,1519.5 1959.5,1582.5 1962,1556.5 1854,1684 1847.5,1659 1914.5,1685 1853.5,1727.5 2022,1516.5 1649.5,1784.5 1740,1814 1940.5,1525.5 1961.5,1546 1709.5,1763 1843,1653.5 1721,1809 1849.5,1672 1908.5,1572 1924,1603 1665.5,1809 1836,1621.5 1577.5,1915.5 1744,1778 1712,1763 1852.5,1727.5 1858.5,1684 1801,1710 1978.5,1552 1880,1597.5 1956,1540.5 2015.5,1500 1941.5,1588.5 1876.5,1626 1705,1781 1865,1634.5 1782.5,1751 1907,1643 1843,1711 1880,1647 2068,1472.5 1922.5,1630.5 1825,1734.5 1764,1683 1752,1788 1860,1680.5 1869.5,1702.5 1921,1601 1829,1678 1759.5,1727.5 1905,1624 1798.5,1726 1986,1544 1926,1592.5 1908,1615 1858,1656.5 1908,1629.5 1960.5,1611 1891.5,1611 1782.5,1731 1866.5,1658 1908.5,1645 1955.5,1615.5 1830.5,1653.5 1852.5,1656.5 1800,1677 1972,1553 1805.5,1758 1848,1662.5 1924.5,1577.5 1911.5,1605 1820,1724.5 1730.5,1763 1716.5,1845 1789.5,1703.5 1857.5,1717 1918,1573.5 1934,1568.5 1964,1536.5 1863.5,1658 1853,1685 1868,1672 1904,1643.5 1745.5,1740.5 1706,1814 1931.5,1621.5 1881.5,1608 1919,1626 1880,1645.5 1638.5,1838 1889.5,1603 1951,1572.5 1862.5,1646 1842.5,1670.5 1947.5,1553.5 1779,1723 1802.5,1674.5 1785,1657 1711.5,1872.5 1934.5,1590 2009.5,1490.5 1979,1602 1845,1712.5 1702.5,1809 2004.5,1517.5 1962,1589.5 1982.5,1482 1590.5,1915.5 1879,1614 1982,1523.5 1943,1549.5 1842.5,1661.5 1686,1792 1994.5,1533.5 1733.5,1700 1693.5,1804.5 1988.5,1512.5 1781.5,1686 2028,1489.5 1873,1649.5 2030.5,1506 1854,1674.5 1812.5,1729.5 1856,1647.5 1865,1643.5 1834,1672 1928,1587 1750,1731 1902,1623.5 1848,1649.5 1955.5,1527 1989,1527 1880.5,1601 1895,1614 1871,1660.5 1801,1646.5 1785,1778 2020,1500 1944,1593 1913,1597.5 1941.5,1568 1900,1629.5 1762,1717 1842.5,1659 1833,1668.5 1779,1710 1863,1669.5 1896.5,1651 1889.5,1626.5 1896.5,1630.5 1891.5,1619 1866,1662.5 1890.5,1638 1957.5,1548.5 1784.5,1695.5 1898,1634 1991,1536.5 1692,1717 1762,1717 2012,1529 1891,1699 1864.5,1623 1536,1872.5 1979,1553 1999.5,1532 1853.5,1671 1936,1596 1786,1704.5 1844.5,1644.5 1944.5,1599.5 1758,1723 1934.5,1577 1918,1569.5 1843,1673.5 1871.5,1733 1774,1781 1953,1585 2007,1543.5 1787.5,1734.5 2042,1487.5 1859.5,1676 1950,1525 1887.5,1658.5 1778,1746.5 1732.5,1792 1696,1778 2040,1477.5 2005.5,1496 1764,1742.5 1971.5,1522 1982.5,1504.5 1999.5,1497.5 1867.5,1636.5 1818,1718.5 1994,1513.5 1968.5,1560 1818.5,1726 1768.5,1681.5 1900.5,1592 1784.5,1734.5 2026,1501 2002.5,1536.5 1958,1596 1555.5,1938 1861,1651.5 1844.5,1656 1952,1572 1939,1587.5 1834.5,1680.5 1840.5,1665 1809.5,1717 1779.5,1744.5 1940,1635.5 1988,1485.5 1911,1604 1783,1734.5 1924.5,1571.5 1937.5,1578.5 1931.5,1575 1807.5,1643.5 1891,1642.5 1810,1723 1924,1592 1898.5,1619 1873.5,1593 1887.5,1623.5 1794.5,1726 1833,1662.5 1909,1604 1948,1554.5 1937,1571 1830.5,1651.5 1800.5,1744.5 1919,1601.5 1758.5,1690 1769,1809 1842,1668.5 1742.5,1778 1755,1746.5 1860.5,1678 1559.5,1938 1944,1572 1983.5,1520.5 1812.5,1687 1851,1612.5 1984,1557 1688,1736.5 1856.5,1645 1884.5,1639 1991.5,1553 1749.5,1758 1846,1622.5 1767.5,1733 1736,1726 1768.5,1724.5 1627.5,1845 1899,1608.5 1996,1530.5 1858.5,1636.5 1911.5,1623.5 1844.5,1678 1838,1671 1850,1620.5 1873,1605 1760,1711 1811,1714 1908,1615.5 1758.5,1784.5 1798,1685 1920.5,1582 1890.5,1617 1792,1700 1939.5,1551.5 1928.5,1606.5 1930.5,1578.5 1950,1572 2022.5,1473 1900,1653.5 1750,1695.5 1900.5,1606 1836.5,1640 1960,1581.5 1919,1614 1782.5,1768.5 1879,1636 1918,1659 1925,1634 1832,1667 1842.5,1710 1944,1530.5 2012.5,1505.5 1856.5,1704.5 1923,1592 1902.5,1649 1816,1686 1805.5,1700 1842,1678.5 1620.5,1938 1861.5,1670.5 1921,1577 2022,1490.5 1900.5,1604 2054,1471.5 1898,1606 1576.5,1938 1813.5,1701 1933,1568.5 1875.5,1609 1782.5,1746.5 1959.5,1552.5 1972,1569 1777.5,1753.5 1854.5,1657 1764.5,1714 1917,1567.5 1947.5,1533.5 1861,1683 1984.5,1569.5 1983.5,1531.5 1991,1556 1869,1612.5 1841.5,1727.5 1755,1736.5 1759,1703.5 2051,1485.5 1644,1845 1889,1607.5 1707,1792 1841.5,1690 1902.5,1635 1933,1606 1997.5,1515 1923.5,1564 1901,1627 1817.5,1677 1831,1733 1924.5,1602 1854,1632 1917,1592.5 1704,1744.5 1896,1614 1950,1542.5 1830.5,1657 1915,1609.5 1784.5,1751 1794.5,1751 1913,1600 2056,1490.5 1843.5,1630 1874,1626.5 1941,1555 1834,1693 1869,1634.5 1830.5,1635 1837,1652.5 1908.5,1602 1900.5,1619 2000,1546.5 1849.5,1724.5 1814,1685 1913,1611 1733.5,1838 1748.5,1746.5 1787.5,1695.5 1717,1753.5 1811.5,1697.5 1795.5,1707.5 1726.5,1838 1867,1612.5 1886.5,1614.5 1865,1645 1978.5,1574.5 1772.5,1715.5 1730.5,1814 2061,1469.5 1896.5,1595.5 2004,1501.5 2007.5,1494.5 1812,1662 1780.5,1738.5 1820.5,1768.5 1796.5,1695.5 1780.5,1771.5 1810,1680.5 2054,1482 1866.5,1646 1772,1726 1851.5,1701 2060,1464 1900.5,1625.5 1784,1708.5 1858.5,1643.5 2047.5,1486.5 1958.5,1540 1942.5,1574 1934,1590.5 1806,1686 1959,1552 1952.5,1626 1974.5,1519.5 1958,1608.5 1970.5,1507 1947,1553.5 1670,1736.5 1943,1550 1971,1577.5 1898.5,1611 1901,1586.5 1797.5,1672.5 1864.5,1679.5 1761,1712.5 1605.5,1915.5 1981.5,1541 1615.5,1884.5 1723,1819 1834.5,1634.5 1804.5,1700 1735,1760.5 1873,1653.5 1923,1557 1796.5,1683 1695,1788 1797,1733 1865.5,1657 1765,1753.5 1951,1599.5 1893.5,1588 1774,1760.5 1812.5,1724.5 1913,1575.5 1967.5,1549.5 1776.5,1695.5 1979.5,1510 1829.5,1643.5 1846.5,1645.5 2015,1514.5 2007,1533 1730,1778 1771,1691 1686,1768.5 1925,1583.5 1953,1582 1959,1568.5 1859.5,1669.5 1903.5,1578 1985,1524.5 1770.5,1704.5 1631,1845 1792.5,1760.5 1896.5,1620 1938.5,1570.5 1796,1700 1862,1619 1909.5,1645.5 1941,1590.5 1919,1569 1833,1653.5 1856,1668.5 1851,1638.5 1710.5,1809 1793.5,1734.5 1857,1678 1913.5,1629.5 1624.5,1915.5 1933,1557 1961.5,1546.5 1840,1616 1783,1804.5 1867,1672 2015,1505 1930,1634 1864.5,1659 1757,1751 1880.5,1662.5 1836,1637.5 1756,1701 2012,1505 1881.5,1643.5 1949,1573.5 2023.5,1476.5 1724.5,1766 1892,1616.5 1937,1608.5 1976.5,1568.5 1968,1560 1840,1697.5 1930.5,1570.5 1861.5,1655 1746,1781 1782,1755.5 1969,1555.5 1928.5,1565 1828.5,1683 1817,1668.5 1872.5,1634.5 1917,1578 1965.5,1536 1850,1617 1825,1669.5 1855,1683 1900,1549 1907,1656 1998.5,1559.5 2335,1214 2315.5,1219 2307,1220 2290,1218 2291,1235.5 2276.5,1263.5 2259.5,1273.5 2258,1288 2213,1285.5 2219,1293 2234.5,1301.5 2240.5,1302 2249,1307 2174.5,1306 2190,1308 2208.5,1316.5 2207,1322.5 2213,1326 2235.5,1332 2242,1331.5 2187.5,1337 2186,1340.5 2212.5,1343 2199.5,1348.5 2138,1353 2171,1352 2162.5,1356 2155,1359.5 2151.5,1358.5 2139.5,1364 2147.5,1370 2155,1372.5 2230.5,1367.5 2121.5,1378.5 2135,1376.5 2121.5,1384 2136.5,1382.5 2166,1384.5 2186.5,1384.5 2152.5,1388.5 2150.5,1393.5 2140.5,1396 2096,1390.5 2102.5,1390 2100.5,1396 2110.5,1394.5 2115,1396.5 2083.5,1402.5 2076,1405 2071.5,1411 2093.5,1409.5 2121,1403 2134.5,1405.5 2140.5,1409 2159.5,1404 2103,1411 2122.5,1410.5 2139,1413 2154.5,1415.5 2150,1419.5 2125,1420 2102,1415 2109,1419.5 2076.5,1417.5 2076.5,1423.5 2103,1425 2065.5,1432 2085,1429.5 2118,1431.5 2172.5,1429 2104.5,1431 2141,1439.5 2132,1447.5 2082.5,1439.5 2090,1444 2096,1446.5 2106.5,1444 2108,1454 2088.5,1449 2154.5,1458 1859.5,1570.5 1737.5,1677 1712.5,1698 1700.5,1706.5 2088.5,1461 2094.5,1463.5 2097,1468 2092,1473 2088.5,1480.5 2090,1486.5 2091,1494 2071.5,1507.5 2063.5,1515 2070.5,1525.5 2059,1504.5 2065.5,1490.5 2075.5,1461 2080,1466 2075.5,1472 2078,1476.5 2065.5,1472 2073,1478 2065.5,1482.5 2055,1490 2051.5,1499.5 2052.5,1532.5 2044,1531.5 2041.5,1543 2034.5,1555 2044,1560 2023.5,1552"/>
<path class="axl" d="M1462.8 1113.4V2008.2M1453.8 2000.2H2449.6M1453.8 1823H1462.8M1660 2000.2V2008.2M1453.8 1645.8H1462.8M1857.2 2000.2V2008.2M1453.8 1468.6H1462.8M2054.4 2000.2V2008.2M1453.8 1291.4H1462.8M2251.6 2000.2V2008.2M1453.8 1114.2H1462.8M2448.8 2000.2V2008.2"/>
<text class="t" x="1434.5" y="2009" text-anchor="end" textLength="84" lengthAdjust="spacingAndGlyphs">1.0E-06</text>
<text class="t" x="1462.5" y="2045.7" text-anchor="middle" textLength="84" lengthAdjust="spacingAndGlyphs">1.0E-06</text>
<text class="t" x="1434.5" y="1831.8" text-anchor="end" textLength="84" lengthAdjust="spacingAndGlyphs">1.0E-05</text>
<text class="t" x="1659.7" y="2045.7" text-anchor="middle" textLength="84" lengthAdjust="spacingAndGlyphs">1.0E-05</text>
<text class="t" x="1434.5" y="1654.6" text-anchor="end" textLength="84" lengthAdjust="spacingAndGlyphs">1.0E-04</text>
<text class="t" x="1856.9" y="2045.7" text-anchor="middle" textLength="84" lengthAdjust="spacingAndGlyphs">1.0E-04</text>
<text class="t" x="1434.5" y="1477.4" text-anchor="end" textLength="84" lengthAdjust="spacingAndGlyphs">1.0E-03</text>
<text class="t" x="2054.1" y="2045.7" text-anchor="middle" textLength="84" lengthAdjust="spacingAndGlyphs">1.0E-03</text>
<text class="t" x="1434.5" y="1300.2" text-anchor="end" textLength="84" lengthAdjust="spacingAndGlyphs">1.0E-02</text>
<text class="t" x="2251.3" y="2045.7" text-anchor="middle" textLength="84" lengthAdjust="spacingAndGlyphs">1.0E-02</text>
<text class="t" x="1434.5" y="1123" text-anchor="end" textLength="84" lengthAdjust="spacingAndGlyphs">1.0E-01</text>
<text class="t" x="2448.5" y="2045.7" text-anchor="middle" textLength="84" lengthAdjust="spacingAndGlyphs">1.0E-01</text>
<text class="g" x="2245.3" y="1383.4" textLength="86.8" lengthAdjust="spacingAndGlyphs">psbT</text>
<text class="n" x="2190.4" y="1444.1" textLength="114" lengthAdjust="spacingAndGlyphs">A0542</text>
<text class="n" x="2170.6" y="1487.5" textLength="112.1" lengthAdjust="spacingAndGlyphs">C0011</text>
<text class="n" x="1719.2" y="1581.3" textLength="114.5" lengthAdjust="spacingAndGlyphs">A2172</text>
<text class="ax" x="1588" y="2103" textLength="758" lengthAdjust="spacingAndGlyphs">Relative transcript abundance (standard)</text>
<text class="ax" transform="translate(1322 1990) rotate(-90)" textLength="883" lengthAdjust="spacingAndGlyphs">Relative transcript abundance (methyl viologen)</text>
<text class="pl" x="1292.8" y="1072.4" textLength="30" lengthAdjust="spacingAndGlyphs">D</text>
</g>
</svg></body></html>
